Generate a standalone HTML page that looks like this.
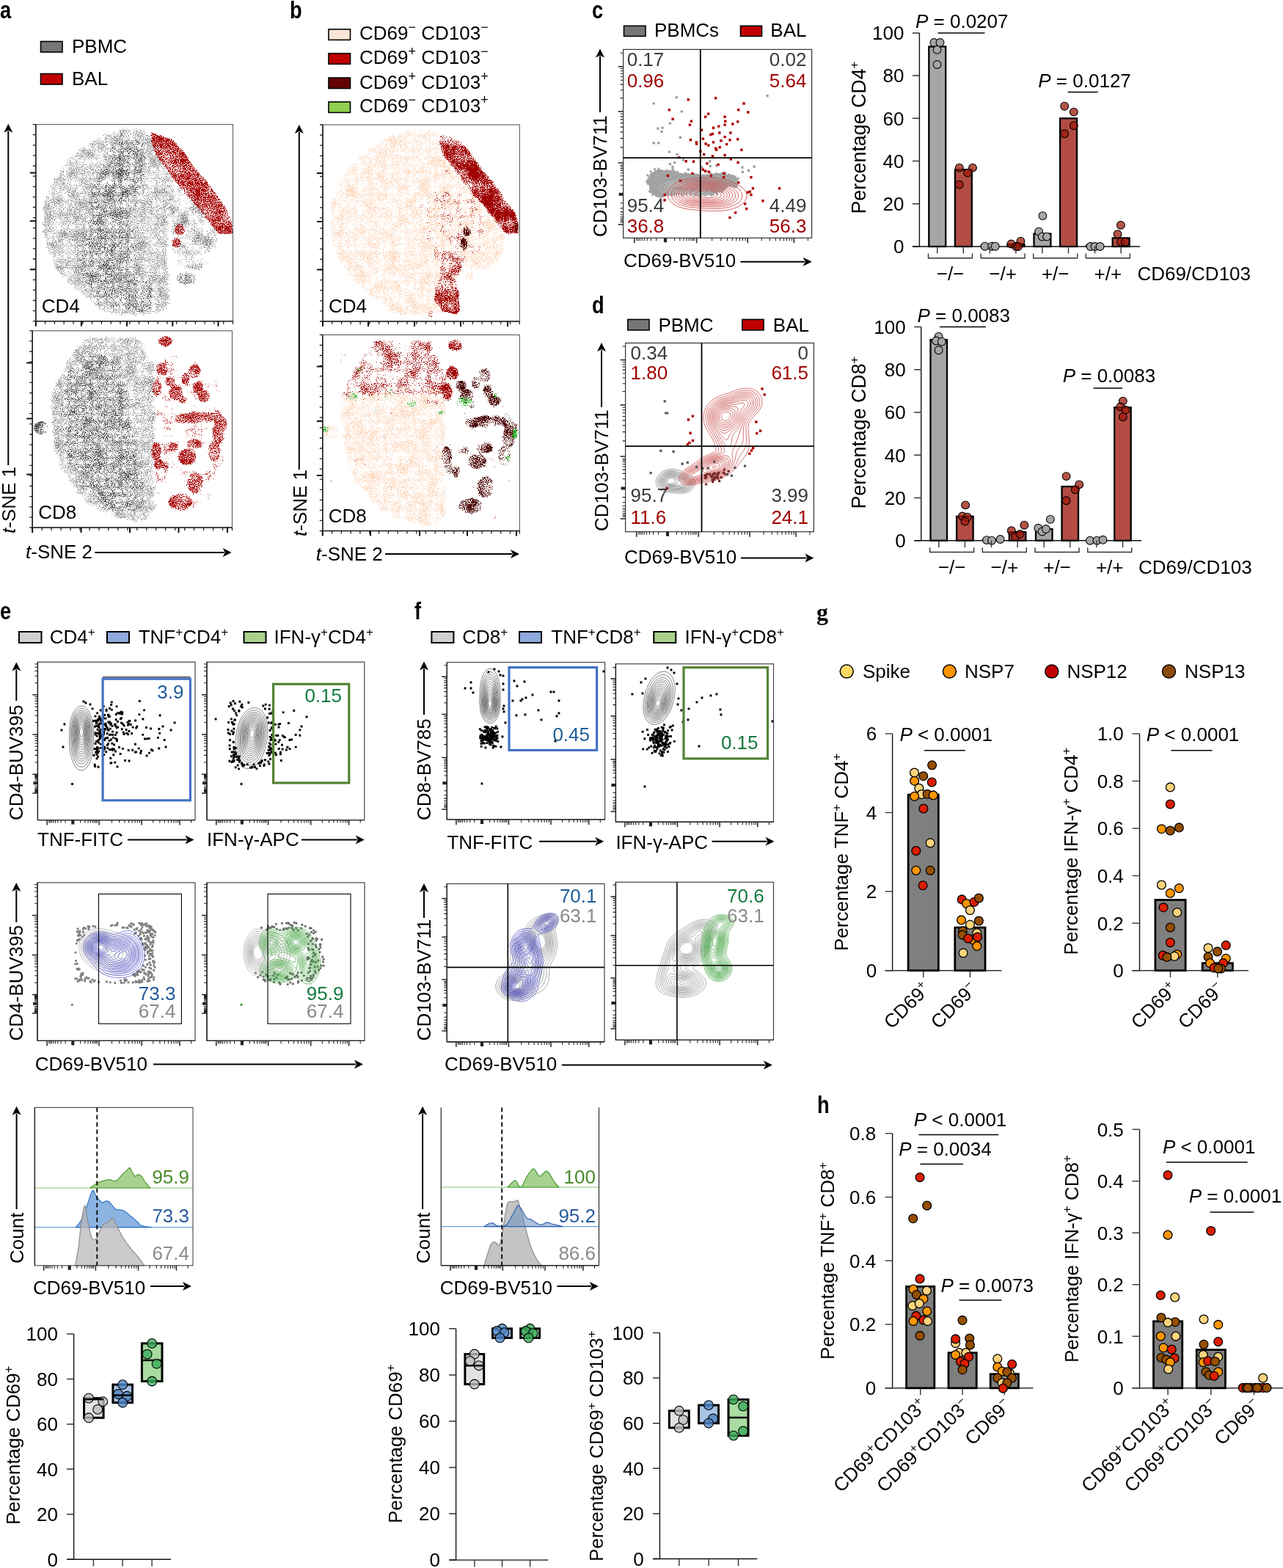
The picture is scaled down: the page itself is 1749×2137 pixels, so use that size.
<!DOCTYPE html>
<html><head><meta charset="utf-8"><title>Figure</title>
<style>html,body{margin:0;padding:0;background:#fff;overflow:hidden;}svg{display:block;}
text{font-family:"Liberation Sans",Arial,Helvetica,sans-serif;}</style></head>
<body><svg width="1749" height="2137" viewBox="0 0 1749 2137">
<defs><filter id="sf1" x="48.8" y="169.6" width="268.7" height="268.1" filterUnits="userSpaceOnUse" color-interpolation-filters="sRGB">
<feTurbulence type="fractalNoise" baseFrequency="0.9" numOctaves="1" seed="3"/>
<feColorMatrix type="matrix" values="1 0 0 0 0 1 0 0 0 0 1 0 0 0 0 0 0 0 0 1" result="hi"/>
<feTurbulence type="fractalNoise" baseFrequency="0.07" numOctaves="2" seed="53"/>
<feColorMatrix type="matrix" values="1 0 0 0 0 1 0 0 0 0 1 0 0 0 0 0 0 0 0 1" result="lo"/>
<feComposite in="hi" in2="lo" operator="arithmetic" k1="0" k2="1" k3="0.35" k4="-0.1749" result="m1"/>
<feGaussianBlur in="SourceAlpha" stdDeviation="9"/>
<feColorMatrix type="matrix" values="0 0 0 1 0 0 0 0 1 0 0 0 0 1 0 0 0 0 0 1" result="sh"/>
<feComposite in="m1" in2="sh" operator="arithmetic" k1="0" k2="1" k3="1.0" k4="-1.0000" result="m2"/>
<feColorMatrix in="m2" type="matrix" values="0 0 0 0 0.235 0 0 0 0 0.235 0 0 0 0 0.235 12 0 0 0 -6.720"/>
</filter><filter id="sf2" x="48.8" y="169.6" width="268.7" height="268.1" filterUnits="userSpaceOnUse" color-interpolation-filters="sRGB">
<feTurbulence type="fractalNoise" baseFrequency="0.9" numOctaves="1" seed="10"/>
<feColorMatrix type="matrix" values="1 0 0 0 0 1 0 0 0 0 1 0 0 0 0 0 0 0 0 1" result="hi"/>
<feTurbulence type="fractalNoise" baseFrequency="0.07" numOctaves="2" seed="60"/>
<feColorMatrix type="matrix" values="1 0 0 0 0 1 0 0 0 0 1 0 0 0 0 0 0 0 0 1" result="lo"/>
<feComposite in="hi" in2="lo" operator="arithmetic" k1="0" k2="1" k3="0.35" k4="-0.1749" result="m1"/>
<feGaussianBlur in="SourceAlpha" stdDeviation="3.0"/>
<feColorMatrix type="matrix" values="0 0 0 1 0 0 0 0 1 0 0 0 0 1 0 0 0 0 0 1" result="sh"/>
<feComposite in="m1" in2="sh" operator="arithmetic" k1="0" k2="1" k3="1.0" k4="-1.0000" result="m2"/>
<feColorMatrix in="m2" type="matrix" values="0 0 0 0 0.561 0 0 0 0 0.561 0 0 0 0 0.561 12 0 0 0 -6.120"/>
</filter><filter id="sf3" x="48.8" y="169.6" width="268.7" height="268.1" filterUnits="userSpaceOnUse" color-interpolation-filters="sRGB">
<feTurbulence type="fractalNoise" baseFrequency="0.9" numOctaves="1" seed="11"/>
<feColorMatrix type="matrix" values="1 0 0 0 0 1 0 0 0 0 1 0 0 0 0 0 0 0 0 1" result="hi"/>
<feTurbulence type="fractalNoise" baseFrequency="0.05" numOctaves="2" seed="61"/>
<feColorMatrix type="matrix" values="1 0 0 0 0 1 0 0 0 0 1 0 0 0 0 0 0 0 0 1" result="lo"/>
<feComposite in="hi" in2="lo" operator="arithmetic" k1="0" k2="1" k3="0.3" k4="-0.1499" result="m1"/>
<feGaussianBlur in="SourceAlpha" stdDeviation="2"/>
<feColorMatrix type="matrix" values="0 0 0 1 0 0 0 0 1 0 0 0 0 1 0 0 0 0 0 1" result="sh"/>
<feComposite in="m1" in2="sh" operator="arithmetic" k1="0" k2="1" k3="1.0" k4="-1.0000" result="m2"/>
<feColorMatrix in="m2" type="matrix" values="0 0 0 0 0.235 0 0 0 0 0.235 0 0 0 0 0.235 12 0 0 0 -6.600"/>
</filter><filter id="sf4" x="48.8" y="169.6" width="268.7" height="268.1" filterUnits="userSpaceOnUse" color-interpolation-filters="sRGB">
<feTurbulence type="fractalNoise" baseFrequency="0.9" numOctaves="1" seed="4"/>
<feColorMatrix type="matrix" values="1 0 0 0 0 1 0 0 0 0 1 0 0 0 0 0 0 0 0 1" result="hi"/>
<feTurbulence type="fractalNoise" baseFrequency="0.05" numOctaves="2" seed="54"/>
<feColorMatrix type="matrix" values="1 0 0 0 0 1 0 0 0 0 1 0 0 0 0 0 0 0 0 1" result="lo"/>
<feComposite in="hi" in2="lo" operator="arithmetic" k1="0" k2="1" k3="0.6" k4="-0.2999" result="m1"/>
<feGaussianBlur in="SourceAlpha" stdDeviation="3.0"/>
<feColorMatrix type="matrix" values="0 0 0 1 0 0 0 0 1 0 0 0 0 1 0 0 0 0 0 1" result="sh"/>
<feComposite in="m1" in2="sh" operator="arithmetic" k1="0" k2="1" k3="1.0" k4="-1.0000" result="m2"/>
<feColorMatrix in="m2" type="matrix" values="0 0 0 0 0.541 0 0 0 0 0.541 0 0 0 0 0.541 12 0 0 0 -6.600"/>
</filter><filter id="sf5" x="48.8" y="169.6" width="268.7" height="268.1" filterUnits="userSpaceOnUse" color-interpolation-filters="sRGB">
<feTurbulence type="fractalNoise" baseFrequency="0.9" numOctaves="1" seed="5"/>
<feColorMatrix type="matrix" values="1 0 0 0 0 1 0 0 0 0 1 0 0 0 0 0 0 0 0 1" result="hi"/>
<feTurbulence type="fractalNoise" baseFrequency="0.05" numOctaves="2" seed="55"/>
<feColorMatrix type="matrix" values="1 0 0 0 0 1 0 0 0 0 1 0 0 0 0 0 0 0 0 1" result="lo"/>
<feComposite in="hi" in2="lo" operator="arithmetic" k1="0" k2="1" k3="0.3" k4="-0.1499" result="m1"/>
<feGaussianBlur in="SourceAlpha" stdDeviation="1.2"/>
<feColorMatrix type="matrix" values="0 0 0 1 0 0 0 0 1 0 0 0 0 1 0 0 0 0 0 1" result="sh"/>
<feComposite in="m1" in2="sh" operator="arithmetic" k1="0" k2="1" k3="1.0" k4="-1.0000" result="m2"/>
<feColorMatrix in="m2" type="matrix" values="0 0 0 0 0.659 0 0 0 0 0.000 0 0 0 0 0.000 12 0 0 0 -4.920"/>
</filter><filter id="sf6" x="48.8" y="169.6" width="268.7" height="268.1" filterUnits="userSpaceOnUse" color-interpolation-filters="sRGB">
<feTurbulence type="fractalNoise" baseFrequency="0.9" numOctaves="1" seed="13"/>
<feColorMatrix type="matrix" values="1 0 0 0 0 1 0 0 0 0 1 0 0 0 0 0 0 0 0 1" result="hi"/>
<feTurbulence type="fractalNoise" baseFrequency="0.05" numOctaves="2" seed="63"/>
<feColorMatrix type="matrix" values="1 0 0 0 0 1 0 0 0 0 1 0 0 0 0 0 0 0 0 1" result="lo"/>
<feComposite in="hi" in2="lo" operator="arithmetic" k1="0" k2="1" k3="0.6" k4="-0.2999" result="m1"/>
<feGaussianBlur in="SourceAlpha" stdDeviation="4"/>
<feColorMatrix type="matrix" values="0 0 0 1 0 0 0 0 1 0 0 0 0 1 0 0 0 0 0 1" result="sh"/>
<feComposite in="m1" in2="sh" operator="arithmetic" k1="0" k2="1" k3="1.0" k4="-1.0000" result="m2"/>
<feColorMatrix in="m2" type="matrix" values="0 0 0 0 0.659 0 0 0 0 0.000 0 0 0 0 0.000 12 0 0 0 -8.160"/>
</filter><filter id="sf7" x="44.2" y="450.8" width="272.3" height="268.2" filterUnits="userSpaceOnUse" color-interpolation-filters="sRGB">
<feTurbulence type="fractalNoise" baseFrequency="0.9" numOctaves="1" seed="6"/>
<feColorMatrix type="matrix" values="1 0 0 0 0 1 0 0 0 0 1 0 0 0 0 0 0 0 0 1" result="hi"/>
<feTurbulence type="fractalNoise" baseFrequency="0.07" numOctaves="2" seed="56"/>
<feColorMatrix type="matrix" values="1 0 0 0 0 1 0 0 0 0 1 0 0 0 0 0 0 0 0 1" result="lo"/>
<feComposite in="hi" in2="lo" operator="arithmetic" k1="0" k2="1" k3="0.35" k4="-0.1749" result="m1"/>
<feGaussianBlur in="SourceAlpha" stdDeviation="9"/>
<feColorMatrix type="matrix" values="0 0 0 1 0 0 0 0 1 0 0 0 0 1 0 0 0 0 0 1" result="sh"/>
<feComposite in="m1" in2="sh" operator="arithmetic" k1="0" k2="1" k3="1.0" k4="-1.0000" result="m2"/>
<feColorMatrix in="m2" type="matrix" values="0 0 0 0 0.235 0 0 0 0 0.235 0 0 0 0 0.235 12 0 0 0 -6.720"/>
</filter><filter id="sf8" x="44.2" y="450.8" width="272.3" height="268.2" filterUnits="userSpaceOnUse" color-interpolation-filters="sRGB">
<feTurbulence type="fractalNoise" baseFrequency="0.9" numOctaves="1" seed="12"/>
<feColorMatrix type="matrix" values="1 0 0 0 0 1 0 0 0 0 1 0 0 0 0 0 0 0 0 1" result="hi"/>
<feTurbulence type="fractalNoise" baseFrequency="0.07" numOctaves="2" seed="62"/>
<feColorMatrix type="matrix" values="1 0 0 0 0 1 0 0 0 0 1 0 0 0 0 0 0 0 0 1" result="lo"/>
<feComposite in="hi" in2="lo" operator="arithmetic" k1="0" k2="1" k3="0.35" k4="-0.1749" result="m1"/>
<feGaussianBlur in="SourceAlpha" stdDeviation="3.0"/>
<feColorMatrix type="matrix" values="0 0 0 1 0 0 0 0 1 0 0 0 0 1 0 0 0 0 0 1" result="sh"/>
<feComposite in="m1" in2="sh" operator="arithmetic" k1="0" k2="1" k3="1.0" k4="-1.0000" result="m2"/>
<feColorMatrix in="m2" type="matrix" values="0 0 0 0 0.561 0 0 0 0 0.561 0 0 0 0 0.561 12 0 0 0 -6.120"/>
</filter><filter id="sf9" x="44.2" y="450.8" width="272.3" height="268.2" filterUnits="userSpaceOnUse" color-interpolation-filters="sRGB">
<feTurbulence type="fractalNoise" baseFrequency="0.9" numOctaves="1" seed="7"/>
<feColorMatrix type="matrix" values="1 0 0 0 0 1 0 0 0 0 1 0 0 0 0 0 0 0 0 1" result="hi"/>
<feTurbulence type="fractalNoise" baseFrequency="0.05" numOctaves="2" seed="57"/>
<feColorMatrix type="matrix" values="1 0 0 0 0 1 0 0 0 0 1 0 0 0 0 0 0 0 0 1" result="lo"/>
<feComposite in="hi" in2="lo" operator="arithmetic" k1="0" k2="1" k3="0.3" k4="-0.1499" result="m1"/>
<feGaussianBlur in="SourceAlpha" stdDeviation="1.0"/>
<feColorMatrix type="matrix" values="0 0 0 1 0 0 0 0 1 0 0 0 0 1 0 0 0 0 0 1" result="sh"/>
<feComposite in="m1" in2="sh" operator="arithmetic" k1="0" k2="1" k3="0.45" k4="-0.4500" result="m2"/>
<feColorMatrix in="m2" type="matrix" values="0 0 0 0 0.659 0 0 0 0 0.000 0 0 0 0 0.000 12 0 0 0 -5.160"/>
</filter><filter id="sf10" x="44.2" y="450.8" width="272.3" height="268.2" filterUnits="userSpaceOnUse" color-interpolation-filters="sRGB">
<feTurbulence type="fractalNoise" baseFrequency="0.9" numOctaves="1" seed="9"/>
<feColorMatrix type="matrix" values="1 0 0 0 0 1 0 0 0 0 1 0 0 0 0 0 0 0 0 1" result="hi"/>
<feTurbulence type="fractalNoise" baseFrequency="0.05" numOctaves="2" seed="59"/>
<feColorMatrix type="matrix" values="1 0 0 0 0 1 0 0 0 0 1 0 0 0 0 0 0 0 0 1" result="lo"/>
<feComposite in="hi" in2="lo" operator="arithmetic" k1="0" k2="1" k3="0.6" k4="-0.2999" result="m1"/>
<feGaussianBlur in="SourceAlpha" stdDeviation="1"/>
<feColorMatrix type="matrix" values="0 0 0 1 0 0 0 0 1 0 0 0 0 1 0 0 0 0 0 1" result="sh"/>
<feComposite in="m1" in2="sh" operator="arithmetic" k1="0" k2="1" k3="1.0" k4="-1.0000" result="m2"/>
<feColorMatrix in="m2" type="matrix" values="0 0 0 0 0.290 0 0 0 0 0.290 0 0 0 0 0.290 12 0 0 0 -6.000"/>
</filter><filter id="sf11" x="44.2" y="450.8" width="272.3" height="268.2" filterUnits="userSpaceOnUse" color-interpolation-filters="sRGB">
<feTurbulence type="fractalNoise" baseFrequency="0.9" numOctaves="1" seed="8"/>
<feColorMatrix type="matrix" values="1 0 0 0 0 1 0 0 0 0 1 0 0 0 0 0 0 0 0 1" result="hi"/>
<feTurbulence type="fractalNoise" baseFrequency="0.05" numOctaves="2" seed="58"/>
<feColorMatrix type="matrix" values="1 0 0 0 0 1 0 0 0 0 1 0 0 0 0 0 0 0 0 1" result="lo"/>
<feComposite in="hi" in2="lo" operator="arithmetic" k1="0" k2="1" k3="0.6" k4="-0.2999" result="m1"/>
<feGaussianBlur in="SourceAlpha" stdDeviation="2"/>
<feColorMatrix type="matrix" values="0 0 0 1 0 0 0 0 1 0 0 0 0 1 0 0 0 0 0 1" result="sh"/>
<feComposite in="m1" in2="sh" operator="arithmetic" k1="0" k2="1" k3="1.0" k4="-1.0000" result="m2"/>
<feColorMatrix in="m2" type="matrix" values="0 0 0 0 0.659 0 0 0 0 0.000 0 0 0 0 0.000 12 0 0 0 -8.640"/>
</filter><filter id="sf12" x="440" y="170" width="268.29999999999995" height="268" filterUnits="userSpaceOnUse" color-interpolation-filters="sRGB">
<feTurbulence type="fractalNoise" baseFrequency="0.9" numOctaves="1" seed="13"/>
<feColorMatrix type="matrix" values="1 0 0 0 0 1 0 0 0 0 1 0 0 0 0 0 0 0 0 1" result="hi"/>
<feTurbulence type="fractalNoise" baseFrequency="0.07" numOctaves="2" seed="63"/>
<feColorMatrix type="matrix" values="1 0 0 0 0 1 0 0 0 0 1 0 0 0 0 0 0 0 0 1" result="lo"/>
<feComposite in="hi" in2="lo" operator="arithmetic" k1="0" k2="1" k3="0.35" k4="-0.1749" result="m1"/>
<feGaussianBlur in="SourceAlpha" stdDeviation="3.0"/>
<feColorMatrix type="matrix" values="0 0 0 1 0 0 0 0 1 0 0 0 0 1 0 0 0 0 0 1" result="sh"/>
<feComposite in="m1" in2="sh" operator="arithmetic" k1="0" k2="1" k3="1.0" k4="-1.0000" result="m2"/>
<feColorMatrix in="m2" type="matrix" values="0 0 0 0 0.988 0 0 0 0 0.816 0 0 0 0 0.690 12 0 0 0 -6.360"/>
</filter><filter id="sf13" x="440" y="170" width="268.29999999999995" height="268" filterUnits="userSpaceOnUse" color-interpolation-filters="sRGB">
<feTurbulence type="fractalNoise" baseFrequency="0.9" numOctaves="1" seed="14"/>
<feColorMatrix type="matrix" values="1 0 0 0 0 1 0 0 0 0 1 0 0 0 0 0 0 0 0 1" result="hi"/>
<feTurbulence type="fractalNoise" baseFrequency="0.05" numOctaves="2" seed="64"/>
<feColorMatrix type="matrix" values="1 0 0 0 0 1 0 0 0 0 1 0 0 0 0 0 0 0 0 1" result="lo"/>
<feComposite in="hi" in2="lo" operator="arithmetic" k1="0" k2="1" k3="0.6" k4="-0.2999" result="m1"/>
<feGaussianBlur in="SourceAlpha" stdDeviation="2"/>
<feColorMatrix type="matrix" values="0 0 0 1 0 0 0 0 1 0 0 0 0 1 0 0 0 0 0 1" result="sh"/>
<feComposite in="m1" in2="sh" operator="arithmetic" k1="0" k2="1" k3="1.0" k4="-1.0000" result="m2"/>
<feColorMatrix in="m2" type="matrix" values="0 0 0 0 0.627 0 0 0 0 0.000 0 0 0 0 0.000 12 0 0 0 -4.560"/>
</filter><filter id="sf14" x="440" y="170" width="268.29999999999995" height="268" filterUnits="userSpaceOnUse" color-interpolation-filters="sRGB">
<feTurbulence type="fractalNoise" baseFrequency="0.9" numOctaves="1" seed="15"/>
<feColorMatrix type="matrix" values="1 0 0 0 0 1 0 0 0 0 1 0 0 0 0 0 0 0 0 1" result="hi"/>
<feTurbulence type="fractalNoise" baseFrequency="0.05" numOctaves="2" seed="65"/>
<feColorMatrix type="matrix" values="1 0 0 0 0 1 0 0 0 0 1 0 0 0 0 0 0 0 0 1" result="lo"/>
<feComposite in="hi" in2="lo" operator="arithmetic" k1="0" k2="1" k3="0.6" k4="-0.2999" result="m1"/>
<feGaussianBlur in="SourceAlpha" stdDeviation="3"/>
<feColorMatrix type="matrix" values="0 0 0 1 0 0 0 0 1 0 0 0 0 1 0 0 0 0 0 1" result="sh"/>
<feComposite in="m1" in2="sh" operator="arithmetic" k1="0" k2="1" k3="1.0" k4="-1.0000" result="m2"/>
<feColorMatrix in="m2" type="matrix" values="0 0 0 0 0.627 0 0 0 0 0.000 0 0 0 0 0.000 12 0 0 0 -6.720"/>
</filter><filter id="sf15" x="440" y="170" width="268.29999999999995" height="268" filterUnits="userSpaceOnUse" color-interpolation-filters="sRGB">
<feTurbulence type="fractalNoise" baseFrequency="0.9" numOctaves="1" seed="16"/>
<feColorMatrix type="matrix" values="1 0 0 0 0 1 0 0 0 0 1 0 0 0 0 0 0 0 0 1" result="hi"/>
<feTurbulence type="fractalNoise" baseFrequency="0.05" numOctaves="2" seed="66"/>
<feColorMatrix type="matrix" values="1 0 0 0 0 1 0 0 0 0 1 0 0 0 0 0 0 0 0 1" result="lo"/>
<feComposite in="hi" in2="lo" operator="arithmetic" k1="0" k2="1" k3="0.6" k4="-0.2999" result="m1"/>
<feGaussianBlur in="SourceAlpha" stdDeviation="1.2"/>
<feColorMatrix type="matrix" values="0 0 0 1 0 0 0 0 1 0 0 0 0 1 0 0 0 0 0 1" result="sh"/>
<feComposite in="m1" in2="sh" operator="arithmetic" k1="0" k2="1" k3="1.0" k4="-1.0000" result="m2"/>
<feColorMatrix in="m2" type="matrix" values="0 0 0 0 0.314 0 0 0 0 0.000 0 0 0 0 0.000 12 0 0 0 -4.800"/>
</filter><filter id="sf16" x="440" y="170" width="268.29999999999995" height="268" filterUnits="userSpaceOnUse" color-interpolation-filters="sRGB">
<feTurbulence type="fractalNoise" baseFrequency="0.9" numOctaves="1" seed="20"/>
<feColorMatrix type="matrix" values="1 0 0 0 0 1 0 0 0 0 1 0 0 0 0 0 0 0 0 1" result="hi"/>
<feTurbulence type="fractalNoise" baseFrequency="0.05" numOctaves="2" seed="70"/>
<feColorMatrix type="matrix" values="1 0 0 0 0 1 0 0 0 0 1 0 0 0 0 0 0 0 0 1" result="lo"/>
<feComposite in="hi" in2="lo" operator="arithmetic" k1="0" k2="1" k3="0.6" k4="-0.2999" result="m1"/>
<feGaussianBlur in="SourceAlpha" stdDeviation="4"/>
<feColorMatrix type="matrix" values="0 0 0 1 0 0 0 0 1 0 0 0 0 1 0 0 0 0 0 1" result="sh"/>
<feComposite in="m1" in2="sh" operator="arithmetic" k1="0" k2="1" k3="1.0" k4="-1.0000" result="m2"/>
<feColorMatrix in="m2" type="matrix" values="0 0 0 0 0.627 0 0 0 0 0.000 0 0 0 0 0.000 12 0 0 0 -8.160"/>
</filter><filter id="sf17" x="440" y="170" width="268.29999999999995" height="268" filterUnits="userSpaceOnUse" color-interpolation-filters="sRGB">
<feTurbulence type="fractalNoise" baseFrequency="0.9" numOctaves="1" seed="17"/>
<feColorMatrix type="matrix" values="1 0 0 0 0 1 0 0 0 0 1 0 0 0 0 0 0 0 0 1" result="hi"/>
<feTurbulence type="fractalNoise" baseFrequency="0.05" numOctaves="2" seed="67"/>
<feColorMatrix type="matrix" values="1 0 0 0 0 1 0 0 0 0 1 0 0 0 0 0 0 0 0 1" result="lo"/>
<feComposite in="hi" in2="lo" operator="arithmetic" k1="0" k2="1" k3="0.6" k4="-0.2999" result="m1"/>
<feGaussianBlur in="SourceAlpha" stdDeviation="1.2"/>
<feColorMatrix type="matrix" values="0 0 0 1 0 0 0 0 1 0 0 0 0 1 0 0 0 0 0 1" result="sh"/>
<feComposite in="m1" in2="sh" operator="arithmetic" k1="0" k2="1" k3="1.0" k4="-1.0000" result="m2"/>
<feColorMatrix in="m2" type="matrix" values="0 0 0 0 0.627 0 0 0 0 0.000 0 0 0 0 0.000 12 0 0 0 -5.160"/>
</filter><filter id="sf18" x="440" y="170" width="268.29999999999995" height="268" filterUnits="userSpaceOnUse" color-interpolation-filters="sRGB">
<feTurbulence type="fractalNoise" baseFrequency="0.9" numOctaves="1" seed="18"/>
<feColorMatrix type="matrix" values="1 0 0 0 0 1 0 0 0 0 1 0 0 0 0 0 0 0 0 1" result="hi"/>
<feTurbulence type="fractalNoise" baseFrequency="0.05" numOctaves="2" seed="68"/>
<feColorMatrix type="matrix" values="1 0 0 0 0 1 0 0 0 0 1 0 0 0 0 0 0 0 0 1" result="lo"/>
<feComposite in="hi" in2="lo" operator="arithmetic" k1="0" k2="1" k3="0.6" k4="-0.2999" result="m1"/>
<feGaussianBlur in="SourceAlpha" stdDeviation="7"/>
<feColorMatrix type="matrix" values="0 0 0 1 0 0 0 0 1 0 0 0 0 1 0 0 0 0 0 1" result="sh"/>
<feComposite in="m1" in2="sh" operator="arithmetic" k1="0" k2="1" k3="1.0" k4="-1.0000" result="m2"/>
<feColorMatrix in="m2" type="matrix" values="0 0 0 0 0.627 0 0 0 0 0.000 0 0 0 0 0.000 12 0 0 0 -7.920"/>
</filter><filter id="sf19" x="440" y="170" width="268.29999999999995" height="268" filterUnits="userSpaceOnUse" color-interpolation-filters="sRGB">
<feTurbulence type="fractalNoise" baseFrequency="0.9" numOctaves="1" seed="19"/>
<feColorMatrix type="matrix" values="1 0 0 0 0 1 0 0 0 0 1 0 0 0 0 0 0 0 0 1" result="hi"/>
<feTurbulence type="fractalNoise" baseFrequency="0.05" numOctaves="2" seed="69"/>
<feColorMatrix type="matrix" values="1 0 0 0 0 1 0 0 0 0 1 0 0 0 0 0 0 0 0 1" result="lo"/>
<feComposite in="hi" in2="lo" operator="arithmetic" k1="0" k2="1" k3="0.6" k4="-0.2999" result="m1"/>
<feGaussianBlur in="SourceAlpha" stdDeviation="2"/>
<feColorMatrix type="matrix" values="0 0 0 1 0 0 0 0 1 0 0 0 0 1 0 0 0 0 0 1" result="sh"/>
<feComposite in="m1" in2="sh" operator="arithmetic" k1="0" k2="1" k3="1.0" k4="-1.0000" result="m2"/>
<feColorMatrix in="m2" type="matrix" values="0 0 0 0 0.627 0 0 0 0 0.000 0 0 0 0 0.000 12 0 0 0 -6.360"/>
</filter><filter id="sf20" x="439.8" y="456.4" width="268.49999999999994" height="267.1" filterUnits="userSpaceOnUse" color-interpolation-filters="sRGB">
<feTurbulence type="fractalNoise" baseFrequency="0.9" numOctaves="1" seed="23"/>
<feColorMatrix type="matrix" values="1 0 0 0 0 1 0 0 0 0 1 0 0 0 0 0 0 0 0 1" result="hi"/>
<feTurbulence type="fractalNoise" baseFrequency="0.07" numOctaves="2" seed="73"/>
<feColorMatrix type="matrix" values="1 0 0 0 0 1 0 0 0 0 1 0 0 0 0 0 0 0 0 1" result="lo"/>
<feComposite in="hi" in2="lo" operator="arithmetic" k1="0" k2="1" k3="0.35" k4="-0.1749" result="m1"/>
<feGaussianBlur in="SourceAlpha" stdDeviation="3.0"/>
<feColorMatrix type="matrix" values="0 0 0 1 0 0 0 0 1 0 0 0 0 1 0 0 0 0 0 1" result="sh"/>
<feComposite in="m1" in2="sh" operator="arithmetic" k1="0" k2="1" k3="1.0" k4="-1.0000" result="m2"/>
<feColorMatrix in="m2" type="matrix" values="0 0 0 0 0.988 0 0 0 0 0.816 0 0 0 0 0.690 12 0 0 0 -6.360"/>
</filter><filter id="sf21" x="439.8" y="456.4" width="268.49999999999994" height="267.1" filterUnits="userSpaceOnUse" color-interpolation-filters="sRGB">
<feTurbulence type="fractalNoise" baseFrequency="0.9" numOctaves="1" seed="28"/>
<feColorMatrix type="matrix" values="1 0 0 0 0 1 0 0 0 0 1 0 0 0 0 0 0 0 0 1" result="hi"/>
<feTurbulence type="fractalNoise" baseFrequency="0.05" numOctaves="2" seed="78"/>
<feColorMatrix type="matrix" values="1 0 0 0 0 1 0 0 0 0 1 0 0 0 0 0 0 0 0 1" result="lo"/>
<feComposite in="hi" in2="lo" operator="arithmetic" k1="0" k2="1" k3="0.6" k4="-0.2999" result="m1"/>
<feGaussianBlur in="SourceAlpha" stdDeviation="1"/>
<feColorMatrix type="matrix" values="0 0 0 1 0 0 0 0 1 0 0 0 0 1 0 0 0 0 0 1" result="sh"/>
<feComposite in="m1" in2="sh" operator="arithmetic" k1="0" k2="1" k3="1.0" k4="-1.0000" result="m2"/>
<feColorMatrix in="m2" type="matrix" values="0 0 0 0 0.988 0 0 0 0 0.816 0 0 0 0 0.690 12 0 0 0 -6.000"/>
</filter><filter id="sf22" x="439.8" y="456.4" width="268.49999999999994" height="267.1" filterUnits="userSpaceOnUse" color-interpolation-filters="sRGB">
<feTurbulence type="fractalNoise" baseFrequency="0.9" numOctaves="1" seed="24"/>
<feColorMatrix type="matrix" values="1 0 0 0 0 1 0 0 0 0 1 0 0 0 0 0 0 0 0 1" result="hi"/>
<feTurbulence type="fractalNoise" baseFrequency="0.05" numOctaves="2" seed="74"/>
<feColorMatrix type="matrix" values="1 0 0 0 0 1 0 0 0 0 1 0 0 0 0 0 0 0 0 1" result="lo"/>
<feComposite in="hi" in2="lo" operator="arithmetic" k1="0" k2="1" k3="0.6" k4="-0.2999" result="m1"/>
<feGaussianBlur in="SourceAlpha" stdDeviation="3"/>
<feColorMatrix type="matrix" values="0 0 0 1 0 0 0 0 1 0 0 0 0 1 0 0 0 0 0 1" result="sh"/>
<feComposite in="m1" in2="sh" operator="arithmetic" k1="0" k2="1" k3="0.6" k4="-0.6000" result="m2"/>
<feColorMatrix in="m2" type="matrix" values="0 0 0 0 0.627 0 0 0 0 0.000 0 0 0 0 0.000 12 0 0 0 -6.720"/>
</filter><filter id="sf23" x="439.8" y="456.4" width="268.49999999999994" height="267.1" filterUnits="userSpaceOnUse" color-interpolation-filters="sRGB">
<feTurbulence type="fractalNoise" baseFrequency="0.9" numOctaves="1" seed="37"/>
<feColorMatrix type="matrix" values="1 0 0 0 0 1 0 0 0 0 1 0 0 0 0 0 0 0 0 1" result="hi"/>
<feTurbulence type="fractalNoise" baseFrequency="0.05" numOctaves="2" seed="87"/>
<feColorMatrix type="matrix" values="1 0 0 0 0 1 0 0 0 0 1 0 0 0 0 0 0 0 0 1" result="lo"/>
<feComposite in="hi" in2="lo" operator="arithmetic" k1="0" k2="1" k3="0.6" k4="-0.2999" result="m1"/>
<feGaussianBlur in="SourceAlpha" stdDeviation="1.0"/>
<feColorMatrix type="matrix" values="0 0 0 1 0 0 0 0 1 0 0 0 0 1 0 0 0 0 0 1" result="sh"/>
<feComposite in="m1" in2="sh" operator="arithmetic" k1="0" k2="1" k3="0.45" k4="-0.4500" result="m2"/>
<feColorMatrix in="m2" type="matrix" values="0 0 0 0 0.627 0 0 0 0 0.000 0 0 0 0 0.000 12 0 0 0 -4.800"/>
</filter><filter id="sf24" x="439.8" y="456.4" width="268.49999999999994" height="267.1" filterUnits="userSpaceOnUse" color-interpolation-filters="sRGB">
<feTurbulence type="fractalNoise" baseFrequency="0.9" numOctaves="1" seed="25"/>
<feColorMatrix type="matrix" values="1 0 0 0 0 1 0 0 0 0 1 0 0 0 0 0 0 0 0 1" result="hi"/>
<feTurbulence type="fractalNoise" baseFrequency="0.05" numOctaves="2" seed="75"/>
<feColorMatrix type="matrix" values="1 0 0 0 0 1 0 0 0 0 1 0 0 0 0 0 0 0 0 1" result="lo"/>
<feComposite in="hi" in2="lo" operator="arithmetic" k1="0" k2="1" k3="0.6" k4="-0.2999" result="m1"/>
<feGaussianBlur in="SourceAlpha" stdDeviation="1.0"/>
<feColorMatrix type="matrix" values="0 0 0 1 0 0 0 0 1 0 0 0 0 1 0 0 0 0 0 1" result="sh"/>
<feComposite in="m1" in2="sh" operator="arithmetic" k1="0" k2="1" k3="0.45" k4="-0.4500" result="m2"/>
<feColorMatrix in="m2" type="matrix" values="0 0 0 0 0.290 0 0 0 0 0.000 0 0 0 0 0.000 12 0 0 0 -5.640"/>
</filter><filter id="sf25" x="439.8" y="456.4" width="268.49999999999994" height="267.1" filterUnits="userSpaceOnUse" color-interpolation-filters="sRGB">
<feTurbulence type="fractalNoise" baseFrequency="0.9" numOctaves="1" seed="26"/>
<feColorMatrix type="matrix" values="1 0 0 0 0 1 0 0 0 0 1 0 0 0 0 0 0 0 0 1" result="hi"/>
<feTurbulence type="fractalNoise" baseFrequency="0.05" numOctaves="2" seed="76"/>
<feColorMatrix type="matrix" values="1 0 0 0 0 1 0 0 0 0 1 0 0 0 0 0 0 0 0 1" result="lo"/>
<feComposite in="hi" in2="lo" operator="arithmetic" k1="0" k2="1" k3="0.6" k4="-0.2999" result="m1"/>
<feGaussianBlur in="SourceAlpha" stdDeviation="2"/>
<feColorMatrix type="matrix" values="0 0 0 1 0 0 0 0 1 0 0 0 0 1 0 0 0 0 0 1" result="sh"/>
<feComposite in="m1" in2="sh" operator="arithmetic" k1="0" k2="1" k3="0.5" k4="-0.5000" result="m2"/>
<feColorMatrix in="m2" type="matrix" values="0 0 0 0 0.133 0 0 0 0 0.690 0 0 0 0 0.133 12 0 0 0 -6.000"/>
</filter><clipPath id="cpb8"><path d="M440 533L710 541V730H440Z"/></clipPath><filter id="sf26" x="439.8" y="456.4" width="268.49999999999994" height="267.1" filterUnits="userSpaceOnUse" color-interpolation-filters="sRGB">
<feTurbulence type="fractalNoise" baseFrequency="0.9" numOctaves="1" seed="29"/>
<feColorMatrix type="matrix" values="1 0 0 0 0 1 0 0 0 0 1 0 0 0 0 0 0 0 0 1" result="hi"/>
<feTurbulence type="fractalNoise" baseFrequency="0.05" numOctaves="2" seed="79"/>
<feColorMatrix type="matrix" values="1 0 0 0 0 1 0 0 0 0 1 0 0 0 0 0 0 0 0 1" result="lo"/>
<feComposite in="hi" in2="lo" operator="arithmetic" k1="0" k2="1" k3="0.6" k4="-0.2999" result="m1"/>
<feGaussianBlur in="SourceAlpha" stdDeviation="3"/>
<feColorMatrix type="matrix" values="0 0 0 1 0 0 0 0 1 0 0 0 0 1 0 0 0 0 0 1" result="sh"/>
<feComposite in="m1" in2="sh" operator="arithmetic" k1="0" k2="1" k3="1.0" k4="-1.0000" result="m2"/>
<feColorMatrix in="m2" type="matrix" values="0 0 0 0 0.478 0 0 0 0 0.039 0 0 0 0 0.039 12 0 0 0 -6.600"/>
</filter><filter id="sf27" x="439.8" y="456.4" width="268.49999999999994" height="267.1" filterUnits="userSpaceOnUse" color-interpolation-filters="sRGB">
<feTurbulence type="fractalNoise" baseFrequency="0.9" numOctaves="1" seed="31"/>
<feColorMatrix type="matrix" values="1 0 0 0 0 1 0 0 0 0 1 0 0 0 0 0 0 0 0 1" result="hi"/>
<feTurbulence type="fractalNoise" baseFrequency="0.05" numOctaves="2" seed="81"/>
<feColorMatrix type="matrix" values="1 0 0 0 0 1 0 0 0 0 1 0 0 0 0 0 0 0 0 1" result="lo"/>
<feComposite in="hi" in2="lo" operator="arithmetic" k1="0" k2="1" k3="0.6" k4="-0.2999" result="m1"/>
<feGaussianBlur in="SourceAlpha" stdDeviation="3"/>
<feColorMatrix type="matrix" values="0 0 0 1 0 0 0 0 1 0 0 0 0 1 0 0 0 0 0 1" result="sh"/>
<feComposite in="m1" in2="sh" operator="arithmetic" k1="0" k2="1" k3="1.0" k4="-1.0000" result="m2"/>
<feColorMatrix in="m2" type="matrix" values="0 0 0 0 0.627 0 0 0 0 0.000 0 0 0 0 0.000 12 0 0 0 -7.920"/>
</filter><filter id="sf28" x="439.8" y="456.4" width="268.49999999999994" height="267.1" filterUnits="userSpaceOnUse" color-interpolation-filters="sRGB">
<feTurbulence type="fractalNoise" baseFrequency="0.9" numOctaves="1" seed="32"/>
<feColorMatrix type="matrix" values="1 0 0 0 0 1 0 0 0 0 1 0 0 0 0 0 0 0 0 1" result="hi"/>
<feTurbulence type="fractalNoise" baseFrequency="0.05" numOctaves="2" seed="82"/>
<feColorMatrix type="matrix" values="1 0 0 0 0 1 0 0 0 0 1 0 0 0 0 0 0 0 0 1" result="lo"/>
<feComposite in="hi" in2="lo" operator="arithmetic" k1="0" k2="1" k3="0.6" k4="-0.2999" result="m1"/>
<feGaussianBlur in="SourceAlpha" stdDeviation="3"/>
<feColorMatrix type="matrix" values="0 0 0 1 0 0 0 0 1 0 0 0 0 1 0 0 0 0 0 1" result="sh"/>
<feComposite in="m1" in2="sh" operator="arithmetic" k1="0" k2="1" k3="1.0" k4="-1.0000" result="m2"/>
<feColorMatrix in="m2" type="matrix" values="0 0 0 0 0.988 0 0 0 0 0.816 0 0 0 0 0.690 12 0 0 0 -7.440"/>
</filter></defs>
<rect width="1749" height="2137" fill="#fff"/>
<text transform="translate(0 24.8) scale(0.84 1)" font-size="32.5" font-weight="bold">a</text><rect x="55.5" y="56.5" width="29.5" height="14.5" fill="#777" stroke="#000" stroke-width="1.6"/><text x="98" y="72.4" font-size="26">PBMC</text><rect x="55.5" y="100.5" width="29.5" height="14.5" fill="#c00000" stroke="#000" stroke-width="1.6"/><text x="98" y="116.4" font-size="26">BAL</text><g filter="url(#sf2)" fill="#000"><path d="M163.6 171.7L203 171.7L212 186L220 201L228 222L236 250L236 290L232 343.8L235.5 377.2L235.5 420.6L223.8 429L190.4 434L157 434L136.9 427.3L118.5 410.6L95.1 393.9L73.4 368.8L61.7 343.8L53.4 310.4L55 277L70 243.5L90.1 215.1L116.8 193.4L140 180Z"/></g><g filter="url(#sf1)" fill="#000"><path d="M150 178L200 178L212 200L205 250L190 300L200 360L225 400L215 434L150 434L110 405L95 360L100 300L120 240L135 200Z"/></g><g filter="url(#sf2)" fill="#000"><ellipse cx="254" cy="380" rx="18" ry="14"/></g><g filter="url(#sf3)" fill="#000"><ellipse cx="252" cy="379" rx="14" ry="11"/></g><g filter="url(#sf4)" fill="#000"><path d="M222 222L250 250L275 275L300 310L300 340L290 362L270 372L252 368L236 365L232 343Z"/></g><g filter="url(#sf5)" fill="#000"><path d="M205 178L237 190L254 209L266 228L283 246L298 267L311 286L318 305L318 320L297 320L281 300L267 282L251 265L236 245L221 225L210 210L205 193Z"/><ellipse cx="245" cy="313" rx="8.5" ry="9"/><ellipse cx="240.5" cy="331" rx="7.5" ry="8"/></g><g filter="url(#sf6)" fill="#000"><path d="M205 193L210 210L221 225L236 245L251 265L267 282L281 300L297 320L318 322L300 330L275 305L255 285L235 265L218 245L205 225L198 205Z"/></g><rect x="48.8" y="169.6" width="268.7" height="268.1" fill="none" stroke="#666" stroke-width="1.2"/><line x1="48.8" y1="169.6" x2="48.8" y2="437.7" stroke="#222" stroke-width="1.6"/><line x1="48.8" y1="437.7" x2="317.5" y2="437.7" stroke="#222" stroke-width="1.6"/><path d="M44.8 437.7H48.8M44.8 423.6H48.8M44.8 409.5H48.8M44.8 395.4H48.8M44.8 381.3H48.8M44.8 367.1H48.8M44.8 353H48.8M44.8 338.9H48.8M44.8 324.8H48.8M44.8 310.7H48.8M44.8 296.6H48.8M44.8 282.5H48.8M44.8 268.4H48.8M44.8 254.3H48.8M44.8 240.2H48.8M44.8 226H48.8M44.8 211.9H48.8M44.8 197.8H48.8M44.8 183.7H48.8M44.8 169.6H48.8M48.8 437.7V441.7M61.6 437.7V441.7M74.4 437.7V441.7M87.2 437.7V441.7M100 437.7V441.7M112.8 437.7V441.7M125.6 437.7V441.7M138.4 437.7V441.7M151.2 437.7V441.7M164 437.7V441.7M176.8 437.7V441.7M189.5 437.7V441.7M202.3 437.7V441.7M215.1 437.7V441.7M227.9 437.7V441.7M240.7 437.7V441.7M253.5 437.7V441.7M266.3 437.7V441.7M279.1 437.7V441.7M291.9 437.7V441.7M304.7 437.7V441.7M317.5 437.7V441.7" fill="none" stroke="#222" stroke-width="1.3"/><path d="M40.8 235.5H48.8M40.8 301.3H48.8M40.8 367.2H48.8M48.8 437.7V444.7M110.9 437.7V444.7M173 437.7V444.7M235.3 437.7V444.7M297.5 437.7V444.7" fill="none" stroke="#111" stroke-width="2"/><text x="56.8" y="425.7" font-size="26">CD4</text><g filter="url(#sf8)" fill="#000"><path d="M111.8 456.7L133.5 455L190.4 456.7L200.4 470L205 487L215.4 495L216 540L215.4 600L216 650L215.4 695.6L207 712.3L182 715.6L140.2 704L115.2 687.2L85 653.8L70 612L65 560L65 536.9L90.1 486.8Z"/></g><g filter="url(#sf7)" fill="#000"><path d="M80 500L110 470L160 470L180 500L190 560L200 620L208 670L200 712L140 706L100 672L76 620L70 560Z"/></g><g filter="url(#sf10)" fill="#000"><ellipse cx="56" cy="583" rx="11" ry="11"/></g><g filter="url(#sf9)" fill="#000"><ellipse cx="225" cy="465" rx="10" ry="8"/><ellipse cx="221" cy="503" rx="9" ry="10"/><ellipse cx="214" cy="528" rx="7.5" ry="13"/><ellipse cx="232" cy="520" rx="7.8" ry="7.8"/><ellipse cx="240" cy="535" rx="10.4" ry="10.4"/><ellipse cx="248" cy="545" rx="6.5" ry="6.5"/><ellipse cx="253" cy="516" rx="6.5" ry="9.1"/><ellipse cx="265" cy="506" rx="9.1" ry="10.4"/><ellipse cx="270" cy="528" rx="7.8" ry="10.4"/><ellipse cx="278" cy="540" rx="9.1" ry="9.1"/><ellipse cx="250" cy="570" rx="13.0" ry="7.8"/><ellipse cx="265" cy="569" rx="13.0" ry="9.1"/><ellipse cx="282" cy="568" rx="11.7" ry="7.8"/><ellipse cx="296" cy="568" rx="7.8" ry="10.4"/><ellipse cx="298" cy="590" rx="9.1" ry="15.6"/><ellipse cx="292" cy="615" rx="9.1" ry="15.6"/><ellipse cx="303" cy="578" rx="7.8" ry="10.4"/><ellipse cx="213" cy="615" rx="7.8" ry="13.0"/><ellipse cx="216" cy="632" rx="6.5" ry="9.1"/><ellipse cx="226" cy="637" rx="5.2" ry="9.1"/><ellipse cx="236" cy="609" rx="7.8" ry="6.5"/><ellipse cx="265" cy="605" rx="11.7" ry="7.8"/><ellipse cx="255" cy="623" rx="13.0" ry="11.7"/><ellipse cx="266" cy="658" rx="11.7" ry="15.6"/><ellipse cx="246" cy="684" rx="16.9" ry="11.7"/></g><g filter="url(#sf11)" fill="#000"><path d="M208 490L240 480L280 495L300 520L310 560L310 620L300 650L285 690L260 700L230 700L210 680L208 600Z"/></g><rect x="44.2" y="450.8" width="272.3" height="268.2" fill="none" stroke="#666" stroke-width="1.2"/><line x1="44.2" y1="450.8" x2="44.2" y2="719" stroke="#222" stroke-width="1.6"/><line x1="44.2" y1="719" x2="316.5" y2="719" stroke="#222" stroke-width="1.6"/><path d="M40.2 719H44.2M40.2 704.9H44.2M40.2 690.8H44.2M40.2 676.7H44.2M40.2 662.5H44.2M40.2 648.4H44.2M40.2 634.3H44.2M40.2 620.2H44.2M40.2 606.1H44.2M40.2 592H44.2M40.2 577.8H44.2M40.2 563.7H44.2M40.2 549.6H44.2M40.2 535.5H44.2M40.2 521.4H44.2M40.2 507.3H44.2M40.2 493.1H44.2M40.2 479H44.2M40.2 464.9H44.2M40.2 450.8H44.2M44.2 719V723M57.2 719V723M70.1 719V723M83.1 719V723M96.1 719V723M109 719V723M122 719V723M135 719V723M147.9 719V723M160.9 719V723M173.9 719V723M186.8 719V723M199.8 719V723M212.8 719V723M225.7 719V723M238.7 719V723M251.7 719V723M264.6 719V723M277.6 719V723M290.6 719V723M303.5 719V723M316.5 719V723" fill="none" stroke="#222" stroke-width="1.3"/><path d="M36.2 494.4H44.2M36.2 570.5H44.2M36.2 646.5H44.2M44.2 719V726M110.6 719V726M177 719V726M243.5 719V726M310 719V726" fill="none" stroke="#111" stroke-width="2"/><text x="52.2" y="707" font-size="26">CD8</text><line x1="11.3" y1="634" x2="11.3" y2="178.8" stroke="#000" stroke-width="2"/><path d="M11.3 168.8L5.3 180.8L11.3 177.8L17.3 180.8Z" fill="#000"/><text x="20.6" y="727" font-size="26" transform="rotate(-90 20.6 727)"><tspan font-style="italic">t</tspan>-SNE 1</text><text x="35" y="760.5" font-size="26"><tspan font-style="italic">t</tspan>-SNE 2</text><line x1="129.4" y1="753" x2="305.7" y2="753" stroke="#000" stroke-width="2"/><path d="M315.7 753L303.7 747L306.7 753L303.7 759Z" fill="#000"/><text transform="translate(395 24.8) scale(0.84 1)" font-size="32.5" font-weight="bold">b</text><rect x="448" y="39.9" width="29.5" height="14.5" fill="#fbe4d5" stroke="#000" stroke-width="1.6"/><text x="490" y="54.4" font-size="26">CD69<tspan dy="-11" font-size="18">−</tspan><tspan dy="11"> CD103</tspan><tspan dy="-11" font-size="18">−</tspan></text><rect x="448" y="72.8" width="29.5" height="14.5" fill="#c00000" stroke="#000" stroke-width="1.6"/><text x="490" y="87.3" font-size="26">CD69<tspan dy="-11" font-size="18">+</tspan><tspan dy="11"> CD103</tspan><tspan dy="-11" font-size="18">−</tspan></text><rect x="448" y="106" width="29.5" height="14.5" fill="#650000" stroke="#000" stroke-width="1.6"/><text x="490" y="120.5" font-size="26">CD69<tspan dy="-11" font-size="18">+</tspan><tspan dy="11"> CD103</tspan><tspan dy="-11" font-size="18">+</tspan></text><rect x="448" y="138.9" width="29.5" height="14.5" fill="#92d050" stroke="#000" stroke-width="1.6"/><text x="490" y="153.4" font-size="26">CD69<tspan dy="-11" font-size="18">−</tspan><tspan dy="11"> CD103</tspan><tspan dy="-11" font-size="18">+</tspan></text><g filter="url(#sf12)" fill="#000"><path d="M554.8 172.1L594.2 172.1L603.2 186.4L611.2 201.4L619.2 222.4L627.2 250.4L627.2 290.4L623.2 344.2L626.7 377.6L626.7 421L615 429.4L581.6 434.4L548.2 434.4L528.1 427.7L509.7 411L486.3 394.3L464.6 369.2L452.9 344.2L444.6 310.8L446.2 277.4L461.2 243.9L481.3 215.5L508 193.8L531.2 180.4Z"/><path d="M613.2 222.4L641.2 250.4L666.2 275.4L691.2 310.4L691.2 340.4L681.2 362.4L661.2 372.4L643.2 368.4L627.2 365.4L623.2 343.4Z"/><ellipse cx="640" cy="378.4" rx="11" ry="10"/></g><g filter="url(#sf13)" fill="#000"><path d="M596.2 178.4L628.2 190.4L645.2 209.4L657.2 228.4L674.2 246.4L689.2 267.4L702.2 286.4L709.2 305.4L709.2 320.4L688.2 320.4L672.2 300.4L658.2 282.4L642.2 265.4L627.2 245.4L612.2 225.4L601.2 210.4L596.2 193.4Z"/></g><g filter="url(#sf16)" fill="#000"><path d="M596.2 193.4L601.2 210.4L612.2 225.4L627.2 245.4L642.2 265.4L658.2 282.4L672.2 300.4L688.2 320.4L709.2 322.4L691.2 330.4L666.2 305.4L646.2 285.4L626.2 265.4L609.2 245.4L596.2 225.4L589.2 205.4Z"/></g><g filter="url(#sf18)" fill="#000"><path d="M566 250L640 252L678 300L668 340L640 362L620 372L585 362L566 300Z"/></g><g filter="url(#sf17)" fill="#000"><path d="M598 378L612 372L622 380L627 400L628 424L622 430L602 425L590 410L592 392Z"/><ellipse cx="587" cy="428" rx="5" ry="6"/></g><g filter="url(#sf19)" fill="#000"><path d="M600 345L612 338L632 356L630 372L620 382L598 382L596 362Z"/></g><g filter="url(#sf15)" fill="#000"><ellipse cx="627.8" cy="305" rx="3.5" ry="4.5"/><ellipse cx="637" cy="315" rx="7" ry="8.5"/><ellipse cx="632" cy="333" rx="6" ry="10"/><ellipse cx="704" cy="310" rx="4" ry="8"/></g><rect x="440" y="170" width="268.3" height="268" fill="none" stroke="#666" stroke-width="1.2"/><line x1="440" y1="170" x2="440" y2="438" stroke="#222" stroke-width="1.6"/><line x1="440" y1="438" x2="708.3" y2="438" stroke="#222" stroke-width="1.6"/><path d="M436 438H440M436 423.9H440M436 409.8H440M436 395.7H440M436 381.6H440M436 367.5H440M436 353.4H440M436 339.3H440M436 325.2H440M436 311.1H440M436 296.9H440M436 282.8H440M436 268.7H440M436 254.6H440M436 240.5H440M436 226.4H440M436 212.3H440M436 198.2H440M436 184.1H440M436 170H440M440 438V442M452.8 438V442M465.6 438V442M478.3 438V442M491.1 438V442M503.9 438V442M516.7 438V442M529.4 438V442M542.2 438V442M555 438V442M567.8 438V442M580.5 438V442M593.3 438V442M606.1 438V442M618.9 438V442M631.6 438V442M644.4 438V442M657.2 438V442M670 438V442M682.7 438V442M695.5 438V442M708.3 438V442" fill="none" stroke="#222" stroke-width="1.3"/><path d="M432 236H440M432 302H440M432 367.5H440M440 438V445M502 438V445M565 438V445M628 438V445M692 438V445" fill="none" stroke="#111" stroke-width="2"/><text x="448" y="426" font-size="26">CD4</text><g clip-path="url(#cpb8)"><g filter="url(#sf20)" fill="#000"><path d="M507.4 462.3L529.1 460.6L586 462.3L596 475.6L600.6 492.6L611 500.6L611.6 545.6L611 605.6L611.6 655.6L611 701.2L602.6 717.9L577.6 721.2L535.8 709.6L510.8 692.8L480.6 659.4L465.6 617.6L460.6 565.6L460.6 542.5L485.7 492.4Z"/></g></g><g filter="url(#sf21)" fill="#000"><ellipse cx="451.6" cy="588.6" rx="11" ry="11"/></g><g filter="url(#sf22)" fill="#000"><path d="M460.6 542L485.7 492.4L507.4 462.3L529.1 460.6L586 462.3L596 475.6L600.6 492.6L611 500.6L611.6 542Z"/></g><g filter="url(#sf26)" fill="#000"><ellipse cx="515" cy="476" rx="14" ry="11"/><ellipse cx="542" cy="484" rx="10" ry="10"/></g><g filter="url(#sf27)" fill="#000"><path d="M462 534L611 542L611 556L462 548Z"/></g><g filter="url(#sf28)" fill="#000"><path d="M470 520L611 526L611 541L462 534Z"/></g><g filter="url(#sf23)" fill="#000"><ellipse cx="620.6" cy="470.6" rx="10" ry="8"/><ellipse cx="616.6" cy="508.6" rx="9" ry="10"/><ellipse cx="609.6" cy="533.6" rx="7.5" ry="13"/></g><g filter="url(#sf24)" fill="#000"><ellipse cx="627.6" cy="525.6" rx="7.8" ry="7.8"/><ellipse cx="635.6" cy="540.6" rx="10.4" ry="10.4"/><ellipse cx="643.6" cy="550.6" rx="6.5" ry="6.5"/><ellipse cx="648.6" cy="521.6" rx="6.5" ry="9.1"/><ellipse cx="660.6" cy="511.6" rx="9.1" ry="10.4"/><ellipse cx="665.6" cy="533.6" rx="7.8" ry="10.4"/><ellipse cx="673.6" cy="545.6" rx="9.1" ry="9.1"/><ellipse cx="645.6" cy="575.6" rx="13.0" ry="7.8"/><ellipse cx="660.6" cy="574.6" rx="13.0" ry="9.1"/><ellipse cx="677.6" cy="573.6" rx="11.7" ry="7.8"/><ellipse cx="691.6" cy="573.6" rx="7.8" ry="10.4"/><ellipse cx="693.6" cy="595.6" rx="9.1" ry="15.6"/><ellipse cx="687.6" cy="620.6" rx="9.1" ry="15.6"/><ellipse cx="698.6" cy="583.6" rx="7.8" ry="10.4"/><ellipse cx="608.6" cy="620.6" rx="7.8" ry="13.0"/><ellipse cx="611.6" cy="637.6" rx="6.5" ry="9.1"/><ellipse cx="621.6" cy="642.6" rx="5.2" ry="9.1"/><ellipse cx="631.6" cy="614.6" rx="7.8" ry="6.5"/><ellipse cx="660.6" cy="610.6" rx="11.7" ry="7.8"/><ellipse cx="650.6" cy="628.6" rx="13.0" ry="11.7"/><ellipse cx="661.6" cy="663.6" rx="11.7" ry="15.6"/><ellipse cx="641.6" cy="689.6" rx="16.9" ry="11.7"/></g><g filter="url(#sf25)" fill="#000"><ellipse cx="480" cy="540" rx="10" ry="6"/><ellipse cx="530" cy="537" rx="9" ry="9"/><ellipse cx="561" cy="550" rx="9" ry="6"/><ellipse cx="633" cy="548" rx="14" ry="9"/><ellipse cx="690" cy="568" rx="8" ry="10"/><ellipse cx="702" cy="592" rx="6" ry="10"/><ellipse cx="444" cy="584" rx="6" ry="6"/><ellipse cx="490" cy="503" rx="5" ry="8"/><ellipse cx="676" cy="540" rx="6" ry="5"/><ellipse cx="692" cy="624" rx="5" ry="7"/><ellipse cx="600" cy="562" rx="6" ry="5"/><ellipse cx="512" cy="560" rx="6" ry="5"/></g><rect x="439.8" y="456.4" width="268.5" height="267.1" fill="none" stroke="#666" stroke-width="1.2"/><line x1="439.8" y1="456.4" x2="439.8" y2="723.5" stroke="#222" stroke-width="1.6"/><line x1="439.8" y1="723.5" x2="708.3" y2="723.5" stroke="#222" stroke-width="1.6"/><path d="M435.8 723.5H439.8M435.8 709.4H439.8M435.8 695.4H439.8M435.8 681.3H439.8M435.8 667.3H439.8M435.8 653.2H439.8M435.8 639.2H439.8M435.8 625.1H439.8M435.8 611H439.8M435.8 597H439.8M435.8 582.9H439.8M435.8 568.9H439.8M435.8 554.8H439.8M435.8 540.7H439.8M435.8 526.7H439.8M435.8 512.6H439.8M435.8 498.6H439.8M435.8 484.5H439.8M435.8 470.5H439.8M435.8 456.4H439.8M439.8 723.5V727.5M452.6 723.5V727.5M465.4 723.5V727.5M478.2 723.5V727.5M490.9 723.5V727.5M503.7 723.5V727.5M516.5 723.5V727.5M529.3 723.5V727.5M542.1 723.5V727.5M554.9 723.5V727.5M567.7 723.5V727.5M580.4 723.5V727.5M593.2 723.5V727.5M606 723.5V727.5M618.8 723.5V727.5M631.6 723.5V727.5M644.4 723.5V727.5M657.2 723.5V727.5M669.9 723.5V727.5M682.7 723.5V727.5M695.5 723.5V727.5M708.3 723.5V727.5" fill="none" stroke="#222" stroke-width="1.3"/><path d="M431.8 499.5H439.8M431.8 574H439.8M431.8 648H439.8M439.8 723.5V730.5M505 723.5V730.5M572 723.5V730.5M637 723.5V730.5M704 723.5V730.5" fill="none" stroke="#111" stroke-width="2"/><text x="447.8" y="711.5" font-size="26">CD8</text><line x1="407.8" y1="640" x2="407.8" y2="180" stroke="#000" stroke-width="2"/><path d="M407.8 170L401.8 182L407.8 179L413.8 182Z" fill="#000"/><text x="417.5" y="731" font-size="26" transform="rotate(-90 417.5 731)"><tspan font-style="italic">t</tspan>-SNE 1</text><text x="430.8" y="764" font-size="26"><tspan font-style="italic">t</tspan>-SNE 2</text><line x1="525" y1="755" x2="698" y2="755" stroke="#000" stroke-width="2"/><path d="M708 755L696 749L699 755L696 761Z" fill="#000"/><text transform="translate(807 24.6) scale(0.84 1)" font-size="32.5" font-weight="bold">c</text><rect x="850.5" y="35.3" width="29.5" height="14.1" fill="#777" stroke="#000" stroke-width="1.6"/><text x="892" y="50.2" font-size="26">PBMCs</text><rect x="1009.5" y="35.3" width="29" height="14.1" fill="#c00000" stroke="#000" stroke-width="1.6"/><text x="1050.3" y="50.2" font-size="26">BAL</text><path d="M881.5 248.1L887.4 237.7L896.4 232.4L903.9 233.2L914.4 233.2L921.9 236.2L933.9 237.7L945.9 237.7L954.8 239.9L963.8 239.2L977.3 236.9L989.3 238.4L999.8 239.9L1004.3 244.4L1004.3 254.9L993.8 251.9L984.8 259.4L969.8 263.9L954.8 266.1L939.9 263.9L924.9 263.9L909.9 265.4L900.9 268.4L894.9 266.9L887.4 260.9L885.9 251.9Z" fill="#a3a3a3" stroke="#a3a3a3" stroke-width="2.5" stroke-linejoin="round"/><path d="M880.6 245.7h3.0v3.0h-3.0zM885.3 242.2h3.0v3.0h-3.0zM883.2 242.6h3.0v3.0h-3.0zM882.7 242.6h3.0v3.0h-3.0zM881.4 237.4h3.0v3.0h-3.0zM885.2 239.9h3.0v3.0h-3.0zM887.1 237.0h3.0v3.0h-3.0zM885.8 232.5h3.0v3.0h-3.0zM892.3 232.4h3.0v3.0h-3.0zM892.5 233.4h3.0v3.0h-3.0zM891.0 229.2h3.0v3.0h-3.0zM896.5 228.6h3.0v3.0h-3.0zM897.7 231.2h3.0v3.0h-3.0zM900.0 231.1h3.0v3.0h-3.0zM903.3 233.8h3.0v3.0h-3.0zM907.9 231.0h3.0v3.0h-3.0zM906.3 233.1h3.0v3.0h-3.0zM910.6 232.1h3.0v3.0h-3.0zM910.6 232.7h3.0v3.0h-3.0zM915.5 229.3h3.0v3.0h-3.0zM917.8 232.9h3.0v3.0h-3.0zM917.0 231.3h3.0v3.0h-3.0zM919.7 234.5h3.0v3.0h-3.0zM921.8 233.0h3.0v3.0h-3.0zM922.7 236.3h3.0v3.0h-3.0zM926.9 235.9h3.0v3.0h-3.0zM930.0 236.9h3.0v3.0h-3.0zM933.9 235.9h3.0v3.0h-3.0zM932.9 234.6h3.0v3.0h-3.0zM935.9 236.6h3.0v3.0h-3.0zM936.5 236.1h3.0v3.0h-3.0zM939.9 242.0h3.0v3.0h-3.0zM941.3 238.2h3.0v3.0h-3.0zM945.0 236.0h3.0v3.0h-3.0zM947.1 237.3h3.0v3.0h-3.0zM948.6 236.8h3.0v3.0h-3.0zM950.1 237.1h3.0v3.0h-3.0zM953.3 238.1h3.0v3.0h-3.0zM956.6 240.5h3.0v3.0h-3.0zM957.2 237.6h3.0v3.0h-3.0zM961.6 237.8h3.0v3.0h-3.0zM962.0 237.1h3.0v3.0h-3.0zM964.0 239.5h3.0v3.0h-3.0zM967.4 235.3h3.0v3.0h-3.0zM966.8 236.0h3.0v3.0h-3.0zM969.8 237.4h3.0v3.0h-3.0zM969.1 238.0h3.0v3.0h-3.0zM972.8 237.3h3.0v3.0h-3.0zM974.8 235.2h3.0v3.0h-3.0zM980.4 235.9h3.0v3.0h-3.0zM983.1 240.1h3.0v3.0h-3.0zM982.6 234.8h3.0v3.0h-3.0zM983.7 234.2h3.0v3.0h-3.0zM987.3 234.3h3.0v3.0h-3.0zM985.7 236.2h3.0v3.0h-3.0zM994.7 237.9h3.0v3.0h-3.0zM992.2 236.4h3.0v3.0h-3.0zM997.8 238.5h3.0v3.0h-3.0zM997.9 240.5h3.0v3.0h-3.0zM1000.6 239.6h3.0v3.0h-3.0zM1001.6 242.3h3.0v3.0h-3.0zM1004.8 241.8h3.0v3.0h-3.0zM1002.5 245.3h3.0v3.0h-3.0zM999.5 246.8h3.0v3.0h-3.0zM1000.2 250.3h3.0v3.0h-3.0zM1002.4 252.8h3.0v3.0h-3.0zM1002.1 250.5h3.0v3.0h-3.0zM999.5 253.2h3.0v3.0h-3.0zM998.9 251.9h3.0v3.0h-3.0zM994.3 251.6h3.0v3.0h-3.0zM995.3 251.0h3.0v3.0h-3.0zM988.6 252.0h3.0v3.0h-3.0zM989.7 252.6h3.0v3.0h-3.0zM987.3 254.0h3.0v3.0h-3.0zM986.4 253.1h3.0v3.0h-3.0zM985.8 256.3h3.0v3.0h-3.0zM982.5 257.4h3.0v3.0h-3.0zM982.9 260.3h3.0v3.0h-3.0zM980.9 258.8h3.0v3.0h-3.0zM974.2 259.4h3.0v3.0h-3.0zM976.1 262.5h3.0v3.0h-3.0zM970.8 263.2h3.0v3.0h-3.0zM967.8 261.6h3.0v3.0h-3.0zM968.2 264.8h3.0v3.0h-3.0zM962.8 260.3h3.0v3.0h-3.0zM959.9 261.4h3.0v3.0h-3.0zM958.2 263.9h3.0v3.0h-3.0zM957.4 262.5h3.0v3.0h-3.0zM960.4 264.7h3.0v3.0h-3.0zM954.0 265.2h3.0v3.0h-3.0zM953.7 266.4h3.0v3.0h-3.0zM949.3 264.6h3.0v3.0h-3.0zM948.3 263.7h3.0v3.0h-3.0zM945.5 264.8h3.0v3.0h-3.0zM945.2 260.6h3.0v3.0h-3.0zM940.7 262.7h3.0v3.0h-3.0zM940.9 262.9h3.0v3.0h-3.0zM938.9 262.0h3.0v3.0h-3.0zM934.4 262.6h3.0v3.0h-3.0zM935.2 261.3h3.0v3.0h-3.0zM930.3 261.2h3.0v3.0h-3.0zM928.5 263.9h3.0v3.0h-3.0zM926.5 262.0h3.0v3.0h-3.0zM923.7 260.4h3.0v3.0h-3.0zM921.7 257.9h3.0v3.0h-3.0zM920.3 261.7h3.0v3.0h-3.0zM918.6 262.9h3.0v3.0h-3.0zM915.5 261.8h3.0v3.0h-3.0zM914.8 264.7h3.0v3.0h-3.0zM909.1 263.7h3.0v3.0h-3.0zM911.4 264.1h3.0v3.0h-3.0zM905.3 261.3h3.0v3.0h-3.0zM907.0 262.9h3.0v3.0h-3.0zM899.5 267.4h3.0v3.0h-3.0zM901.5 266.5h3.0v3.0h-3.0zM899.1 266.4h3.0v3.0h-3.0zM897.1 266.2h3.0v3.0h-3.0zM894.5 265.6h3.0v3.0h-3.0zM893.2 263.4h3.0v3.0h-3.0zM890.9 260.3h3.0v3.0h-3.0zM888.2 263.7h3.0v3.0h-3.0zM887.0 259.5h3.0v3.0h-3.0zM885.2 259.9h3.0v3.0h-3.0zM884.2 259.3h3.0v3.0h-3.0zM885.2 255.1h3.0v3.0h-3.0zM888.2 255.5h3.0v3.0h-3.0zM883.4 249.1h3.0v3.0h-3.0zM882.0 249.1h3.0v3.0h-3.0zM882.7 246.1h3.0v3.0h-3.0z" fill="#a3a3a3"/><path d="M919.1 246.6 926.6 246.3 934.6 247.0 957.6 252.1 962.6 253.7 965.9 255.6 967.6 257.6 967.9 259.6 966.7 261.6 963.6 263.7 959.6 265.2 953.6 266.3 925.6 267.8 917.6 267.3 911.6 266.2 905.6 264.0 901.8 261.6 899.6 258.6 899.6 255.6 901.6 252.6 905.6 250.0 911.6 247.9 919.1 246.6M916.1 249.6 920.6 248.9 926.6 248.7 936.6 250.0 957.6 255.1 961.4 257.6 961.8 259.6 960.0 261.6 958.0 262.6 950.6 264.2 926.6 265.4 920.6 265.1 915.6 264.3 910.6 262.7 907.6 261.0 905.5 258.6 905.2 256.6 906.0 254.6 908.2 252.6 911.6 250.9 916.1 249.6M920.2 250.6 925.6 250.3 931.6 250.8 951.6 255.4 955.2 256.6 956.7 257.6 957.3 258.6 957.2 259.6 956.2 260.6 954.1 261.6 947.6 262.7 926.6 263.8 920.6 263.5 916.6 262.7 913.3 261.6 910.6 260.0 909.4 258.6 908.9 256.6 910.0 254.6 912.6 252.7 916.6 251.3 920.2 250.6M924.1 251.6 928.6 251.7 933.7 252.6 948.5 256.6 951.2 257.6 952.2 258.6 951.8 259.6 950.6 260.2 946.6 261.0 927.6 262.5 918.6 261.7 915.3 260.6 912.6 258.6 912.1 257.6 912.5 255.6 913.6 254.5 916.6 252.9 924.1 251.6M919.3 253.6 925.6 252.8 931.6 253.5 939.9 256.6 941.6 257.6 941.8 258.6 939.1 259.6 930.6 261.0 925.6 261.3 920.6 260.7 917.3 259.6 915.2 257.6 915.7 255.6 919.3 253.6M921.8 254.6 925.6 254.2 929.5 254.6 932.6 255.6 934.1 256.6 934.6 257.6 933.6 258.6 930.2 259.6 926.6 259.9 922.4 259.6 919.6 258.6 918.6 257.6 918.5 256.6 919.4 255.6 921.8 254.6" fill="none" stroke="#d0d0d0" stroke-width="0.7"/><path d="M920.5 131.1h3.2v3.2h-3.2zM889.4 139.4h3.2v3.2h-3.2zM927.8 150.4h3.2v3.2h-3.2zM911.8 166.4h3.2v3.2h-3.2zM895.2 173.6h3.2v3.2h-3.2zM901.4 172.6h3.2v3.2h-3.2zM900.4 177.8h3.2v3.2h-3.2zM925.7 185.7h3.2v3.2h-3.2zM889.6 193.3h3.2v3.2h-3.2zM896.2 193.3h3.2v3.2h-3.2zM910.8 205.4h3.2v3.2h-3.2zM921.5 208.9h3.2v3.2h-3.2zM929.8 216.2h3.2v3.2h-3.2zM918.0 219.9h3.2v3.2h-3.2zM911.8 222.0h3.2v3.2h-3.2zM915.3 226.1h3.2v3.2h-3.2zM936.7 229.6h3.2v3.2h-3.2zM895.8 231.7h3.2v3.2h-3.2zM966.1 218.2h3.2v3.2h-3.2zM1010.3 226.5h3.2v3.2h-3.2zM1026.5 225.5h3.2v3.2h-3.2zM1019.0 230.7h3.2v3.2h-3.2zM1010.7 232.7h3.2v3.2h-3.2zM1044.5 129.1h3.2v3.2h-3.2zM966.7 224.9h3.2v3.2h-3.2zM975.0 224.4h3.2v3.2h-3.2zM955.3 226.5h3.2v3.2h-3.2z" fill="#9a9a9a"/><path d="M946.7 242.8 960.8 242.0 974.8 242.7 988.8 245.1 1000.8 249.1 1009.8 254.0 1013.1 256.8 1015.6 259.8 1017.2 262.8 1018.0 265.8 1017.9 268.8 1017.0 271.8 1015.2 274.8 1012.8 277.4 1005.8 282.0 996.8 285.3 985.8 287.2 969.8 287.7 947.8 286.2 933.8 284.5 924.8 281.8 920.8 279.9 916.8 277.2 913.5 273.8 911.6 270.8 910.5 267.8 910.2 263.8 910.8 260.8 912.2 257.8 916.8 252.6 920.8 249.9 924.8 247.9 933.8 245.0 946.7 242.8M947.6 245.8 959.8 245.0 971.8 245.5 983.8 247.3 994.8 250.6 1003.3 254.8 1009.0 259.8 1010.3 261.8 1011.5 264.8 1011.7 267.8 1010.9 270.8 1009.1 273.8 1007.2 275.8 1001.8 279.4 993.8 282.3 983.8 284.1 969.8 284.6 949.8 283.3 935.8 281.7 927.8 279.4 923.8 277.5 920.8 275.4 918.2 272.8 916.3 269.8 915.3 266.8 915.2 263.8 917.0 258.8 919.4 255.8 921.7 253.8 927.8 250.4 936.8 247.5 947.6 245.8M951.7 247.8 962.8 247.4 972.8 248.0 982.8 249.7 991.8 252.4 999.8 256.5 1004.5 260.8 1006.5 264.8 1006.6 267.8 1006.1 269.8 1003.4 273.8 997.5 277.8 989.8 280.4 980.8 281.9 968.8 282.2 950.8 281.0 937.8 279.5 929.8 277.3 923.7 273.8 921.7 271.8 919.9 268.8 919.2 266.8 919.1 263.8 920.1 260.8 921.3 258.8 925.8 254.6 932.8 251.3 940.8 249.3 951.7 247.8M950.6 249.8 960.8 249.2 969.8 249.5 979.8 251.0 987.8 253.3 994.8 256.5 999.8 260.4 1001.6 262.8 1002.4 264.8 1002.3 268.8 999.7 272.8 994.8 276.2 987.8 278.6 979.8 279.9 968.8 280.3 955.8 279.6 940.8 278.0 932.8 276.1 926.8 273.0 924.5 270.8 923.2 268.8 922.4 266.8 922.3 263.8 924.0 259.8 927.8 256.2 933.8 253.2 940.8 251.3 950.6 249.8M949.3 251.8 958.8 251.0 967.8 251.2 976.8 252.3 984.8 254.4 991.8 257.6 996.0 260.8 998.4 264.8 998.6 266.8 998.2 268.8 996.1 271.8 991.7 274.8 985.8 276.9 977.8 278.2 968.8 278.5 957.8 277.9 942.8 276.4 934.8 274.6 929.8 272.1 926.5 268.8 925.7 266.8 925.4 264.8 926.8 260.8 929.8 257.8 934.8 255.1 940.8 253.3 949.3 251.8M956.2 252.8 963.8 252.6 971.8 253.2 978.8 254.6 985.5 256.8 990.9 259.8 993.8 262.8 994.9 265.8 994.4 268.8 991.8 271.8 987.8 274.0 981.8 275.8 974.8 276.7 965.8 276.8 953.8 275.9 942.8 274.6 935.7 272.8 930.8 269.9 928.8 266.8 928.5 264.8 928.9 262.8 931.1 259.8 934.8 257.3 939.8 255.4 947.8 253.7 956.2 252.8M951.7 254.8 959.8 254.2 966.8 254.3 973.8 255.1 980.4 256.8 985.1 258.8 989.3 261.8 991.2 264.8 991.1 267.8 988.7 270.8 985.1 272.8 979.8 274.4 973.8 275.2 965.8 275.3 956.8 274.7 945.8 273.4 938.8 271.8 934.8 269.9 932.5 267.8 931.6 264.8 932.7 261.8 934.8 259.8 938.8 257.7 944.8 256.0 951.7 254.8M961.5 255.8 971.8 256.6 980.8 259.2 983.8 260.8 986.1 262.8 987.4 265.8 986.9 267.8 985.1 269.8 981.2 271.8 976.8 272.9 970.8 273.6 962.8 273.5 953.8 272.6 944.8 271.2 939.8 269.7 936.8 267.8 935.5 265.8 935.6 263.8 936.1 262.8 938.1 260.8 942.2 258.8 946.8 257.5 953.8 256.3 961.5 255.8M957.3 257.8 967.8 257.8 976.6 259.8 981.7 262.8 983.0 264.8 982.9 266.8 981.2 268.8 978.8 270.1 974.8 271.2 969.8 271.8 957.8 271.3 945.0 268.8 942.6 267.8 940.4 265.8 940.2 264.8 941.0 262.8 943.8 260.9 946.7 259.8 957.3 257.8M958.5 259.8 965.8 259.7 972.2 260.8 976.4 262.8 977.8 264.6 978.0 265.8 976.8 267.4 974.8 268.5 968.8 269.7 960.8 269.5 951.7 267.8 947.6 265.8 947.0 264.8 947.2 263.8 948.2 262.8 950.8 261.5 958.5 259.8" fill="none" stroke="#d05050" stroke-width="0.9"/><path d="M936.6 134.1h3.4v3.4h-3.4zM973.9 132.1h3.4v3.4h-3.4zM1012.3 139.3h3.4v3.4h-3.4zM910.7 148.0h3.4v3.4h-3.4zM1005.0 148.0h3.4v3.4h-3.4zM1018.1 151.3h3.4v3.4h-3.4zM964.0 153.4h3.4v3.4h-3.4zM960.0 157.6h3.4v3.4h-3.4zM940.7 163.6h3.4v3.4h-3.4zM915.4 160.5h3.4v3.4h-3.4zM986.4 157.6h3.4v3.4h-3.4zM987.0 163.6h3.4v3.4h-3.4zM938.7 168.4h3.4v3.4h-3.4zM997.1 167.3h3.4v3.4h-3.4zM1004.0 164.2h3.4v3.4h-3.4zM978.1 170.4h3.4v3.4h-3.4zM970.8 172.5h3.4v3.4h-3.4zM986.4 168.4h3.4v3.4h-3.4zM954.8 175.6h3.4v3.4h-3.4zM994.2 179.3h3.4v3.4h-3.4zM979.1 179.3h3.4v3.4h-3.4zM967.1 181.8h3.4v3.4h-3.4zM969.8 180.8h3.4v3.4h-3.4zM939.7 189.1h3.4v3.4h-3.4zM947.6 192.2h3.4v3.4h-3.4zM948.0 194.3h3.4v3.4h-3.4zM956.7 187.4h3.4v3.4h-3.4zM970.8 192.2h3.4v3.4h-3.4zM960.4 194.3h3.4v3.4h-3.4zM964.2 196.4h3.4v3.4h-3.4zM986.4 184.9h3.4v3.4h-3.4zM981.2 190.1h3.4v3.4h-3.4zM993.2 189.1h3.4v3.4h-3.4zM1004.0 188.1h3.4v3.4h-3.4zM989.0 194.9h3.4v3.4h-3.4zM973.9 200.5h3.4v3.4h-3.4zM974.9 202.6h3.4v3.4h-3.4zM979.5 199.0h3.4v3.4h-3.4zM1009.2 202.6h3.4v3.4h-3.4zM953.2 204.6h3.4v3.4h-3.4zM957.9 208.8h3.4v3.4h-3.4zM969.8 210.9h3.4v3.4h-3.4zM986.4 209.8h3.4v3.4h-3.4zM924.1 212.9h3.4v3.4h-3.4zM933.5 218.1h3.4v3.4h-3.4zM943.8 218.5h3.4v3.4h-3.4zM962.1 221.2h3.4v3.4h-3.4zM977.4 222.7h3.4v3.4h-3.4zM994.6 215.0h3.4v3.4h-3.4zM1004.4 219.8h3.4v3.4h-3.4zM942.2 234.7h3.4v3.4h-3.4zM956.7 229.5h3.4v3.4h-3.4zM964.6 232.6h3.4v3.4h-3.4zM960.0 231.6h3.4v3.4h-3.4zM967.7 237.8h3.4v3.4h-3.4zM985.3 234.7h3.4v3.4h-3.4zM984.9 239.9h3.4v3.4h-3.4zM1022.2 239.9h3.4v3.4h-3.4zM925.8 244.7h3.4v3.4h-3.4zM908.6 237.8h3.4v3.4h-3.4zM1005.0 247.2h3.4v3.4h-3.4zM1024.7 255.0h3.4v3.4h-3.4zM1020.6 259.6h3.4v3.4h-3.4zM1022.2 263.8h3.4v3.4h-3.4zM1017.5 260.6h3.4v3.4h-3.4zM904.4 263.8h3.4v3.4h-3.4zM904.4 271.0h3.4v3.4h-3.4zM1061.0 255.0h3.4v3.4h-3.4zM1038.2 272.0h3.4v3.4h-3.4zM1013.9 276.2h3.4v3.4h-3.4zM1016.0 282.8h3.4v3.4h-3.4zM1000.9 288.2h3.4v3.4h-3.4zM993.2 294.9h3.4v3.4h-3.4z" fill="#b00000"/><rect x="849.6" y="67.4" width="257" height="256.9" fill="none" stroke="#333" stroke-width="1.2"/><line x1="954.8" y1="67.4" x2="954.8" y2="324.3" stroke="#000" stroke-width="1.8"/><line x1="849.6" y1="215.2" x2="1106.6" y2="215.2" stroke="#000" stroke-width="1.8"/><path d="M849.6 200.9h-4M849.6 188.6h-4M849.6 179.9h-4M849.6 173.1h-4M849.6 167.6h-4M849.6 162.9h-4M849.6 158.9h-4M849.6 155.3h-4M849.6 133.6h-4M849.6 122.8h-4M849.6 115.1h-4M849.6 109.2h-4M849.6 104.3h-4M849.6 100.2h-4M849.6 96.7h-4M849.6 93.5h-4M849.6 72.2h-4M849.6 252.3h-4M849.6 244.9h-4M849.6 239.7h-4M849.6 235.7h-4M849.6 232.4h-4M849.6 229.6h-4M849.6 227.2h-4M849.6 225.1h-4M849.6 276.8h-4M849.6 283.9h-4M849.6 288.9h-4M849.6 292.7h-4M849.6 295.9h-4M849.6 298.6h-4M849.6 300.9h-4M849.6 302.9h-4" fill="none" stroke="#222" stroke-width="1.1"/><path d="M849.6 306.0h-7M849.6 221.9h-7M849.6 152.1h-7M849.6 90.7h-7M849.6 263.5h-6M849.6 264.8h-6M849.6 266.1h-6" fill="none" stroke="#222" stroke-width="1.5"/><path d="M970.6 324.3v4M982.9 324.3v4M991.5 324.3v4M998.3 324.3v4M1003.8 324.3v4M1008.4 324.3v4M1012.5 324.3v4M1016.0 324.3v4M1038.2 324.3v4M1049.4 324.3v4M1057.3 324.3v4M1063.4 324.3v4M1068.4 324.3v4M1072.6 324.3v4M1076.3 324.3v4M1079.5 324.3v4M1101.4 324.3v4M919.5 324.3v4M926.8 324.3v4M931.9 324.3v4M936.0 324.3v4M939.2 324.3v4M942.0 324.3v4M944.4 324.3v4M946.5 324.3v4M894.6 324.3v4M887.4 324.3v4M882.3 324.3v4M878.3 324.3v4M875.1 324.3v4M872.3 324.3v4M869.9 324.3v4M867.8 324.3v4" fill="none" stroke="#222" stroke-width="1.1"/><path d="M864.7 324.3v7M949.7 324.3v7M1019.2 324.3v7M1082.4 324.3v7M905.7 324.3v6M907.0 324.3v6M908.3 324.3v6" fill="none" stroke="#222" stroke-width="1.5"/><text x="854.7" y="89.6" font-size="26" fill="#3a3a3a">0.17</text><text x="854.7" y="118.6" font-size="26" fill="#a00000">0.96</text><text x="1099.4" y="89.6" font-size="26" text-anchor="end" fill="#3a3a3a">0.02</text><text x="1099.4" y="118.6" font-size="26" text-anchor="end" fill="#a00000">5.64</text><text x="854.7" y="288.6" font-size="26" fill="#3a3a3a">95.4</text><text x="854.7" y="317.2" font-size="26" fill="#a00000">36.8</text><text x="1099.4" y="288.6" font-size="26" text-anchor="end" fill="#3a3a3a">4.49</text><text x="1099.4" y="317.2" font-size="26" text-anchor="end" fill="#a00000">56.3</text><line x1="818" y1="153" x2="818" y2="76.4" stroke="#000" stroke-width="2"/><path d="M818 66.4L812 78.4L818 75.4L824 78.4Z" fill="#000"/><text x="827" y="323" font-size="26" transform="rotate(-90 827 323)">CD103-BV711</text><text x="850" y="364" font-size="26">CD69-BV510</text><line x1="1009.4" y1="356.7" x2="1096.7" y2="356.7" stroke="#000" stroke-width="2"/><path d="M1106.7 356.7L1094.7 350.7L1097.7 356.7L1094.7 362.7Z" fill="#000"/><line x1="1253.4" y1="44.9" x2="1253.4" y2="336" stroke="#111" stroke-width="1.4"/><path d="M1243.9 336.0H1253.4M1243.9 277.8H1253.4M1243.9 219.6H1253.4M1243.9 161.3H1253.4M1243.9 103.1H1253.4M1243.9 44.9H1253.4" fill="none" stroke="#333" stroke-width="1.5"/><text x="1232.4" y="345.3" font-size="26" text-anchor="end">0</text><text x="1232.4" y="287.1" font-size="26" text-anchor="end">20</text><text x="1232.4" y="228.9" font-size="26" text-anchor="end">40</text><text x="1232.4" y="170.6" font-size="26" text-anchor="end">60</text><text x="1232.4" y="112.4" font-size="26" text-anchor="end">80</text><text x="1232.4" y="54.2" font-size="26" text-anchor="end">100</text><line x1="1243.9" y1="336" x2="1554" y2="336" stroke="#111" stroke-width="1.4"/><rect x="1266.3" y="63.5" width="22.9" height="272.5" fill="#a6a6a6" stroke="#000" stroke-width="2.3"/><rect x="1301.9" y="231.2" width="22.9" height="104.8" fill="#b34d43" stroke="#000" stroke-width="2.3"/><circle cx="1273.4" cy="58" r="5.4" fill="#a6a6a6" stroke="#000" stroke-width="1.1"/><circle cx="1281.5" cy="58" r="5.4" fill="#a6a6a6" stroke="#000" stroke-width="1.1"/><circle cx="1277.5" cy="67.9" r="5.4" fill="#a6a6a6" stroke="#000" stroke-width="1.1"/><circle cx="1277.5" cy="88" r="5.4" fill="#a6a6a6" stroke="#000" stroke-width="1.1"/><circle cx="1307.8" cy="228.6" r="5.4" fill="#9e1a0a" stroke="#000" stroke-width="1.1" fill-opacity="0.75"/><circle cx="1326" cy="228.6" r="5.4" fill="#9e1a0a" stroke="#000" stroke-width="1.1" fill-opacity="0.75"/><circle cx="1319" cy="235.6" r="5.4" fill="#9e1a0a" stroke="#000" stroke-width="1.1" fill-opacity="0.75"/><circle cx="1307.8" cy="251.6" r="5.4" fill="#9e1a0a" stroke="#000" stroke-width="1.1" fill-opacity="0.75"/><line x1="1277.7" y1="336" x2="1277.7" y2="345.5" stroke="#333" stroke-width="1.4"/><line x1="1313.3" y1="336" x2="1313.3" y2="345.5" stroke="#333" stroke-width="1.4"/><path d="M1265.5 345.5V351.8H1325.5V345.5" fill="none" stroke="#333" stroke-width="1.4"/><text x="1295.5" y="382.3" font-size="26" text-anchor="middle">−/−</text><rect x="1337.9" y="334.5" width="22.9" height="1.5" fill="#a6a6a6" stroke="#000" stroke-width="2.3"/><rect x="1373.5" y="333.1" width="22.9" height="2.9" fill="#b34d43" stroke="#000" stroke-width="2.3"/><circle cx="1342.6" cy="335.7" r="5.4" fill="#a6a6a6" stroke="#000" stroke-width="1.1"/><circle cx="1352.1" cy="335.7" r="5.4" fill="#a6a6a6" stroke="#000" stroke-width="1.1"/><circle cx="1356.7" cy="335.7" r="5.4" fill="#a6a6a6" stroke="#000" stroke-width="1.1"/><circle cx="1378.5" cy="332.5" r="5.4" fill="#9e1a0a" stroke="#000" stroke-width="1.1" fill-opacity="0.75"/><circle cx="1385.1" cy="336" r="5.4" fill="#9e1a0a" stroke="#000" stroke-width="1.1" fill-opacity="0.75"/><circle cx="1391.4" cy="328.7" r="5.4" fill="#9e1a0a" stroke="#000" stroke-width="1.1" fill-opacity="0.75"/><circle cx="1387.9" cy="336" r="5.4" fill="#9e1a0a" stroke="#000" stroke-width="1.1" fill-opacity="0.75"/><line x1="1349.3" y1="336" x2="1349.3" y2="345.5" stroke="#333" stroke-width="1.4"/><line x1="1384.9" y1="336" x2="1384.9" y2="345.5" stroke="#333" stroke-width="1.4"/><path d="M1337.1 345.5V351.8H1397.1V345.5" fill="none" stroke="#333" stroke-width="1.4"/><text x="1367.1" y="382.3" font-size="26" text-anchor="middle">−/+</text><rect x="1409.5" y="318.5" width="22.9" height="17.5" fill="#a6a6a6" stroke="#000" stroke-width="2.3"/><rect x="1445.1" y="161.3" width="22.9" height="174.7" fill="#b34d43" stroke="#000" stroke-width="2.3"/><circle cx="1421.4" cy="294.1" r="5.4" fill="#a6a6a6" stroke="#000" stroke-width="1.1"/><circle cx="1416.1" cy="315.6" r="5.4" fill="#a6a6a6" stroke="#000" stroke-width="1.1"/><circle cx="1420.7" cy="322.6" r="5.4" fill="#a6a6a6" stroke="#000" stroke-width="1.1"/><circle cx="1427" cy="322.6" r="5.4" fill="#a6a6a6" stroke="#000" stroke-width="1.1"/><circle cx="1451.2" cy="144.7" r="5.4" fill="#9e1a0a" stroke="#000" stroke-width="1.1" fill-opacity="0.75"/><circle cx="1463.8" cy="152.6" r="5.4" fill="#9e1a0a" stroke="#000" stroke-width="1.1" fill-opacity="0.75"/><circle cx="1463.8" cy="171.2" r="5.4" fill="#9e1a0a" stroke="#000" stroke-width="1.1" fill-opacity="0.75"/><circle cx="1451.2" cy="182.3" r="5.4" fill="#9e1a0a" stroke="#000" stroke-width="1.1" fill-opacity="0.75"/><line x1="1420.9" y1="336" x2="1420.9" y2="345.5" stroke="#333" stroke-width="1.4"/><line x1="1456.5" y1="336" x2="1456.5" y2="345.5" stroke="#333" stroke-width="1.4"/><path d="M1408.7 345.5V351.8H1468.7V345.5" fill="none" stroke="#333" stroke-width="1.4"/><text x="1438.7" y="382.3" font-size="26" text-anchor="middle">+/−</text><rect x="1481.1" y="334.5" width="22.9" height="1.5" fill="#a6a6a6" stroke="#000" stroke-width="2.3"/><rect x="1516.7" y="324.4" width="22.9" height="11.6" fill="#b34d43" stroke="#000" stroke-width="2.3"/><circle cx="1486.6" cy="336" r="5.4" fill="#a6a6a6" stroke="#000" stroke-width="1.1"/><circle cx="1492.6" cy="336" r="5.4" fill="#a6a6a6" stroke="#000" stroke-width="1.1"/><circle cx="1499.6" cy="336" r="5.4" fill="#a6a6a6" stroke="#000" stroke-width="1.1"/><circle cx="1527.9" cy="306.9" r="5.4" fill="#9e1a0a" stroke="#000" stroke-width="1.1" fill-opacity="0.75"/><circle cx="1523.5" cy="319.1" r="5.4" fill="#9e1a0a" stroke="#000" stroke-width="1.1" fill-opacity="0.75"/><circle cx="1527.9" cy="329.6" r="5.4" fill="#9e1a0a" stroke="#000" stroke-width="1.1" fill-opacity="0.75"/><circle cx="1533.9" cy="329.6" r="5.4" fill="#9e1a0a" stroke="#000" stroke-width="1.1" fill-opacity="0.75"/><line x1="1492.5" y1="336" x2="1492.5" y2="345.5" stroke="#333" stroke-width="1.4"/><line x1="1528.1" y1="336" x2="1528.1" y2="345.5" stroke="#333" stroke-width="1.4"/><path d="M1480.3 345.5V351.8H1540.3V345.5" fill="none" stroke="#333" stroke-width="1.4"/><text x="1510.3" y="382.3" font-size="26" text-anchor="middle">+/+</text><text x="1550.4" y="382.3" font-size="26">CD69/CD103</text><text x="1180" y="291.5" font-size="26.8" transform="rotate(-90 1180 291.5)">Percentage CD4<tspan dy="-10" font-size="17">+</tspan></text><line x1="1278.5" y1="44.9" x2="1342.4" y2="44.9" stroke="#000" stroke-width="1.5"/><text x="1248" y="37.9" font-size="26"><tspan font-style="italic">P</tspan> = 0.0207</text><line x1="1455.7" y1="125.6" x2="1496.7" y2="125.6" stroke="#000" stroke-width="1.5"/><text x="1415.3" y="118.6" font-size="26"><tspan font-style="italic">P</tspan> = 0.0127</text><text transform="translate(807 426.7) scale(0.84 1)" font-size="32.5" font-weight="bold">d</text><rect x="855.8" y="435.4" width="29.2" height="14.5" fill="#777" stroke="#000" stroke-width="1.6"/><text x="897.4" y="451.5" font-size="26">PBMC</text><rect x="1011.8" y="435.4" width="29.2" height="14.5" fill="#c00000" stroke="#000" stroke-width="1.6"/><text x="1053.8" y="451.5" font-size="26">BAL</text><path d="M913.4 639.2 919.2 639.1 925.2 640.6 933.5 645.2 941.2 648.7 944.2 650.8 946.9 654.2 947.8 658.2 946.9 662.2 944.3 666.2 941.2 668.9 937.2 671.0 933.2 672.1 928.2 672.6 907.2 670.7 902.2 669.0 898.2 666.2 895.8 663.2 894.3 659.2 894.4 654.2 895.9 650.2 898.9 646.2 903.2 642.8 908.2 640.4 913.4 639.2M912.6 641.2 918.2 641.0 923.2 642.1 941.2 651.2 944.1 654.2 945.3 657.2 944.9 661.2 943.3 664.2 940.3 667.2 937.2 669.0 933.2 670.3 929.2 670.7 909.2 669.1 905.2 668.0 901.2 665.9 898.6 663.2 896.8 659.2 896.6 655.2 897.9 651.2 900.7 647.2 904.2 644.4 908.2 642.4 912.6 641.2M910.0 643.2 915.2 642.3 921.2 643.0 939.2 651.7 942.1 654.2 943.5 657.2 943.5 660.2 942.2 663.2 940.2 665.4 937.2 667.5 934.2 668.7 930.2 669.3 910.2 667.8 906.2 666.8 903.2 665.3 900.7 663.2 898.9 660.2 898.2 657.2 898.7 653.2 900.2 650.2 902.8 647.2 906.2 644.8 910.0 643.2M910.9 644.2 916.2 643.5 921.2 644.4 924.2 645.6 930.2 649.3 938.2 652.9 940.7 655.2 941.7 657.2 941.8 660.2 941.0 662.2 939.2 664.4 936.8 666.2 933.2 667.6 930.2 668.1 911.2 666.7 905.2 664.9 902.2 662.6 900.6 660.2 899.8 657.2 900.0 654.2 901.3 651.2 903.7 648.2 907.2 645.7 910.9 644.2M911.3 645.2 916.2 644.6 921.2 645.6 929.3 650.2 937.2 653.8 938.9 655.2 940.1 657.2 940.4 659.2 939.4 662.2 937.6 664.2 935.2 665.7 930.2 666.9 911.2 665.6 908.2 664.9 905.2 663.5 902.7 661.2 901.6 659.2 901.1 656.2 901.7 653.2 903.4 650.2 905.4 648.2 908.2 646.4 911.3 645.2M911.7 646.2 916.2 645.7 920.2 646.4 929.2 651.7 935.2 654.3 937.2 655.7 938.3 657.2 938.7 659.2 938.2 661.2 935.2 664.3 930.2 665.7 912.2 664.6 907.2 663.2 904.5 661.2 903.1 659.2 902.5 657.2 902.7 654.2 904.2 651.2 906.0 649.2 908.2 647.6 911.7 646.2M911.8 647.2 916.2 646.7 920.2 647.6 928.2 652.6 934.0 655.2 935.5 656.2 936.9 658.2 936.4 661.2 935.2 662.6 933.2 663.8 929.2 664.5 921.2 663.7 912.2 663.6 907.7 662.2 906.2 661.2 904.5 659.2 903.8 657.2 904.0 654.2 904.8 652.2 906.4 650.2 909.2 648.2 911.8 647.2M911.8 648.2 916.2 647.7 921.1 649.2 927.2 653.7 934.1 657.2 934.8 658.2 934.9 660.2 933.2 662.2 929.2 663.2 922.2 662.5 913.2 662.7 908.2 661.2 906.8 660.2 905.4 658.2 904.9 656.2 905.2 654.2 906.1 652.2 908.0 650.2 911.8 648.2M912.1 649.2 916.2 648.8 920.2 650.1 926.2 655.2 931.3 658.2 931.9 659.2 931.5 660.2 929.2 661.1 923.2 660.9 915.2 661.7 912.2 661.5 909.2 660.4 906.9 658.2 906.3 656.2 906.5 654.2 908.5 651.2 912.1 649.2M912.6 650.2 916.2 649.9 920.2 651.6 923.3 655.2 923.9 657.2 923.5 658.2 921.2 659.4 916.2 660.5 912.2 660.3 909.6 659.2 908.0 657.2 907.9 654.2 909.2 652.2 912.6 650.2M911.5 652.2 915.2 651.2 918.2 652.1 920.2 654.2 920.6 656.2 920.1 657.2 918.9 658.2 916.2 659.0 913.2 659.1 911.2 658.3 910.0 657.2 909.5 655.2 910.2 653.4 911.5 652.2" fill="none" stroke="#8a8a8a" stroke-width="0.8"/><path d="M1011.4 529.6 1016.0 529.0 1021.0 529.2 1026.0 530.4 1030.0 532.2 1034.0 535.3 1036.6 538.6 1038.3 542.6 1039.0 546.6 1038.4 552.6 1035.7 558.6 1032.0 563.3 1023.6 571.6 1020.9 576.6 1019.9 583.6 1021.3 598.6 1021.2 606.6 1019.9 613.6 1017.0 620.0 1005.8 634.6 1000.5 640.6 994.0 646.0 985.0 651.2 974.0 655.1 959.1 657.6 944.0 661.0 936.0 661.1 933.0 660.4 930.0 659.1 928.1 657.6 926.6 655.6 925.8 651.6 927.5 646.6 930.7 642.6 935.0 639.0 945.2 632.6 957.0 624.1 962.0 621.3 972.4 616.6 975.1 614.6 976.0 613.0 976.0 609.6 973.0 602.0 970.0 595.9 962.5 583.6 959.5 575.6 958.8 569.6 959.2 564.6 960.5 559.6 963.3 553.6 966.3 549.6 969.2 546.6 973.0 543.6 977.0 541.3 983.0 538.8 993.5 535.6 1006.0 531.0 1011.4 529.6M1010.0 532.6 1015.0 531.8 1020.0 531.9 1025.0 533.1 1029.0 535.2 1032.0 537.8 1034.5 541.6 1035.7 545.6 1035.8 549.6 1034.5 554.6 1032.3 558.6 1029.0 562.5 1021.6 569.6 1018.5 574.6 1017.3 578.6 1016.8 582.6 1017.7 599.6 1016.8 607.6 1015.0 612.4 1009.0 620.6 1002.7 633.6 998.0 639.6 992.3 644.6 985.0 649.1 978.0 652.0 971.0 653.8 959.4 655.6 944.0 659.3 937.0 659.3 932.0 657.6 929.1 654.6 928.5 652.6 928.5 650.6 930.0 646.6 933.4 642.6 937.0 639.8 947.2 633.6 961.0 624.0 977.5 616.6 978.6 615.6 979.7 613.6 979.3 609.6 975.0 599.6 972.0 593.8 965.2 582.6 962.5 575.6 961.7 569.6 962.1 564.6 963.5 559.6 966.0 554.6 969.0 550.7 972.0 547.8 979.0 543.3 1010.0 532.6M1012.2 534.6 1017.0 534.2 1021.0 534.7 1025.0 536.0 1028.0 537.9 1030.6 540.6 1032.2 543.6 1032.9 546.6 1032.8 550.6 1031.6 554.6 1029.9 557.6 1027.0 561.0 1019.1 568.6 1016.0 573.6 1014.4 578.6 1013.5 583.6 1013.2 597.6 1012.5 602.6 1011.0 606.1 1006.0 612.8 1004.0 616.5 1001.6 628.6 1000.5 631.6 998.3 635.6 995.1 639.6 990.0 644.0 985.0 647.2 978.0 650.2 971.0 652.0 959.0 654.0 944.0 657.7 938.0 657.6 934.0 656.2 931.4 653.6 930.9 650.6 932.3 646.6 935.9 642.6 940.0 639.7 949.0 634.5 961.0 625.9 967.0 622.9 980.0 618.1 982.3 616.6 983.5 614.6 983.0 610.6 977.0 597.6 967.4 581.6 965.1 575.6 964.2 570.6 964.4 565.6 965.7 560.6 968.2 555.6 973.0 550.1 980.0 545.5 985.0 543.5 997.0 539.9 1007.0 536.0 1012.2 534.6M1012.1 536.6 1016.0 536.2 1020.0 536.6 1023.0 537.5 1026.0 539.3 1028.4 541.6 1030.0 544.6 1030.6 547.6 1030.5 550.6 1029.2 554.6 1027.3 557.6 1017.2 567.6 1013.7 573.6 1002.4 606.6 998.4 615.6 997.9 618.6 998.8 624.6 998.7 628.6 997.6 632.6 996.0 635.6 992.8 639.6 988.2 643.6 983.0 646.7 977.0 649.2 971.0 650.7 959.0 652.5 945.0 656.3 939.0 656.3 935.0 654.7 933.2 652.6 932.9 649.6 934.9 645.6 938.0 642.6 950.0 635.6 959.0 628.9 964.0 625.8 970.0 623.1 984.6 618.6 986.3 617.6 987.9 615.6 987.8 613.6 987.0 611.6 977.4 593.6 969.6 581.6 967.4 576.6 966.3 571.6 966.3 566.6 967.4 561.6 969.8 556.6 975.0 550.8 981.0 547.0 986.0 545.1 998.0 541.6 1008.0 537.7 1012.1 536.6M1012.6 538.6 1016.0 538.3 1020.0 538.9 1023.0 540.1 1025.0 541.6 1026.7 543.6 1027.9 546.6 1027.8 551.6 1026.6 554.6 1024.5 557.6 1017.0 564.7 1013.9 568.6 1007.0 583.0 1001.0 589.9 999.2 592.6 998.3 595.6 997.2 603.6 996.0 606.5 994.0 608.4 992.0 608.7 990.0 607.8 987.0 604.8 980.3 593.6 970.7 579.6 969.1 575.6 968.2 571.6 968.1 567.6 968.8 563.6 970.3 559.6 972.9 555.6 976.0 552.4 980.0 549.6 986.0 547.0 997.0 544.0 1008.0 539.8 1012.6 538.6M981.9 621.6 988.0 620.9 991.0 621.2 994.0 623.2 995.7 626.6 995.7 630.6 993.8 635.6 990.6 639.6 986.0 643.4 981.0 646.2 975.0 648.4 959.0 651.0 946.0 654.8 940.0 654.9 938.0 654.3 935.8 652.6 935.0 650.6 935.6 647.6 937.9 644.6 941.0 642.2 951.2 636.6 961.0 629.2 966.0 626.3 974.0 623.3 981.9 621.6M1012.2 540.6 1018.0 540.6 1021.0 541.6 1023.0 542.9 1024.5 544.6 1025.7 547.6 1025.8 549.6 1025.2 552.6 1022.8 556.6 1015.5 563.6 1013.0 566.6 1006.1 579.6 1003.7 582.6 996.5 589.6 994.6 592.6 992.0 598.5 991.0 599.4 989.0 599.2 986.0 596.4 976.0 584.5 971.6 577.6 970.3 573.6 969.7 569.6 970.0 565.6 971.2 561.6 972.7 558.6 975.0 555.6 978.0 552.8 982.0 550.3 987.0 548.4 998.0 545.6 1008.0 541.7 1012.2 540.6M978.3 623.6 984.0 623.1 988.0 623.4 991.0 624.8 993.1 627.6 993.4 631.6 991.8 635.6 988.7 639.6 985.0 642.6 980.0 645.4 975.0 647.2 959.0 649.7 947.0 653.3 944.0 653.7 941.0 653.5 939.0 652.8 937.6 651.6 937.0 649.6 937.5 647.6 938.9 645.6 941.1 643.6 953.0 637.1 961.2 630.6 966.0 627.6 972.0 625.1 978.3 623.6M1014.8 542.6 1019.3 543.6 1021.0 544.7 1022.4 546.6 1023.1 548.6 1023.1 550.6 1021.4 554.6 1012.0 564.4 1005.4 576.6 1001.1 581.6 990.0 590.3 987.0 590.7 984.0 589.2 980.0 585.9 976.9 582.6 974.1 578.6 972.4 574.6 971.5 570.6 971.6 566.6 972.6 562.6 974.7 558.6 979.0 554.1 985.0 550.8 1000.0 547.1 1010.0 543.3 1014.8 542.6M974.9 625.6 980.0 624.8 985.0 625.0 988.9 626.6 990.5 628.6 991.1 631.6 990.3 634.6 987.6 638.6 984.1 641.6 980.0 644.0 975.0 645.9 970.0 647.0 959.0 648.1 947.0 651.8 943.0 652.0 941.4 651.6 940.0 650.6 939.5 649.6 939.8 647.6 942.4 644.6 954.0 638.4 962.1 631.6 966.0 629.0 970.0 627.1 974.9 625.6M1010.5 545.6 1015.0 545.2 1018.0 546.2 1019.9 548.6 1019.9 551.6 1018.3 554.6 1012.4 560.6 1010.1 563.6 1003.7 575.6 999.0 580.6 991.0 586.0 987.0 586.9 985.0 586.4 982.0 584.8 976.8 579.6 974.9 576.6 973.5 572.6 973.1 568.6 973.4 565.6 974.3 562.6 976.0 559.5 980.0 555.3 985.0 552.5 990.0 551.0 1001.0 548.9 1010.5 545.6M976.0 626.6 980.0 626.2 984.0 626.6 986.4 627.6 988.4 629.6 988.9 632.6 987.9 635.6 985.7 638.6 983.0 640.9 978.0 643.6 973.0 645.2 958.0 646.4 947.0 650.0 945.0 650.1 943.0 649.4 942.6 647.6 944.2 645.6 955.0 639.9 965.0 631.0 970.0 628.3 976.0 626.6M1008.7 549.6 1012.0 549.1 1014.0 549.5 1014.9 550.6 1014.8 552.6 1009.0 560.4 1003.9 571.6 1000.4 576.6 995.0 581.0 989.0 583.7 987.0 583.9 984.0 583.1 980.0 580.4 976.4 575.6 975.3 572.6 974.8 569.6 974.9 566.6 975.7 563.6 978.8 558.6 983.0 555.3 988.0 553.2 1002.0 551.3 1008.7 549.6M973.2 628.6 980.0 627.8 983.0 628.4 985.2 629.6 986.4 631.6 986.5 633.6 985.2 636.6 983.5 638.6 978.0 642.2 972.0 644.1 964.0 644.3 960.0 643.6 958.2 642.6 958.1 641.6 958.9 639.6 962.9 634.6 968.0 630.8 973.2 628.6M989.2 554.6 996.0 554.0 1002.8 554.6 1005.0 555.6 1005.7 556.6 1005.9 558.6 1003.6 567.6 1001.7 571.6 999.6 574.6 996.5 577.6 993.0 579.8 990.0 581.1 987.0 581.4 983.0 580.2 979.1 576.6 977.1 572.6 976.5 567.6 977.5 563.6 980.1 559.6 984.0 556.5 989.2 554.6M974.9 629.6 980.5 629.6 982.7 630.6 983.7 631.6 984.1 632.6 984.0 634.6 982.0 637.8 978.0 640.7 972.3 642.6 967.0 642.8 965.0 642.4 963.0 641.3 962.5 640.6 962.5 638.6 965.2 634.6 969.3 631.6 974.9 629.6M988.8 556.6 995.0 556.2 999.7 557.6 1001.6 559.6 1002.1 563.6 1000.4 569.6 997.0 574.4 992.0 577.9 989.0 578.8 987.0 578.9 984.0 578.0 981.0 575.6 978.8 571.6 978.4 567.6 979.6 563.6 981.6 560.6 985.0 558.1 988.8 556.6M973.9 631.6 978.0 631.4 980.6 632.6 981.2 634.6 979.4 637.6 976.4 639.6 973.0 640.7 969.0 640.8 966.5 639.6 966.1 637.6 967.2 635.6 970.0 633.2 973.9 631.6M989.0 558.6 993.0 558.4 997.0 559.7 999.0 562.4 999.2 565.6 998.0 569.6 995.0 573.4 991.0 575.9 987.0 576.4 984.0 575.3 982.0 573.3 980.7 570.6 980.5 567.6 981.3 564.6 983.0 562.0 986.0 559.7 989.0 558.6M972.9 634.6 976.0 634.4 976.7 635.6 976.1 636.6 974.5 637.6 972.0 637.9 971.2 637.6 970.9 636.6 972.9 634.6M988.0 561.6 991.0 561.1 993.3 561.6 995.0 562.9 996.0 565.6 995.3 568.6 994.0 570.7 991.6 572.6 989.0 573.4 987.0 573.3 985.0 572.2 983.8 570.6 983.2 568.6 983.4 566.6 984.2 564.6 986.0 562.7 988.0 561.6" fill="none" stroke="#cc5050" stroke-width="0.8"/><path d="M972.5 649.9h3.2v3.2h-3.2zM973.3 643.9h3.2v3.2h-3.2zM971.8 643.4h3.2v3.2h-3.2zM970.0 655.1h3.2v3.2h-3.2zM970.3 645.3h3.2v3.2h-3.2zM977.2 650.2h3.2v3.2h-3.2zM977.2 643.7h3.2v3.2h-3.2zM971.0 651.9h3.2v3.2h-3.2zM961.3 646.1h3.2v3.2h-3.2zM959.9 649.8h3.2v3.2h-3.2zM975.5 647.5h3.2v3.2h-3.2zM972.6 649.0h3.2v3.2h-3.2zM959.5 646.0h3.2v3.2h-3.2zM966.0 644.4h3.2v3.2h-3.2zM986.4 644.4h3.2v3.2h-3.2zM970.4 652.8h3.2v3.2h-3.2zM967.9 647.8h3.2v3.2h-3.2zM974.3 648.7h3.2v3.2h-3.2zM960.9 648.8h3.2v3.2h-3.2zM991.6 640.7h3.2v3.2h-3.2zM981.6 649.0h3.2v3.2h-3.2zM961.0 658.4h3.2v3.2h-3.2zM984.6 642.4h3.2v3.2h-3.2zM972.4 651.3h3.2v3.2h-3.2zM969.5 651.8h3.2v3.2h-3.2zM970.7 651.7h3.2v3.2h-3.2zM989.8 645.0h3.2v3.2h-3.2zM976.8 646.1h3.2v3.2h-3.2zM978.2 642.5h3.2v3.2h-3.2zM968.2 647.4h3.2v3.2h-3.2zM979.0 654.1h3.2v3.2h-3.2zM962.5 644.4h3.2v3.2h-3.2zM985.8 638.4h3.2v3.2h-3.2zM969.1 647.9h3.2v3.2h-3.2z" fill="#7a2a2a"/><path d="M904.6 545.3h3.2v3.2h-3.2zM906.1 561.4h3.2v3.2h-3.2zM907.9 561.4h3.2v3.2h-3.2zM899.3 612.7h3.2v3.2h-3.2zM916.5 613.7h3.2v3.2h-3.2zM885.5 643.1h3.2v3.2h-3.2zM928.5 630.6h3.2v3.2h-3.2zM935.7 628.7h3.2v3.2h-3.2zM948.0 634.7h3.2v3.2h-3.2zM972.0 627.6h3.2v3.2h-3.2zM1000.4 635.9h3.2v3.2h-3.2zM1013.9 633.6h3.2v3.2h-3.2zM963.7 636.6h3.2v3.2h-3.2zM956.2 636.6h3.2v3.2h-3.2zM989.9 644.9h3.2v3.2h-3.2zM995.9 646.8h3.2v3.2h-3.2z" fill="#555"/><path d="M1037.3 528.2h3.4v3.4h-3.4zM1040.5 536.2h3.4v3.4h-3.4zM942.7 565.4h3.4v3.4h-3.4zM936.7 570.3h3.4v3.4h-3.4zM1029.2 573.3h3.4v3.4h-3.4zM939.4 588.6h3.4v3.4h-3.4zM1034.8 585.6h3.4v3.4h-3.4zM1030.0 588.9h3.4v3.4h-3.4zM942.7 598.8h3.4v3.4h-3.4zM938.2 601.8h3.4v3.4h-3.4zM935.6 603.9h3.4v3.4h-3.4zM1025.0 608.8h3.4v3.4h-3.4zM1022.8 612.3h3.4v3.4h-3.4zM1020.1 616.6h3.4v3.4h-3.4zM907.5 663.9h3.4v3.4h-3.4z" fill="#b00000"/><rect x="852.6" y="467.5" width="256.8" height="257.2" fill="none" stroke="#333" stroke-width="1.2"/><line x1="956.5" y1="467.5" x2="956.5" y2="724.7" stroke="#000" stroke-width="1.8"/><line x1="852.6" y1="608.1" x2="1109.4" y2="608.1" stroke="#000" stroke-width="1.8"/><path d="M852.6 600.9h-4M852.6 588.6h-4M852.6 579.9h-4M852.6 573.1h-4M852.6 567.5h-4M852.6 562.8h-4M852.6 558.8h-4M852.6 555.2h-4M852.6 533.5h-4M852.6 522.7h-4M852.6 515.0h-4M852.6 509.0h-4M852.6 504.1h-4M852.6 500.0h-4M852.6 496.5h-4M852.6 493.3h-4M852.6 472.0h-4M852.6 652.8h-4M852.6 645.4h-4M852.6 640.1h-4M852.6 636.0h-4M852.6 632.7h-4M852.6 629.8h-4M852.6 627.4h-4M852.6 625.2h-4M852.6 677.6h-4M852.6 684.7h-4M852.6 689.7h-4M852.6 693.6h-4M852.6 696.8h-4M852.6 699.5h-4M852.6 701.9h-4M852.6 703.9h-4" fill="none" stroke="#222" stroke-width="1.1"/><path d="M852.6 707.0h-7M852.6 622.0h-7M852.6 552.0h-7M852.6 490.5h-7M852.6 664.2h-6M852.6 665.5h-6M852.6 666.8h-6" fill="none" stroke="#222" stroke-width="1.5"/><path d="M973.3 724.7v4M985.6 724.7v4M994.3 724.7v4M1001.0 724.7v4M1006.5 724.7v4M1011.2 724.7v4M1015.2 724.7v4M1018.8 724.7v4M1041.0 724.7v4M1052.1 724.7v4M1059.9 724.7v4M1066.0 724.7v4M1071.0 724.7v4M1075.2 724.7v4M1078.9 724.7v4M1082.1 724.7v4M1104.0 724.7v4M922.4 724.7v4M929.6 724.7v4M934.7 724.7v4M938.7 724.7v4M941.9 724.7v4M944.7 724.7v4M947.1 724.7v4M949.2 724.7v4M897.7 724.7v4M890.5 724.7v4M885.4 724.7v4M881.4 724.7v4M878.1 724.7v4M875.4 724.7v4M873.0 724.7v4M870.9 724.7v4" fill="none" stroke="#222" stroke-width="1.1"/><path d="M867.8 724.7v7M952.3 724.7v7M1022.0 724.7v7M1085.0 724.7v7M908.7 724.7v6M910.0 724.7v6M911.3 724.7v6" fill="none" stroke="#222" stroke-width="1.5"/><text x="859.5" y="489.5" font-size="26" fill="#3a3a3a">0.34</text><text x="859.5" y="516.9" font-size="26" fill="#a00000">1.80</text><text x="1102" y="489.5" font-size="26" text-anchor="end" fill="#3a3a3a">0</text><text x="1102" y="516.9" font-size="26" text-anchor="end" fill="#a00000">61.5</text><text x="859.5" y="683.8" font-size="26" fill="#3a3a3a">95.7</text><text x="859.5" y="713.9" font-size="26" fill="#a00000">11.6</text><text x="1102" y="683.8" font-size="26" text-anchor="end" fill="#3a3a3a">3.99</text><text x="1102" y="713.9" font-size="26" text-anchor="end" fill="#a00000">24.1</text><line x1="820" y1="555" x2="820" y2="477" stroke="#000" stroke-width="2"/><path d="M820 467L814 479L820 476L826 479Z" fill="#000"/><text x="829" y="724" font-size="26" transform="rotate(-90 829 724)">CD103-BV711</text><text x="851" y="767.8" font-size="26">CD69-BV510</text><line x1="1010" y1="760.5" x2="1099.4" y2="760.5" stroke="#000" stroke-width="2"/><path d="M1109.4 760.5L1097.4 754.5L1100.4 760.5L1097.4 766.5Z" fill="#000"/><line x1="1255.7" y1="445.6" x2="1255.7" y2="736.7" stroke="#111" stroke-width="1.4"/><path d="M1246.2 736.7H1255.7M1246.2 678.5H1255.7M1246.2 620.3H1255.7M1246.2 562.0H1255.7M1246.2 503.8H1255.7M1246.2 445.6H1255.7" fill="none" stroke="#333" stroke-width="1.5"/><text x="1234.7" y="746" font-size="26" text-anchor="end">0</text><text x="1234.7" y="687.8" font-size="26" text-anchor="end">20</text><text x="1234.7" y="629.6" font-size="26" text-anchor="end">40</text><text x="1234.7" y="571.3" font-size="26" text-anchor="end">60</text><text x="1234.7" y="513.1" font-size="26" text-anchor="end">80</text><text x="1234.7" y="454.9" font-size="26" text-anchor="end">100</text><line x1="1246.2" y1="736.7" x2="1556" y2="736.7" stroke="#111" stroke-width="1.4"/><rect x="1268.5" y="463.1" width="22.5" height="273.6" fill="#a6a6a6" stroke="#000" stroke-width="2.3"/><rect x="1304.1" y="703.8" width="22.5" height="32.9" fill="#b34d43" stroke="#000" stroke-width="2.3"/><circle cx="1279.6" cy="458.7" r="5.4" fill="#a6a6a6" stroke="#000" stroke-width="1.1"/><circle cx="1276.1" cy="464.5" r="5.4" fill="#a6a6a6" stroke="#000" stroke-width="1.1"/><circle cx="1283.8" cy="465.7" r="5.4" fill="#a6a6a6" stroke="#000" stroke-width="1.1"/><circle cx="1279.6" cy="477.3" r="5.4" fill="#a6a6a6" stroke="#000" stroke-width="1.1"/><circle cx="1316.1" cy="688.4" r="5.4" fill="#9e1a0a" stroke="#000" stroke-width="1.1" fill-opacity="0.75"/><circle cx="1311.9" cy="703.5" r="5.4" fill="#9e1a0a" stroke="#000" stroke-width="1.1" fill-opacity="0.75"/><circle cx="1318.9" cy="704.7" r="5.4" fill="#9e1a0a" stroke="#000" stroke-width="1.1" fill-opacity="0.75"/><circle cx="1315.4" cy="710.5" r="5.4" fill="#9e1a0a" stroke="#000" stroke-width="1.1" fill-opacity="0.75"/><line x1="1279.8" y1="736.7" x2="1279.8" y2="746.2" stroke="#333" stroke-width="1.4"/><line x1="1315.4" y1="736.7" x2="1315.4" y2="746.2" stroke="#333" stroke-width="1.4"/><path d="M1267.6 746.2V752.5H1327.6V746.2" fill="none" stroke="#333" stroke-width="1.4"/><text x="1297.6" y="782.3" font-size="26" text-anchor="middle">−/−</text><rect x="1340.2" y="735.2" width="22.5" height="1.5" fill="#a6a6a6" stroke="#000" stroke-width="2.3"/><rect x="1375.8" y="725.1" width="22.5" height="11.6" fill="#b34d43" stroke="#000" stroke-width="2.3"/><circle cx="1345" cy="736.1" r="5.4" fill="#a6a6a6" stroke="#000" stroke-width="1.1"/><circle cx="1352" cy="736.7" r="5.4" fill="#a6a6a6" stroke="#000" stroke-width="1.1"/><circle cx="1363.6" cy="735" r="5.4" fill="#a6a6a6" stroke="#000" stroke-width="1.1"/><circle cx="1378.8" cy="723.3" r="5.4" fill="#9e1a0a" stroke="#000" stroke-width="1.1" fill-opacity="0.75"/><circle cx="1384.1" cy="731.5" r="5.4" fill="#9e1a0a" stroke="#000" stroke-width="1.1" fill-opacity="0.75"/><circle cx="1390.4" cy="728" r="5.4" fill="#9e1a0a" stroke="#000" stroke-width="1.1" fill-opacity="0.75"/><circle cx="1396.3" cy="715.7" r="5.4" fill="#9e1a0a" stroke="#000" stroke-width="1.1" fill-opacity="0.75"/><line x1="1351.5" y1="736.7" x2="1351.5" y2="746.2" stroke="#333" stroke-width="1.4"/><line x1="1387.1" y1="736.7" x2="1387.1" y2="746.2" stroke="#333" stroke-width="1.4"/><path d="M1339.3 746.2V752.5H1399.3V746.2" fill="none" stroke="#333" stroke-width="1.4"/><text x="1369.3" y="782.3" font-size="26" text-anchor="middle">−/+</text><rect x="1412" y="721" width="22.5" height="15.7" fill="#a6a6a6" stroke="#000" stroke-width="2.3"/><rect x="1447.5" y="663.1" width="22.5" height="73.6" fill="#b34d43" stroke="#000" stroke-width="2.3"/><circle cx="1415.3" cy="719.8" r="5.4" fill="#a6a6a6" stroke="#000" stroke-width="1.1"/><circle cx="1420.6" cy="724.5" r="5.4" fill="#a6a6a6" stroke="#000" stroke-width="1.1"/><circle cx="1425.9" cy="721" r="5.4" fill="#a6a6a6" stroke="#000" stroke-width="1.1"/><circle cx="1431.8" cy="707.9" r="5.4" fill="#a6a6a6" stroke="#000" stroke-width="1.1"/><circle cx="1453.6" cy="649.1" r="5.4" fill="#9e1a0a" stroke="#000" stroke-width="1.1" fill-opacity="0.75"/><circle cx="1465.9" cy="667.4" r="5.4" fill="#9e1a0a" stroke="#000" stroke-width="1.1" fill-opacity="0.75"/><circle cx="1471.2" cy="660.4" r="5.4" fill="#9e1a0a" stroke="#000" stroke-width="1.1" fill-opacity="0.75"/><circle cx="1453.6" cy="682.3" r="5.4" fill="#9e1a0a" stroke="#000" stroke-width="1.1" fill-opacity="0.75"/><line x1="1423.2" y1="736.7" x2="1423.2" y2="746.2" stroke="#333" stroke-width="1.4"/><line x1="1458.8" y1="736.7" x2="1458.8" y2="746.2" stroke="#333" stroke-width="1.4"/><path d="M1411.0 746.2V752.5H1471.0V746.2" fill="none" stroke="#333" stroke-width="1.4"/><text x="1441" y="782.3" font-size="26" text-anchor="middle">+/−</text><rect x="1483.7" y="735.2" width="22.5" height="1.5" fill="#a6a6a6" stroke="#000" stroke-width="2.3"/><rect x="1519.2" y="555.3" width="22.5" height="181.4" fill="#b34d43" stroke="#000" stroke-width="2.3"/><circle cx="1485.9" cy="736.7" r="5.4" fill="#a6a6a6" stroke="#000" stroke-width="1.1"/><circle cx="1495.4" cy="736.7" r="5.4" fill="#a6a6a6" stroke="#000" stroke-width="1.1"/><circle cx="1503.5" cy="735.8" r="5.4" fill="#a6a6a6" stroke="#000" stroke-width="1.1"/><circle cx="1530.8" cy="546.6" r="5.4" fill="#9e1a0a" stroke="#000" stroke-width="1.1" fill-opacity="0.75"/><circle cx="1527.3" cy="554.5" r="5.4" fill="#9e1a0a" stroke="#000" stroke-width="1.1" fill-opacity="0.75"/><circle cx="1534.3" cy="558.8" r="5.4" fill="#9e1a0a" stroke="#000" stroke-width="1.1" fill-opacity="0.75"/><circle cx="1530.8" cy="568.2" r="5.4" fill="#9e1a0a" stroke="#000" stroke-width="1.1" fill-opacity="0.75"/><line x1="1494.9" y1="736.7" x2="1494.9" y2="746.2" stroke="#333" stroke-width="1.4"/><line x1="1530.5" y1="736.7" x2="1530.5" y2="746.2" stroke="#333" stroke-width="1.4"/><path d="M1482.7 746.2V752.5H1542.7V746.2" fill="none" stroke="#333" stroke-width="1.4"/><text x="1512.7" y="782.3" font-size="26" text-anchor="middle">+/+</text><text x="1552" y="782.3" font-size="26">CD69/CD103</text><text x="1180" y="693.5" font-size="26.8" transform="rotate(-90 1180 693.5)">Percentage CD8<tspan dy="-10" font-size="17">+</tspan></text><line x1="1281" y1="445.6" x2="1344" y2="445.6" stroke="#000" stroke-width="1.5"/><text x="1250.5" y="438.6" font-size="26"><tspan font-style="italic">P</tspan> = 0.0083</text><line x1="1490.7" y1="529" x2="1530" y2="529" stroke="#000" stroke-width="1.5"/><text x="1448.7" y="521" font-size="26"><tspan font-style="italic">P</tspan> = 0.0083</text><text transform="translate(0 843.5) scale(0.84 1)" font-size="32.5" font-weight="bold">e</text><rect x="26" y="861" width="30.5" height="15" fill="#d0d0d0" stroke="#000" stroke-width="2"/><text x="67.7" y="876.8" font-size="26">CD4<tspan dy="-10" font-size="17">+</tspan></text><rect x="146" y="861" width="30" height="15" fill="#8faadc" stroke="#000" stroke-width="2"/><text x="188.7" y="876.8" font-size="26">TNF<tspan dy="-10" font-size="17">+</tspan><tspan dy="10">CD4</tspan><tspan dy="-10" font-size="17">+</tspan></text><rect x="332.5" y="861" width="30" height="15" fill="#a9d18e" stroke="#000" stroke-width="2"/><text x="373.5" y="876.8" font-size="26">IFN-γ<tspan dy="-10" font-size="17">+</tspan><tspan dy="10">CD4</tspan><tspan dy="-10" font-size="17">+</tspan></text><rect x="51.4" y="902.3" width="214.6" height="215.3" fill="none" stroke="#444" stroke-width="1.2"/><line x1="51.4" y1="902.3" x2="51.4" y2="1117.6" stroke="#222" stroke-width="1.4"/><line x1="51.4" y1="1117.6" x2="266" y2="1117.6" stroke="#222" stroke-width="1.4"/><path d="M51.4 1039.0h-4M51.4 1029.4h-4M51.4 1022.6h-4M51.4 1017.3h-4M51.4 1013.0h-4M51.4 1009.4h-4M51.4 1006.3h-4M51.4 1003.5h-4M51.4 984.7h-4M51.4 975.2h-4M51.4 968.5h-4M51.4 963.3h-4M51.4 959.0h-4M51.4 955.4h-4M51.4 952.2h-4M51.4 949.5h-4M51.4 930.7h-4M51.4 921.2h-4M51.4 914.5h-4M51.4 909.3h-4M51.4 905.0h-4M51.4 1063.7h-4M51.4 1061.7h-4M51.4 1060.3h-4M51.4 1059.1h-4M51.4 1058.2h-4M51.4 1057.4h-4M51.4 1056.8h-4M51.4 1056.2h-4M51.4 1071.2h-4M51.4 1073.6h-4M51.4 1075.3h-4M51.4 1076.6h-4M51.4 1077.6h-4M51.4 1078.5h-4M51.4 1079.3h-4M51.4 1080.0h-4" fill="none" stroke="#222" stroke-width="1.1"/><path d="M51.4 1081.0h-7M51.4 1055.3h-7M51.4 1001.0h-7M51.4 947.0h-7M51.4 1065.9h-6M51.4 1067.2h-6M51.4 1068.5h-6" fill="none" stroke="#222" stroke-width="1.5"/><path d="M152.5 1117.6v4M162.7 1117.6v4M170.0 1117.6v4M175.6 1117.6v4M180.2 1117.6v4M184.1 1117.6v4M187.5 1117.6v4M190.4 1117.6v4M208.7 1117.6v4M217.9 1117.6v4M224.3 1117.6v4M229.4 1117.6v4M233.5 1117.6v4M237.0 1117.6v4M240.0 1117.6v4M242.6 1117.6v4M260.6 1117.6v4M109.7 1117.6v4M115.8 1117.6v4M120.1 1117.6v4M123.5 1117.6v4M126.2 1117.6v4M128.6 1117.6v4M130.6 1117.6v4M132.3 1117.6v4M89.1 1117.6v4M83.1 1117.6v4M78.8 1117.6v4M75.5 1117.6v4M72.8 1117.6v4M70.5 1117.6v4M68.6 1117.6v4M66.8 1117.6v4" fill="none" stroke="#222" stroke-width="1.1"/><path d="M64.2 1117.6v7M135.0 1117.6v7M193.1 1117.6v7M245.0 1117.6v7M98.0 1117.6v6M99.3 1117.6v6M100.6 1117.6v6" fill="none" stroke="#222" stroke-width="1.5"/><path d="M109.5 962.2 113.4 962.4 116.4 964.0 119.4 967.0 122.0 971.2 124.1 976.2 126.0 983.2 127.1 991.2 127.7 1000.2 127.6 1010.2 126.9 1020.2 125.7 1028.2 123.9 1035.2 121.5 1041.2 118.4 1046.0 115.4 1048.8 111.4 1050.2 107.4 1049.2 104.4 1046.9 101.6 1043.2 99.2 1038.2 97.0 1031.2 95.8 1025.2 94.8 1017.2 94.4 1007.2 94.9 990.2 96.0 983.2 97.9 976.2 100.0 971.2 103.3 966.2 106.4 963.4 109.5 962.2M107.7 966.2 111.4 965.4 114.4 966.2 117.4 968.5 120.1 972.2 122.1 976.2 123.9 982.2 125.1 988.2 125.8 996.2 125.9 1006.2 125.3 1016.2 124.2 1024.2 122.6 1031.2 120.3 1037.2 117.4 1041.8 114.4 1044.4 111.4 1045.4 108.4 1044.8 105.4 1042.7 102.8 1039.2 100.8 1035.2 97.8 1024.2 96.2 1008.2 96.5 992.2 98.6 980.2 100.4 975.2 102.5 971.2 105.4 967.7 107.7 966.2M107.7 969.2 110.4 968.3 113.4 968.8 116.4 970.8 119.1 974.2 121.0 978.2 122.6 983.2 124.3 995.2 124.4 1004.2 123.9 1013.2 122.8 1021.2 121.3 1028.2 119.4 1033.3 117.2 1037.2 114.4 1040.0 111.4 1041.1 108.4 1040.4 106.4 1039.0 104.2 1036.2 102.1 1032.2 100.5 1027.2 99.2 1021.2 97.7 1007.2 97.8 993.2 99.7 982.2 102.9 974.2 105.4 971.0 107.7 969.2M108.5 971.2 111.4 970.6 113.4 971.1 116.2 973.2 118.4 976.1 120.3 980.2 121.8 985.2 123.2 996.2 122.7 1011.2 121.7 1019.2 120.3 1025.2 118.6 1030.2 116.4 1034.1 114.4 1036.2 111.4 1037.5 108.4 1036.8 106.5 1035.2 104.4 1032.2 103.0 1029.2 100.2 1018.2 98.9 1005.2 99.0 993.2 100.7 983.2 102.1 979.2 104.2 975.2 106.4 972.6 108.5 971.2M108.6 973.2 111.4 972.6 113.4 973.2 116.0 975.2 118.1 978.2 121.0 986.2 122.2 996.2 121.7 1010.2 119.4 1023.2 117.6 1028.2 115.9 1031.2 113.4 1033.6 111.4 1034.3 109.4 1034.0 107.4 1032.7 105.4 1030.1 103.6 1026.2 101.1 1016.2 99.9 1004.2 100.0 993.2 101.6 984.2 104.5 977.2 106.4 974.8 108.6 973.2M109.0 975.2 111.4 974.7 113.4 975.4 115.4 976.9 117.4 979.7 120.1 987.2 121.2 996.2 120.6 1009.2 118.4 1021.0 115.4 1027.9 113.4 1030.1 111.4 1030.9 109.4 1030.5 107.4 1029.0 104.4 1023.5 102.1 1014.2 100.8 1002.2 101.1 992.2 102.7 984.2 105.4 978.4 107.4 976.2 109.0 975.2M108.9 977.2 110.4 976.7 112.4 976.9 114.4 978.1 116.4 980.5 119.0 987.2 120.2 995.2 119.9 1006.2 118.0 1017.2 115.4 1024.2 113.4 1026.6 111.4 1027.6 109.4 1027.2 108.4 1026.5 106.4 1023.8 105.2 1021.2 103.1 1013.2 101.8 1002.2 102.0 993.2 103.2 986.2 105.4 980.9 107.4 978.3 108.9 977.2M108.7 979.2 110.4 978.5 112.4 978.7 115.4 981.3 118.0 987.2 119.3 995.2 119.0 1005.2 117.2 1015.2 114.4 1022.0 113.4 1023.3 111.4 1024.4 109.4 1023.9 108.4 1023.1 105.7 1018.2 103.8 1011.2 102.7 1002.2 102.8 994.2 104.0 987.2 106.0 982.2 108.7 979.2M108.6 981.2 110.4 980.3 112.4 980.6 115.2 983.2 117.3 988.2 118.4 995.2 118.2 1004.2 116.5 1013.2 114.4 1018.5 113.0 1020.2 111.4 1021.2 109.4 1020.6 108.4 1019.7 106.4 1016.0 104.5 1009.2 103.6 1002.2 103.6 995.2 104.4 989.2 106.2 984.2 108.6 981.2M110.2 982.2 111.4 982.1 113.4 983.1 115.4 985.8 116.9 990.2 117.6 996.2 117.3 1004.2 115.8 1011.2 113.6 1016.2 111.4 1018.0 109.4 1017.3 108.4 1016.2 106.5 1012.2 105.0 1006.2 104.3 999.2 104.6 993.2 105.7 988.2 107.4 984.5 108.4 983.3 110.2 982.2M109.9 984.2 111.4 984.0 112.4 984.3 114.4 986.4 116.1 991.2 116.8 996.2 116.6 1002.2 115.4 1008.4 113.4 1013.1 111.4 1014.8 109.4 1014.1 107.4 1010.8 106.1 1006.2 105.3 1000.2 105.4 994.2 106.4 989.2 107.8 986.2 109.9 984.2M110.0 986.2 111.4 986.0 112.4 986.4 113.9 988.2 115.4 992.2 115.8 996.2 115.7 1001.2 114.7 1006.2 113.4 1009.6 111.4 1011.5 110.4 1011.5 109.4 1010.7 107.9 1008.2 106.8 1004.2 106.2 999.2 106.3 994.2 107.2 990.2 108.4 987.6 110.0 986.2M109.2 989.2 110.4 988.3 111.4 988.2 112.4 988.8 113.8 991.2 114.7 995.2 114.8 999.2 114.2 1003.2 113.1 1006.2 111.4 1008.1 110.4 1008.1 108.9 1006.2 107.3 1000.2 107.4 994.0 108.1 991.2 109.2 989.2M110.8 991.2 111.4 991.1 112.4 992.1 113.5 996.2 113.1 1001.2 112.4 1003.2 111.4 1004.2 110.4 1004.1 109.4 1002.8 108.4 998.2 109.1 993.2 109.5 992.2 110.8 991.2" fill="none" stroke="#505050" stroke-width="0.7"/><path d="M132.3 988.0h2.9v2.9h-2.9zM138.7 1028.0h2.9v2.9h-2.9zM130.2 1019.1h2.9v2.9h-2.9zM132.7 987.3h2.9v2.9h-2.9zM135.5 993.1h2.9v2.9h-2.9zM130.2 981.5h2.9v2.9h-2.9zM133.4 998.2h2.9v2.9h-2.9zM133.7 986.0h2.9v2.9h-2.9zM132.1 979.1h2.9v2.9h-2.9zM134.9 1005.1h2.9v2.9h-2.9zM132.9 1010.4h2.9v2.9h-2.9zM127.5 1019.3h2.9v2.9h-2.9zM139.8 961.2h2.9v2.9h-2.9zM124.6 964.4h2.9v2.9h-2.9zM134.9 1003.6h2.9v2.9h-2.9zM135.9 1017.9h2.9v2.9h-2.9zM132.4 1007.4h2.9v2.9h-2.9zM130.9 1021.4h2.9v2.9h-2.9zM132.5 1043.8h2.9v2.9h-2.9zM128.5 974.7h2.9v2.9h-2.9zM129.3 1023.8h2.9v2.9h-2.9zM130.6 1032.3h2.9v2.9h-2.9zM135.7 966.5h2.9v2.9h-2.9zM132.2 1029.7h2.9v2.9h-2.9zM131.9 1024.5h2.9v2.9h-2.9zM141.0 1007.1h2.9v2.9h-2.9zM130.4 982.0h2.9v2.9h-2.9zM134.1 995.8h2.9v2.9h-2.9zM130.8 998.0h2.9v2.9h-2.9zM134.1 975.0h2.9v2.9h-2.9zM136.3 1002.3h2.9v2.9h-2.9zM137.6 1000.3h2.9v2.9h-2.9zM128.6 1012.0h2.9v2.9h-2.9zM131.2 970.4h2.9v2.9h-2.9zM128.0 1043.0h2.9v2.9h-2.9zM133.0 1010.5h2.9v2.9h-2.9zM130.4 984.0h2.9v2.9h-2.9zM135.1 998.0h2.9v2.9h-2.9zM128.5 997.3h2.9v2.9h-2.9zM136.1 980.5h2.9v2.9h-2.9zM137.3 984.5h2.9v2.9h-2.9zM132.2 980.5h2.9v2.9h-2.9zM130.7 1001.7h2.9v2.9h-2.9zM129.8 983.7h2.9v2.9h-2.9zM128.8 980.8h2.9v2.9h-2.9zM133.2 1022.4h2.9v2.9h-2.9zM132.8 989.6h2.9v2.9h-2.9zM139.0 975.4h2.9v2.9h-2.9zM135.4 977.6h2.9v2.9h-2.9zM135.1 996.8h2.9v2.9h-2.9zM127.7 1040.8h2.9v2.9h-2.9zM134.6 1001.6h2.9v2.9h-2.9zM128.6 999.5h2.9v2.9h-2.9zM130.9 1017.9h2.9v2.9h-2.9zM134.7 984.5h2.9v2.9h-2.9zM129.4 987.8h2.9v2.9h-2.9zM131.2 1017.1h2.9v2.9h-2.9zM136.8 981.1h2.9v2.9h-2.9zM133.8 989.9h2.9v2.9h-2.9zM139.9 999.4h2.9v2.9h-2.9zM133.6 978.1h2.9v2.9h-2.9zM130.0 1009.0h2.9v2.9h-2.9zM128.0 1041.9h2.9v2.9h-2.9zM130.4 1026.9h2.9v2.9h-2.9zM128.0 988.9h2.9v2.9h-2.9zM131.6 992.9h2.9v2.9h-2.9zM132.6 1018.5h2.9v2.9h-2.9zM134.2 998.5h2.9v2.9h-2.9zM126.1 981.2h2.9v2.9h-2.9zM134.6 994.8h2.9v2.9h-2.9zM130.5 1023.3h2.9v2.9h-2.9zM134.2 1005.9h2.9v2.9h-2.9zM132.9 979.3h2.9v2.9h-2.9zM135.7 1012.7h2.9v2.9h-2.9zM126.5 1027.8h2.9v2.9h-2.9zM150.0 1006.6h2.9v2.9h-2.9zM187.7 1018.7h2.9v2.9h-2.9zM141.2 973.1h2.9v2.9h-2.9zM158.8 970.4h2.9v2.9h-2.9zM205.0 1020.3h2.9v2.9h-2.9zM141.0 985.7h2.9v2.9h-2.9zM169.1 1035.1h2.9v2.9h-2.9zM183.2 980.5h2.9v2.9h-2.9zM151.6 987.9h2.9v2.9h-2.9zM145.0 1014.1h2.9v2.9h-2.9zM213.9 1003.9h2.9v2.9h-2.9zM146.1 1012.2h2.9v2.9h-2.9zM215.4 992.1h2.9v2.9h-2.9zM145.4 992.8h2.9v2.9h-2.9zM199.1 1005.4h2.9v2.9h-2.9zM185.3 988.8h2.9v2.9h-2.9zM156.0 1022.5h2.9v2.9h-2.9zM216.2 997.9h2.9v2.9h-2.9zM150.9 965.9h2.9v2.9h-2.9zM140.2 1027.0h2.9v2.9h-2.9zM162.7 1026.0h2.9v2.9h-2.9zM173.1 999.3h2.9v2.9h-2.9zM144.8 998.3h2.9v2.9h-2.9zM147.6 1008.0h2.9v2.9h-2.9zM165.3 969.5h2.9v2.9h-2.9zM140.3 996.1h2.9v2.9h-2.9zM183.0 1012.8h2.9v2.9h-2.9zM142.6 984.8h2.9v2.9h-2.9zM158.0 1006.4h2.9v2.9h-2.9zM156.1 988.0h2.9v2.9h-2.9zM154.2 1013.6h2.9v2.9h-2.9zM141.3 1016.8h2.9v2.9h-2.9zM167.7 987.6h2.9v2.9h-2.9zM174.1 984.7h2.9v2.9h-2.9zM139.2 1000.7h2.9v2.9h-2.9zM183.0 1023.5h2.9v2.9h-2.9zM145.2 1004.3h2.9v2.9h-2.9zM172.5 983.0h2.9v2.9h-2.9zM167.6 999.1h2.9v2.9h-2.9zM175.4 981.1h2.9v2.9h-2.9zM150.2 959.1h2.9v2.9h-2.9zM196.0 1005.6h2.9v2.9h-2.9zM145.9 973.0h2.9v2.9h-2.9zM150.8 955.4h2.9v2.9h-2.9zM164.8 992.3h2.9v2.9h-2.9zM143.5 965.8h2.9v2.9h-2.9zM164.1 983.8h2.9v2.9h-2.9zM188.5 972.4h2.9v2.9h-2.9zM162.9 978.4h2.9v2.9h-2.9zM190.9 1022.0h2.9v2.9h-2.9zM144.6 990.0h2.9v2.9h-2.9zM201.6 1005.1h2.9v2.9h-2.9zM152.0 1019.3h2.9v2.9h-2.9zM160.9 1017.0h2.9v2.9h-2.9zM149.4 999.7h2.9v2.9h-2.9zM150.1 1020.2h2.9v2.9h-2.9zM147.9 974.8h2.9v2.9h-2.9zM190.3 1025.0h2.9v2.9h-2.9zM148.0 964.1h2.9v2.9h-2.9zM141.3 1006.0h2.9v2.9h-2.9zM146.5 982.5h2.9v2.9h-2.9zM165.9 985.3h2.9v2.9h-2.9zM176.7 986.0h2.9v2.9h-2.9zM157.6 961.4h2.9v2.9h-2.9zM174.5 995.0h2.9v2.9h-2.9zM157.8 1006.8h2.9v2.9h-2.9zM153.1 1003.9h2.9v2.9h-2.9zM148.3 1020.3h2.9v2.9h-2.9zM157.7 990.3h2.9v2.9h-2.9zM143.7 967.4h2.9v2.9h-2.9zM142.7 1004.4h2.9v2.9h-2.9zM157.7 997.1h2.9v2.9h-2.9zM222.7 1007.1h2.9v2.9h-2.9zM142.5 977.7h2.9v2.9h-2.9zM139.7 1021.1h2.9v2.9h-2.9zM164.0 977.3h2.9v2.9h-2.9zM184.0 1023.4h2.9v2.9h-2.9zM193.3 999.9h2.9v2.9h-2.9zM140.1 997.1h2.9v2.9h-2.9zM152.2 1000.1h2.9v2.9h-2.9zM193.4 978.6h2.9v2.9h-2.9zM147.3 983.5h2.9v2.9h-2.9zM143.1 988.1h2.9v2.9h-2.9zM195.1 966.4h2.9v2.9h-2.9zM140.7 973.0h2.9v2.9h-2.9zM198.0 990.1h2.9v2.9h-2.9zM165.0 971.9h2.9v2.9h-2.9zM153.3 1027.3h2.9v2.9h-2.9zM148.9 991.7h2.9v2.9h-2.9zM145.2 1018.3h2.9v2.9h-2.9zM152.2 1020.8h2.9v2.9h-2.9zM139.2 991.7h2.9v2.9h-2.9zM159.0 982.0h2.9v2.9h-2.9zM152.0 995.7h2.9v2.9h-2.9zM141.5 992.9h2.9v2.9h-2.9zM146.5 993.8h2.9v2.9h-2.9zM150.1 984.5h2.9v2.9h-2.9zM202.0 1024.7h2.9v2.9h-2.9zM163.6 968.8h2.9v2.9h-2.9zM150.3 1038.2h2.9v2.9h-2.9zM166.8 996.7h2.9v2.9h-2.9zM179.6 989.7h2.9v2.9h-2.9zM143.2 1023.3h2.9v2.9h-2.9zM173.1 986.8h2.9v2.9h-2.9zM170.6 993.0h2.9v2.9h-2.9zM154.0 1019.7h2.9v2.9h-2.9zM148.1 1000.2h2.9v2.9h-2.9zM148.0 982.5h2.9v2.9h-2.9zM156.7 979.3h2.9v2.9h-2.9zM149.3 1031.8h2.9v2.9h-2.9zM140.0 977.7h2.9v2.9h-2.9zM178.2 998.3h2.9v2.9h-2.9zM157.9 1008.4h2.9v2.9h-2.9zM171.3 997.8h2.9v2.9h-2.9zM184.3 990.7h2.9v2.9h-2.9zM159.1 989.6h2.9v2.9h-2.9zM155.6 985.8h2.9v2.9h-2.9zM179.3 1020.8h2.9v2.9h-2.9zM161.3 970.3h2.9v2.9h-2.9zM149.2 985.6h2.9v2.9h-2.9zM215.3 1018.5h2.9v2.9h-2.9zM155.0 985.7h2.9v2.9h-2.9zM155.3 1037.7h2.9v2.9h-2.9zM173.8 1021.1h2.9v2.9h-2.9zM156.8 972.3h2.9v2.9h-2.9zM174.5 981.2h2.9v2.9h-2.9zM206.5 1021.6h2.9v2.9h-2.9zM162.0 971.1h2.9v2.9h-2.9zM156.4 1005.2h2.9v2.9h-2.9zM146.8 975.3h2.9v2.9h-2.9zM188.9 954.0h2.9v2.9h-2.9zM142.7 987.2h2.9v2.9h-2.9zM141.8 992.0h2.9v2.9h-2.9zM149.5 986.2h2.9v2.9h-2.9zM204.1 991.6h2.9v2.9h-2.9zM165.9 1018.9h2.9v2.9h-2.9zM151.4 1011.8h2.9v2.9h-2.9zM155.9 1000.2h2.9v2.9h-2.9zM141.1 1019.1h2.9v2.9h-2.9zM146.3 972.8h2.9v2.9h-2.9zM216.6 973.5h2.9v2.9h-2.9zM220.6 988.5h2.9v2.9h-2.9zM231.6 993.5h2.9v2.9h-2.9zM224.6 1016.5h2.9v2.9h-2.9zM198.6 1028.5h2.9v2.9h-2.9zM174.6 1035.5h2.9v2.9h-2.9zM158.6 1043.5h2.9v2.9h-2.9zM149.6 1038.5h2.9v2.9h-2.9zM236.6 983.5h2.9v2.9h-2.9zM86.5 985.5h2.9v2.9h-2.9zM82.5 993.5h2.9v2.9h-2.9zM84.5 1016.5h2.9v2.9h-2.9zM97.1 1067.1h2.9v2.9h-2.9zM112.5 954.5h2.9v2.9h-2.9zM115.5 956.5h2.9v2.9h-2.9zM121.5 958.5h2.9v2.9h-2.9z" fill="#000"/><rect x="140.1" y="925.2" width="119.3" height="165.6" fill="none" stroke="#4472c4" stroke-width="3.2"/><line x1="140.1" y1="922.8" x2="259.4" y2="922.8" stroke="#000" stroke-width="1.1"/><text x="250.4" y="952" font-size="26" text-anchor="end" fill="#1f5c99">3.9</text><rect x="282" y="902.3" width="214.8" height="215.3" fill="none" stroke="#444" stroke-width="1.2"/><line x1="282" y1="902.3" x2="282" y2="1117.6" stroke="#222" stroke-width="1.4"/><line x1="282" y1="1117.6" x2="496.8" y2="1117.6" stroke="#222" stroke-width="1.4"/><path d="M282.0 1039.0h-4M282.0 1029.4h-4M282.0 1022.6h-4M282.0 1017.3h-4M282.0 1013.0h-4M282.0 1009.4h-4M282.0 1006.3h-4M282.0 1003.5h-4M282.0 984.7h-4M282.0 975.2h-4M282.0 968.5h-4M282.0 963.3h-4M282.0 959.0h-4M282.0 955.4h-4M282.0 952.2h-4M282.0 949.5h-4M282.0 930.7h-4M282.0 921.2h-4M282.0 914.5h-4M282.0 909.3h-4M282.0 905.0h-4M282.0 1063.7h-4M282.0 1061.7h-4M282.0 1060.3h-4M282.0 1059.1h-4M282.0 1058.2h-4M282.0 1057.4h-4M282.0 1056.8h-4M282.0 1056.2h-4M282.0 1071.2h-4M282.0 1073.6h-4M282.0 1075.3h-4M282.0 1076.6h-4M282.0 1077.6h-4M282.0 1078.5h-4M282.0 1079.3h-4M282.0 1080.0h-4" fill="none" stroke="#222" stroke-width="1.1"/><path d="M282.0 1081.0h-7M282.0 1055.3h-7M282.0 1001.0h-7M282.0 947.0h-7M282.0 1065.9h-6M282.0 1067.2h-6M282.0 1068.5h-6" fill="none" stroke="#222" stroke-width="1.5"/><path d="M383.1 1117.6v4M393.3 1117.6v4M400.6 1117.6v4M406.2 1117.6v4M410.8 1117.6v4M414.7 1117.6v4M418.1 1117.6v4M421.0 1117.6v4M439.3 1117.6v4M448.5 1117.6v4M454.9 1117.6v4M460.0 1117.6v4M464.1 1117.6v4M467.6 1117.6v4M470.6 1117.6v4M473.2 1117.6v4M491.2 1117.6v4M340.3 1117.6v4M346.4 1117.6v4M350.7 1117.6v4M354.1 1117.6v4M356.8 1117.6v4M359.2 1117.6v4M361.2 1117.6v4M362.9 1117.6v4M319.7 1117.6v4M313.7 1117.6v4M309.4 1117.6v4M306.1 1117.6v4M303.4 1117.6v4M301.1 1117.6v4M299.2 1117.6v4M297.4 1117.6v4" fill="none" stroke="#222" stroke-width="1.1"/><path d="M294.8 1117.6v7M365.6 1117.6v7M423.7 1117.6v7M475.6 1117.6v7M328.6 1117.6v6M329.9 1117.6v6M331.2 1117.6v6" fill="none" stroke="#222" stroke-width="1.5"/><path d="M342.9 965.2 347.6 964.5 352.6 965.8 356.6 968.6 359.6 972.3 362.1 977.2 364.0 984.2 364.9 992.2 364.8 1000.2 364.0 1008.2 362.0 1018.2 359.2 1027.2 355.9 1034.2 351.8 1040.2 347.6 1044.2 342.6 1047.0 337.6 1047.8 333.6 1046.8 329.7 1044.2 326.6 1040.4 324.5 1036.2 322.8 1031.2 321.6 1024.2 321.2 1017.2 321.4 1008.2 322.2 1000.2 323.5 993.2 325.1 987.2 327.9 980.2 330.8 975.2 334.6 970.5 338.6 967.2 342.9 965.2M343.8 968.2 348.6 968.0 352.6 969.5 355.9 972.2 358.8 976.2 360.9 981.2 362.2 987.2 362.8 994.2 362.5 1002.2 361.2 1011.2 359.3 1019.2 356.8 1026.2 353.8 1032.2 350.6 1036.7 346.6 1040.5 342.6 1042.6 337.6 1043.3 333.6 1041.9 330.6 1039.5 328.2 1036.2 326.0 1031.2 324.5 1025.2 323.8 1019.2 323.9 1004.2 326.1 991.2 328.1 985.2 330.4 980.2 333.0 976.2 336.6 972.2 340.6 969.4 343.8 968.2M343.3 971.2 346.6 970.7 350.6 971.6 353.6 973.6 356.6 977.2 359.0 982.2 360.2 987.2 360.9 993.2 360.7 1000.2 359.9 1007.2 358.2 1015.2 355.9 1022.2 353.2 1028.2 349.8 1033.2 346.6 1036.4 342.6 1038.7 338.6 1039.3 335.6 1038.5 332.6 1036.5 330.0 1033.2 328.2 1029.2 326.8 1024.2 325.9 1018.2 325.8 1004.2 327.8 992.2 331.1 983.2 333.6 978.9 336.6 975.4 339.6 972.9 343.3 971.2M344.5 973.2 348.6 973.4 351.6 974.8 354.2 977.2 356.2 980.2 357.8 984.2 359.0 989.2 359.4 995.2 359.1 1001.2 358.1 1008.2 356.5 1015.2 354.4 1021.2 351.6 1026.9 348.6 1031.1 345.6 1033.9 341.6 1035.8 338.6 1036.0 335.6 1034.9 333.4 1033.2 331.2 1030.2 329.4 1026.2 328.2 1021.2 327.4 1015.2 327.5 1002.2 329.6 991.2 331.4 986.2 333.4 982.2 335.6 979.1 338.6 976.1 341.6 974.1 344.5 973.2M344.4 975.2 347.6 975.2 350.6 976.4 352.8 978.2 354.9 981.2 356.6 985.2 357.6 989.2 358.1 994.2 357.9 1000.2 357.2 1006.2 355.5 1013.2 353.5 1019.2 351.1 1024.2 348.6 1028.0 345.6 1031.0 342.6 1032.6 339.6 1033.1 336.6 1032.3 334.6 1030.8 332.6 1028.2 330.8 1024.2 329.5 1019.2 328.8 1014.2 328.8 1002.2 330.3 993.2 331.9 988.2 333.8 984.2 335.8 981.2 338.6 978.2 341.6 976.1 344.4 975.2M344.9 977.2 347.6 977.4 349.7 978.2 352.1 980.2 354.2 983.2 355.7 987.2 356.5 991.2 356.5 1001.2 354.3 1012.2 352.6 1017.2 350.2 1022.2 347.6 1025.9 344.6 1028.6 341.6 1029.9 339.6 1030.0 337.2 1029.2 334.9 1027.2 333.0 1024.2 331.8 1021.2 330.2 1012.2 330.2 1001.2 332.0 992.2 333.4 988.2 335.5 984.2 339.6 979.5 342.6 977.8 344.9 977.2M344.2 979.2 346.6 979.1 349.4 980.2 351.6 982.2 353.0 984.2 354.3 987.2 355.2 991.2 355.5 999.2 353.8 1009.2 352.2 1014.2 350.0 1019.2 347.6 1022.8 345.6 1025.0 342.6 1026.8 340.6 1027.1 338.6 1026.7 336.6 1025.4 334.8 1023.2 333.4 1020.2 331.6 1012.2 331.4 1002.2 332.9 993.2 335.6 986.6 339.6 981.6 341.6 980.2 344.2 979.2M343.4 981.2 345.6 980.9 347.6 981.3 349.6 982.5 351.9 985.2 354.0 991.2 354.3 999.2 352.6 1008.9 349.3 1017.2 346.6 1021.1 344.6 1023.0 342.6 1024.0 340.6 1024.3 337.6 1023.0 335.6 1020.5 334.5 1018.2 332.8 1011.2 332.5 1002.2 333.8 994.2 336.1 988.2 339.6 983.5 343.4 981.2M342.8 983.2 344.6 982.7 346.6 982.8 348.6 983.8 350.6 985.9 352.8 991.2 353.2 999.2 351.6 1008.1 348.6 1015.4 346.6 1018.3 344.6 1020.3 342.6 1021.3 340.6 1021.5 337.6 1019.7 335.2 1015.2 333.9 1009.2 333.6 1002.2 334.4 996.2 336.4 990.2 339.6 985.4 342.8 983.2M342.3 985.2 344.6 984.5 346.6 984.7 349.6 987.0 351.5 991.2 352.2 997.2 351.2 1005.2 348.6 1012.3 345.6 1016.7 343.6 1018.3 341.6 1018.8 339.6 1018.3 338.6 1017.5 336.6 1014.4 335.2 1009.2 334.7 1003.2 335.3 997.2 336.8 992.2 339.6 987.4 342.3 985.2M342.1 987.2 343.6 986.5 345.6 986.4 347.5 987.2 348.6 988.3 350.5 992.2 351.1 998.2 350.0 1005.2 347.6 1011.2 344.6 1014.9 341.6 1016.0 339.6 1015.2 337.5 1012.2 336.2 1007.2 335.9 1002.2 336.4 997.2 337.6 993.2 339.6 989.6 342.1 987.2M342.1 989.2 344.6 988.3 346.6 988.9 347.6 989.7 349.3 993.2 349.9 997.2 349.4 1002.2 347.6 1007.9 345.6 1011.1 342.6 1013.1 340.6 1012.7 338.6 1010.2 337.6 1007.2 337.1 1003.2 337.4 998.2 338.5 994.2 340.2 991.2 342.1 989.2M342.5 991.2 344.6 990.6 346.6 991.6 348.0 994.2 348.6 998.2 348.1 1002.2 346.6 1006.4 344.6 1009.1 342.6 1010.0 340.7 1009.2 339.6 1007.7 338.5 1002.2 338.6 999.2 339.6 995.3 340.6 993.2 342.5 991.2M342.5 994.2 344.6 993.5 345.6 994.2 346.6 996.1 346.9 998.2 346.6 1001.2 345.6 1004.0 344.6 1005.4 342.6 1006.3 341.6 1005.8 340.7 1004.2 340.2 1001.2 340.7 997.2 342.5 994.2" fill="none" stroke="#505050" stroke-width="0.7"/><path d="M317.4 991.8h2.9v2.9h-2.9zM366.7 1026.0h2.9v2.9h-2.9zM319.3 1026.3h2.9v2.9h-2.9zM352.7 1038.2h2.9v2.9h-2.9zM370.4 967.8h2.9v2.9h-2.9zM366.7 1002.9h2.9v2.9h-2.9zM353.6 1037.7h2.9v2.9h-2.9zM366.0 959.7h2.9v2.9h-2.9zM359.9 964.5h2.9v2.9h-2.9zM319.0 979.5h2.9v2.9h-2.9zM365.9 971.2h2.9v2.9h-2.9zM368.6 1023.3h2.9v2.9h-2.9zM319.9 1018.0h2.9v2.9h-2.9zM311.8 1019.3h2.9v2.9h-2.9zM355.3 1036.0h2.9v2.9h-2.9zM325.3 1034.9h2.9v2.9h-2.9zM324.3 967.8h2.9v2.9h-2.9zM314.6 1037.2h2.9v2.9h-2.9zM317.6 1019.5h2.9v2.9h-2.9zM315.6 983.8h2.9v2.9h-2.9zM318.3 979.9h2.9v2.9h-2.9zM362.7 1025.0h2.9v2.9h-2.9zM353.1 1042.1h2.9v2.9h-2.9zM335.8 1040.2h2.9v2.9h-2.9zM368.3 1019.6h2.9v2.9h-2.9zM311.6 1014.5h2.9v2.9h-2.9zM324.9 1029.4h2.9v2.9h-2.9zM369.1 1004.5h2.9v2.9h-2.9zM316.0 964.5h2.9v2.9h-2.9zM312.7 956.4h2.9v2.9h-2.9zM319.4 1023.7h2.9v2.9h-2.9zM324.8 1036.6h2.9v2.9h-2.9zM368.3 984.1h2.9v2.9h-2.9zM317.0 1009.7h2.9v2.9h-2.9zM367.5 1007.0h2.9v2.9h-2.9zM320.3 1025.6h2.9v2.9h-2.9zM369.3 983.1h2.9v2.9h-2.9zM324.5 967.0h2.9v2.9h-2.9zM314.8 1023.6h2.9v2.9h-2.9zM365.5 1028.0h2.9v2.9h-2.9zM319.7 1044.4h2.9v2.9h-2.9zM311.9 999.0h2.9v2.9h-2.9zM367.4 1017.4h2.9v2.9h-2.9zM324.1 1046.4h2.9v2.9h-2.9zM367.1 1033.0h2.9v2.9h-2.9zM354.3 1038.2h2.9v2.9h-2.9zM312.0 1007.3h2.9v2.9h-2.9zM316.4 985.9h2.9v2.9h-2.9zM317.1 1027.6h2.9v2.9h-2.9zM328.1 1038.6h2.9v2.9h-2.9zM358.4 1042.2h2.9v2.9h-2.9zM317.1 1027.1h2.9v2.9h-2.9zM355.7 1035.2h2.9v2.9h-2.9zM310.8 961.3h2.9v2.9h-2.9zM314.3 994.7h2.9v2.9h-2.9zM365.0 1024.7h2.9v2.9h-2.9zM314.0 1029.3h2.9v2.9h-2.9zM314.9 982.8h2.9v2.9h-2.9zM367.4 1013.2h2.9v2.9h-2.9zM329.2 1041.5h2.9v2.9h-2.9zM364.6 1020.9h2.9v2.9h-2.9zM317.8 1035.4h2.9v2.9h-2.9zM330.0 1042.7h2.9v2.9h-2.9zM322.7 1041.6h2.9v2.9h-2.9zM316.7 1036.3h2.9v2.9h-2.9zM344.7 1040.5h2.9v2.9h-2.9zM363.2 976.6h2.9v2.9h-2.9zM366.6 994.0h2.9v2.9h-2.9zM365.9 1011.4h2.9v2.9h-2.9zM322.2 1034.0h2.9v2.9h-2.9zM313.9 978.4h2.9v2.9h-2.9zM316.2 998.8h2.9v2.9h-2.9zM358.8 1040.4h2.9v2.9h-2.9zM309.5 993.1h2.9v2.9h-2.9zM309.9 997.5h2.9v2.9h-2.9zM327.2 961.3h2.9v2.9h-2.9zM346.0 1044.0h2.9v2.9h-2.9zM365.7 964.8h2.9v2.9h-2.9zM317.5 1030.2h2.9v2.9h-2.9zM310.2 983.0h2.9v2.9h-2.9zM321.7 1029.5h2.9v2.9h-2.9zM368.3 970.8h2.9v2.9h-2.9zM337.4 956.0h2.9v2.9h-2.9zM328.4 958.7h2.9v2.9h-2.9zM317.9 985.4h2.9v2.9h-2.9zM364.3 1036.4h2.9v2.9h-2.9zM324.2 1031.8h2.9v2.9h-2.9zM317.4 1016.9h2.9v2.9h-2.9zM315.8 1035.5h2.9v2.9h-2.9zM325.4 954.8h2.9v2.9h-2.9zM368.2 1023.5h2.9v2.9h-2.9zM348.5 1046.2h2.9v2.9h-2.9zM368.5 1004.6h2.9v2.9h-2.9zM366.6 1020.3h2.9v2.9h-2.9zM328.9 962.6h2.9v2.9h-2.9zM351.3 1038.9h2.9v2.9h-2.9zM316.9 1032.4h2.9v2.9h-2.9zM313.8 959.3h2.9v2.9h-2.9zM316.7 1010.0h2.9v2.9h-2.9zM320.0 970.4h2.9v2.9h-2.9zM342.1 1044.6h2.9v2.9h-2.9zM364.8 983.5h2.9v2.9h-2.9zM318.0 967.2h2.9v2.9h-2.9zM365.0 1016.6h2.9v2.9h-2.9zM357.3 960.6h2.9v2.9h-2.9zM318.0 1028.0h2.9v2.9h-2.9zM321.2 973.4h2.9v2.9h-2.9zM317.0 996.4h2.9v2.9h-2.9zM316.8 1023.4h2.9v2.9h-2.9zM320.7 1030.2h2.9v2.9h-2.9zM339.9 1044.7h2.9v2.9h-2.9zM316.6 954.0h2.9v2.9h-2.9zM365.4 1039.5h2.9v2.9h-2.9zM318.9 957.3h2.9v2.9h-2.9zM311.5 1035.8h2.9v2.9h-2.9zM342.4 1043.7h2.9v2.9h-2.9zM360.7 958.7h2.9v2.9h-2.9zM359.9 1034.3h2.9v2.9h-2.9zM331.3 1041.1h2.9v2.9h-2.9zM365.4 1015.7h2.9v2.9h-2.9zM369.4 1000.1h2.9v2.9h-2.9zM401.8 1016.7h2.9v2.9h-2.9zM369.8 1006.5h2.9v2.9h-2.9zM381.8 1035.1h2.9v2.9h-2.9zM383.0 1013.8h2.9v2.9h-2.9zM373.9 985.9h2.9v2.9h-2.9zM369.4 990.1h2.9v2.9h-2.9zM383.9 1001.3h2.9v2.9h-2.9zM399.3 967.0h2.9v2.9h-2.9zM378.5 985.7h2.9v2.9h-2.9zM373.7 1007.8h2.9v2.9h-2.9zM381.1 1023.7h2.9v2.9h-2.9zM392.0 984.0h2.9v2.9h-2.9zM389.0 1020.6h2.9v2.9h-2.9zM368.6 991.4h2.9v2.9h-2.9zM375.2 1000.9h2.9v2.9h-2.9zM407.4 993.4h2.9v2.9h-2.9zM374.5 1012.7h2.9v2.9h-2.9zM378.7 1019.0h2.9v2.9h-2.9zM373.6 1006.9h2.9v2.9h-2.9zM390.4 1016.8h2.9v2.9h-2.9zM393.4 1007.0h2.9v2.9h-2.9zM378.3 1009.9h2.9v2.9h-2.9zM407.3 1000.8h2.9v2.9h-2.9zM373.9 1024.8h2.9v2.9h-2.9zM370.1 1000.5h2.9v2.9h-2.9zM378.5 989.5h2.9v2.9h-2.9zM396.1 1006.6h2.9v2.9h-2.9zM380.9 1026.3h2.9v2.9h-2.9zM385.8 1002.8h2.9v2.9h-2.9zM377.3 1001.1h2.9v2.9h-2.9zM393.6 1019.2h2.9v2.9h-2.9zM383.7 1019.5h2.9v2.9h-2.9zM370.9 1013.8h2.9v2.9h-2.9zM379.8 1007.2h2.9v2.9h-2.9zM386.9 1003.4h2.9v2.9h-2.9zM375.0 1027.3h2.9v2.9h-2.9zM380.2 985.2h2.9v2.9h-2.9zM384.7 969.4h2.9v2.9h-2.9zM401.7 1000.1h2.9v2.9h-2.9zM292.6 978.5h2.9v2.9h-2.9zM327.6 1067.1h2.9v2.9h-2.9zM416.6 975.5h2.9v2.9h-2.9zM409.6 988.5h2.9v2.9h-2.9z" fill="#000"/><rect x="372.6" y="932.3" width="103.2" height="134.7" fill="none" stroke="#548235" stroke-width="3.2"/><text x="466" y="957.4" font-size="26" text-anchor="end" fill="#107a3c">0.15</text><line x1="22.3" y1="955" x2="22.3" y2="912.6" stroke="#000" stroke-width="2"/><path d="M22.3 902.6L16.3 914.6L22.3 911.6L28.3 914.6Z" fill="#000"/><text x="30.6" y="1118" font-size="26" transform="rotate(-90 30.6 1118)">CD4-BUV395</text><text x="51" y="1153" font-size="26">TNF-FITC</text><line x1="174" y1="1144.5" x2="254.5" y2="1144.5" stroke="#000" stroke-width="2"/><path d="M264.5 1144.5L252.5 1138.5L255.5 1144.5L252.5 1150.5Z" fill="#000"/><text x="282" y="1153" font-size="26">IFN-γ-APC</text><line x1="411" y1="1144.5" x2="486.8" y2="1144.5" stroke="#000" stroke-width="2"/><path d="M496.8 1144.5L484.8 1138.5L487.8 1144.5L484.8 1150.5Z" fill="#000"/><rect x="51" y="1202.9" width="215" height="215.5" fill="none" stroke="#444" stroke-width="1.2"/><line x1="51" y1="1202.9" x2="51" y2="1418.4" stroke="#222" stroke-width="1.4"/><line x1="51" y1="1418.4" x2="266" y2="1418.4" stroke="#222" stroke-width="1.4"/><path d="M51.0 1339.2h-4M51.0 1329.7h-4M51.0 1323.0h-4M51.0 1317.8h-4M51.0 1313.5h-4M51.0 1309.9h-4M51.0 1306.7h-4M51.0 1304.0h-4M51.0 1285.2h-4M51.0 1275.7h-4M51.0 1269.0h-4M51.0 1263.8h-4M51.0 1259.5h-4M51.0 1255.9h-4M51.0 1252.7h-4M51.0 1250.0h-4M51.0 1231.2h-4M51.0 1221.7h-4M51.0 1215.0h-4M51.0 1209.8h-4M51.0 1205.5h-4M51.0 1364.1h-4M51.0 1362.1h-4M51.0 1360.6h-4M51.0 1359.4h-4M51.0 1358.5h-4M51.0 1357.7h-4M51.0 1357.0h-4M51.0 1356.4h-4M51.0 1371.6h-4M51.0 1373.9h-4M51.0 1375.5h-4M51.0 1376.7h-4M51.0 1377.7h-4M51.0 1378.6h-4M51.0 1379.4h-4M51.0 1380.0h-4" fill="none" stroke="#222" stroke-width="1.1"/><path d="M51.0 1381.0h-7M51.0 1355.5h-7M51.0 1301.5h-7M51.0 1247.5h-7M51.0 1366.4h-6M51.0 1367.7h-6M51.0 1369.0h-6" fill="none" stroke="#222" stroke-width="1.5"/><path d="M152.5 1418.4v4M162.7 1418.4v4M170.0 1418.4v4M175.6 1418.4v4M180.2 1418.4v4M184.1 1418.4v4M187.5 1418.4v4M190.4 1418.4v4M208.7 1418.4v4M217.9 1418.4v4M224.3 1418.4v4M229.4 1418.4v4M233.5 1418.4v4M237.0 1418.4v4M240.0 1418.4v4M242.6 1418.4v4M260.6 1418.4v4M109.7 1418.4v4M115.8 1418.4v4M120.1 1418.4v4M123.5 1418.4v4M126.2 1418.4v4M128.6 1418.4v4M130.6 1418.4v4M132.3 1418.4v4M89.1 1418.4v4M83.1 1418.4v4M78.8 1418.4v4M75.5 1418.4v4M72.8 1418.4v4M70.5 1418.4v4M68.6 1418.4v4M66.8 1418.4v4" fill="none" stroke="#222" stroke-width="1.1"/><path d="M64.2 1418.4v7M135.0 1418.4v7M193.1 1418.4v7M245.0 1418.4v7M98.0 1418.4v6M99.3 1418.4v6M100.6 1418.4v6" fill="none" stroke="#222" stroke-width="1.5"/><path d="M190.6 1323.5h2.8v2.8h-2.8zM148.7 1337.4h2.8v2.8h-2.8zM201.0 1326.5h2.8v2.8h-2.8zM176.1 1260.7h2.8v2.8h-2.8zM199.0 1261.0h2.8v2.8h-2.8zM198.2 1257.2h2.8v2.8h-2.8zM109.3 1326.6h2.8v2.8h-2.8zM189.8 1271.9h2.8v2.8h-2.8zM168.8 1334.6h2.8v2.8h-2.8zM191.0 1268.4h2.8v2.8h-2.8zM180.2 1326.8h2.8v2.8h-2.8zM171.0 1334.1h2.8v2.8h-2.8zM204.0 1283.1h2.8v2.8h-2.8zM192.6 1268.8h2.8v2.8h-2.8zM196.6 1325.2h2.8v2.8h-2.8zM197.3 1279.0h2.8v2.8h-2.8zM150.1 1260.4h2.8v2.8h-2.8zM200.1 1296.0h2.8v2.8h-2.8zM196.6 1283.9h2.8v2.8h-2.8zM104.0 1268.1h2.8v2.8h-2.8zM105.1 1273.8h2.8v2.8h-2.8zM188.3 1334.6h2.8v2.8h-2.8zM155.5 1259.8h2.8v2.8h-2.8zM183.9 1335.8h2.8v2.8h-2.8zM196.9 1269.4h2.8v2.8h-2.8zM107.0 1271.8h2.8v2.8h-2.8zM203.8 1272.5h2.8v2.8h-2.8zM110.1 1334.2h2.8v2.8h-2.8zM167.6 1338.0h2.8v2.8h-2.8zM200.2 1275.9h2.8v2.8h-2.8zM168.7 1333.0h2.8v2.8h-2.8zM111.1 1327.3h2.8v2.8h-2.8zM185.5 1324.7h2.8v2.8h-2.8zM206.7 1287.0h2.8v2.8h-2.8zM199.0 1290.8h2.8v2.8h-2.8zM106.4 1278.9h2.8v2.8h-2.8zM125.5 1260.8h2.8v2.8h-2.8zM203.4 1266.8h2.8v2.8h-2.8zM190.1 1257.2h2.8v2.8h-2.8zM107.3 1333.7h2.8v2.8h-2.8zM200.4 1335.4h2.8v2.8h-2.8zM206.6 1297.8h2.8v2.8h-2.8zM199.8 1297.6h2.8v2.8h-2.8zM208.1 1267.3h2.8v2.8h-2.8zM188.2 1256.7h2.8v2.8h-2.8zM107.5 1268.8h2.8v2.8h-2.8zM106.5 1333.9h2.8v2.8h-2.8zM192.0 1256.9h2.8v2.8h-2.8zM204.9 1274.6h2.8v2.8h-2.8zM122.7 1337.5h2.8v2.8h-2.8zM166.9 1262.6h2.8v2.8h-2.8zM201.0 1322.7h2.8v2.8h-2.8zM165.7 1263.0h2.8v2.8h-2.8zM108.3 1273.5h2.8v2.8h-2.8zM128.4 1261.6h2.8v2.8h-2.8zM104.0 1279.9h2.8v2.8h-2.8zM189.1 1336.4h2.8v2.8h-2.8zM203.1 1292.6h2.8v2.8h-2.8zM200.9 1295.0h2.8v2.8h-2.8zM199.5 1266.3h2.8v2.8h-2.8zM192.3 1336.3h2.8v2.8h-2.8zM206.5 1271.5h2.8v2.8h-2.8zM202.5 1263.2h2.8v2.8h-2.8zM182.0 1326.1h2.8v2.8h-2.8zM205.8 1327.1h2.8v2.8h-2.8zM103.8 1311.9h2.8v2.8h-2.8zM121.4 1335.9h2.8v2.8h-2.8zM200.7 1280.6h2.8v2.8h-2.8zM194.9 1320.7h2.8v2.8h-2.8zM207.8 1310.5h2.8v2.8h-2.8zM170.8 1263.0h2.8v2.8h-2.8zM200.5 1268.7h2.8v2.8h-2.8zM195.1 1274.2h2.8v2.8h-2.8zM197.5 1285.4h2.8v2.8h-2.8zM206.2 1289.2h2.8v2.8h-2.8zM192.6 1262.0h2.8v2.8h-2.8zM193.9 1285.6h2.8v2.8h-2.8zM176.9 1257.5h2.8v2.8h-2.8zM204.3 1294.3h2.8v2.8h-2.8zM200.0 1268.3h2.8v2.8h-2.8zM101.5 1296.7h2.8v2.8h-2.8zM192.2 1319.8h2.8v2.8h-2.8zM177.5 1261.7h2.8v2.8h-2.8zM106.8 1319.7h2.8v2.8h-2.8zM204.6 1324.5h2.8v2.8h-2.8zM111.0 1275.5h2.8v2.8h-2.8zM195.5 1258.3h2.8v2.8h-2.8zM114.3 1332.8h2.8v2.8h-2.8zM191.2 1277.0h2.8v2.8h-2.8zM163.1 1334.9h2.8v2.8h-2.8zM197.4 1326.3h2.8v2.8h-2.8zM116.3 1330.5h2.8v2.8h-2.8zM104.8 1280.8h2.8v2.8h-2.8zM201.5 1305.8h2.8v2.8h-2.8zM111.8 1269.2h2.8v2.8h-2.8zM109.1 1331.0h2.8v2.8h-2.8zM189.8 1270.4h2.8v2.8h-2.8zM196.2 1301.0h2.8v2.8h-2.8zM103.6 1319.1h2.8v2.8h-2.8zM200.7 1267.8h2.8v2.8h-2.8zM191.1 1259.1h2.8v2.8h-2.8zM194.0 1314.6h2.8v2.8h-2.8zM124.4 1333.8h2.8v2.8h-2.8zM112.1 1264.8h2.8v2.8h-2.8zM102.7 1284.4h2.8v2.8h-2.8zM207.5 1280.6h2.8v2.8h-2.8zM104.6 1264.5h2.8v2.8h-2.8zM197.2 1288.7h2.8v2.8h-2.8zM181.9 1326.1h2.8v2.8h-2.8zM208.4 1321.1h2.8v2.8h-2.8zM192.2 1334.3h2.8v2.8h-2.8zM106.0 1273.6h2.8v2.8h-2.8zM179.4 1257.5h2.8v2.8h-2.8zM190.7 1337.3h2.8v2.8h-2.8zM188.2 1334.4h2.8v2.8h-2.8zM207.6 1283.5h2.8v2.8h-2.8zM172.7 1263.5h2.8v2.8h-2.8zM203.0 1260.5h2.8v2.8h-2.8zM101.4 1312.4h2.8v2.8h-2.8zM202.5 1267.0h2.8v2.8h-2.8zM188.1 1321.5h2.8v2.8h-2.8zM210.4 1269.2h2.8v2.8h-2.8zM208.4 1330.6h2.8v2.8h-2.8zM201.3 1289.4h2.8v2.8h-2.8zM202.8 1305.1h2.8v2.8h-2.8zM204.5 1318.6h2.8v2.8h-2.8zM120.5 1261.6h2.8v2.8h-2.8zM195.2 1324.5h2.8v2.8h-2.8zM205.1 1264.9h2.8v2.8h-2.8zM106.0 1318.7h2.8v2.8h-2.8zM199.7 1289.1h2.8v2.8h-2.8zM188.2 1267.0h2.8v2.8h-2.8zM202.7 1310.6h2.8v2.8h-2.8zM203.6 1262.5h2.8v2.8h-2.8zM102.1 1308.0h2.8v2.8h-2.8zM126.7 1336.3h2.8v2.8h-2.8zM204.0 1313.8h2.8v2.8h-2.8zM182.2 1271.3h2.8v2.8h-2.8zM201.1 1326.1h2.8v2.8h-2.8zM202.7 1335.5h2.8v2.8h-2.8zM202.9 1323.7h2.8v2.8h-2.8zM209.7 1273.5h2.8v2.8h-2.8zM196.7 1278.3h2.8v2.8h-2.8zM202.7 1261.5h2.8v2.8h-2.8zM188.5 1337.8h2.8v2.8h-2.8zM195.3 1291.8h2.8v2.8h-2.8zM189.8 1278.1h2.8v2.8h-2.8zM181.0 1327.6h2.8v2.8h-2.8zM105.9 1269.4h2.8v2.8h-2.8zM199.4 1313.2h2.8v2.8h-2.8zM197.6 1260.3h2.8v2.8h-2.8zM158.5 1256.6h2.8v2.8h-2.8zM201.7 1277.4h2.8v2.8h-2.8zM203.6 1273.3h2.8v2.8h-2.8zM182.3 1327.5h2.8v2.8h-2.8zM203.7 1271.3h2.8v2.8h-2.8zM205.4 1272.0h2.8v2.8h-2.8zM190.1 1278.4h2.8v2.8h-2.8zM113.2 1273.0h2.8v2.8h-2.8zM185.5 1263.4h2.8v2.8h-2.8zM195.4 1292.3h2.8v2.8h-2.8zM118.6 1260.9h2.8v2.8h-2.8zM115.5 1263.9h2.8v2.8h-2.8zM106.6 1335.2h2.8v2.8h-2.8zM200.5 1328.8h2.8v2.8h-2.8zM104.6 1336.0h2.8v2.8h-2.8zM186.5 1327.3h2.8v2.8h-2.8zM202.6 1331.0h2.8v2.8h-2.8zM196.7 1293.5h2.8v2.8h-2.8zM208.4 1314.3h2.8v2.8h-2.8zM111.6 1324.7h2.8v2.8h-2.8zM199.0 1277.6h2.8v2.8h-2.8zM207.2 1265.8h2.8v2.8h-2.8zM191.2 1264.9h2.8v2.8h-2.8zM188.8 1323.1h2.8v2.8h-2.8zM202.1 1269.0h2.8v2.8h-2.8zM207.0 1301.7h2.8v2.8h-2.8zM151.7 1259.5h2.8v2.8h-2.8zM207.3 1308.2h2.8v2.8h-2.8zM180.8 1259.1h2.8v2.8h-2.8zM203.6 1285.5h2.8v2.8h-2.8zM187.7 1273.9h2.8v2.8h-2.8zM202.3 1317.5h2.8v2.8h-2.8zM197.0 1316.8h2.8v2.8h-2.8zM199.6 1336.0h2.8v2.8h-2.8zM201.9 1301.4h2.8v2.8h-2.8zM203.7 1294.4h2.8v2.8h-2.8zM196.2 1290.3h2.8v2.8h-2.8zM183.6 1327.5h2.8v2.8h-2.8zM206.0 1282.9h2.8v2.8h-2.8zM184.7 1265.0h2.8v2.8h-2.8zM204.8 1261.9h2.8v2.8h-2.8zM158.3 1259.5h2.8v2.8h-2.8zM191.5 1278.9h2.8v2.8h-2.8zM200.9 1333.0h2.8v2.8h-2.8zM203.7 1292.4h2.8v2.8h-2.8zM107.3 1278.6h2.8v2.8h-2.8zM194.2 1270.8h2.8v2.8h-2.8zM209.8 1268.4h2.8v2.8h-2.8zM109.4 1325.7h2.8v2.8h-2.8zM200.5 1289.0h2.8v2.8h-2.8zM193.1 1320.4h2.8v2.8h-2.8zM103.2 1332.4h2.8v2.8h-2.8zM209.2 1310.3h2.8v2.8h-2.8zM196.9 1306.8h2.8v2.8h-2.8zM112.0 1268.4h2.8v2.8h-2.8zM157.0 1259.4h2.8v2.8h-2.8zM183.6 1337.1h2.8v2.8h-2.8zM208.0 1308.5h2.8v2.8h-2.8zM204.9 1299.0h2.8v2.8h-2.8zM119.6 1332.0h2.8v2.8h-2.8zM207.4 1276.1h2.8v2.8h-2.8zM186.1 1337.0h2.8v2.8h-2.8zM114.2 1335.6h2.8v2.8h-2.8zM208.1 1333.7h2.8v2.8h-2.8zM133.3 1337.3h2.8v2.8h-2.8zM144.1 1336.6h2.8v2.8h-2.8zM202.9 1298.4h2.8v2.8h-2.8zM203.1 1323.2h2.8v2.8h-2.8zM184.0 1269.5h2.8v2.8h-2.8zM207.2 1266.5h2.8v2.8h-2.8zM106.3 1272.4h2.8v2.8h-2.8zM192.8 1284.1h2.8v2.8h-2.8zM206.7 1294.3h2.8v2.8h-2.8zM164.0 1338.1h2.8v2.8h-2.8zM209.7 1316.9h2.8v2.8h-2.8zM155.4 1338.3h2.8v2.8h-2.8zM127.7 1334.7h2.8v2.8h-2.8zM181.8 1265.6h2.8v2.8h-2.8zM205.2 1330.1h2.8v2.8h-2.8zM182.8 1329.0h2.8v2.8h-2.8zM197.6 1326.5h2.8v2.8h-2.8zM198.4 1269.8h2.8v2.8h-2.8zM200.6 1260.3h2.8v2.8h-2.8zM194.6 1330.8h2.8v2.8h-2.8zM112.8 1263.0h2.8v2.8h-2.8zM201.7 1325.6h2.8v2.8h-2.8zM169.6 1335.5h2.8v2.8h-2.8zM173.5 1337.5h2.8v2.8h-2.8zM185.8 1322.6h2.8v2.8h-2.8zM199.8 1312.8h2.8v2.8h-2.8zM199.3 1274.3h2.8v2.8h-2.8zM207.2 1302.8h2.8v2.8h-2.8zM108.5 1329.2h2.8v2.8h-2.8zM194.2 1259.0h2.8v2.8h-2.8zM199.2 1287.1h2.8v2.8h-2.8zM179.9 1337.6h2.8v2.8h-2.8zM193.0 1285.9h2.8v2.8h-2.8zM119.5 1265.0h2.8v2.8h-2.8zM174.4 1260.0h2.8v2.8h-2.8zM104.7 1319.9h2.8v2.8h-2.8zM117.6 1331.8h2.8v2.8h-2.8zM107.4 1267.5h2.8v2.8h-2.8zM205.5 1300.9h2.8v2.8h-2.8zM190.9 1268.5h2.8v2.8h-2.8zM203.5 1305.4h2.8v2.8h-2.8zM101.3 1332.5h2.8v2.8h-2.8zM195.3 1333.1h2.8v2.8h-2.8zM201.8 1281.4h2.8v2.8h-2.8zM119.7 1263.4h2.8v2.8h-2.8z" fill="#7f7f7f"/><path d="M130.9 1265.4 135.8 1265.3 141.8 1266.1 165.8 1272.7 174.8 1276.7 178.7 1279.4 181.9 1282.4 185.1 1286.4 187.6 1291.4 188.9 1296.4 189.2 1301.4 188.3 1306.4 186.4 1311.4 183.8 1315.4 180.1 1319.4 173.8 1323.8 165.8 1327.1 157.8 1328.4 148.8 1328.1 139.8 1325.9 130.8 1321.9 122.8 1317.0 115.8 1310.9 111.1 1304.4 108.3 1297.4 107.5 1289.4 108.9 1282.4 112.0 1276.4 116.8 1271.1 119.8 1269.0 123.8 1267.1 130.9 1265.4M128.5 1268.4 135.8 1267.9 144.8 1269.7 167.8 1277.9 172.8 1280.6 176.8 1283.7 180.0 1287.4 182.4 1291.4 183.7 1295.4 184.2 1299.4 184.0 1303.4 182.9 1307.4 180.8 1311.4 177.8 1315.3 172.7 1319.4 165.8 1322.7 158.8 1324.2 150.8 1324.2 142.8 1322.6 133.8 1319.3 125.8 1315.1 118.8 1309.8 114.3 1304.4 111.4 1298.4 110.1 1291.4 110.8 1285.4 113.1 1279.4 117.0 1274.4 121.8 1270.9 128.5 1268.4M130.1 1270.4 136.8 1270.3 143.8 1272.0 165.8 1281.2 169.8 1283.4 173.6 1286.4 176.2 1289.4 177.9 1292.4 179.1 1295.4 179.7 1299.4 179.4 1303.4 178.5 1306.4 177.0 1309.4 174.7 1312.4 169.8 1316.5 163.8 1319.2 157.8 1320.5 150.8 1320.5 142.8 1318.9 131.8 1315.0 124.8 1311.3 119.8 1307.4 115.8 1302.4 113.5 1297.4 112.4 1291.4 113.1 1285.4 115.2 1280.4 119.3 1275.4 124.8 1271.9 130.1 1270.4M129.2 1272.4 135.8 1272.0 142.8 1273.7 163.8 1283.7 169.8 1287.7 173.7 1292.4 175.0 1295.4 175.7 1298.4 175.7 1301.4 175.1 1304.4 173.8 1307.4 171.6 1310.4 167.8 1313.7 162.8 1316.1 156.8 1317.4 150.8 1317.4 142.8 1316.0 132.8 1312.9 126.8 1310.1 121.8 1306.6 118.0 1302.4 115.4 1297.4 114.3 1292.4 114.7 1286.4 116.7 1281.4 119.8 1277.4 123.8 1274.4 129.2 1272.4M127.7 1274.4 130.8 1273.7 134.8 1273.5 141.8 1275.0 146.9 1277.4 161.8 1285.9 166.8 1289.3 170.3 1293.4 172.0 1298.4 171.6 1303.4 168.9 1308.4 165.4 1311.4 161.2 1313.4 156.8 1314.4 150.8 1314.6 142.8 1313.5 133.8 1311.2 127.8 1308.7 122.9 1305.4 119.3 1301.4 117.1 1297.4 116.0 1293.4 115.9 1288.4 117.4 1283.4 119.8 1279.6 123.5 1276.4 127.7 1274.4M130.2 1275.4 135.8 1275.2 142.8 1277.3 148.2 1280.4 162.8 1290.6 166.2 1294.4 167.7 1298.4 167.5 1302.4 165.3 1306.4 162.8 1308.6 158.8 1310.5 154.2 1311.4 148.8 1311.5 140.8 1310.6 133.8 1309.1 127.8 1306.7 123.8 1303.9 120.6 1300.4 118.4 1296.4 117.5 1292.4 117.7 1287.4 119.2 1283.4 122.2 1279.4 125.8 1276.9 130.2 1275.4M128.3 1277.4 133.8 1276.5 138.8 1277.4 143.8 1279.6 149.2 1283.4 158.5 1291.4 161.8 1295.4 162.8 1297.7 163.0 1300.4 162.5 1302.4 161.1 1304.4 158.6 1306.4 154.8 1307.8 149.8 1308.5 142.8 1308.5 137.8 1308.1 132.8 1307.0 128.8 1305.4 124.8 1302.8 121.8 1299.6 120.0 1296.4 119.0 1292.4 119.0 1288.4 120.3 1284.4 122.3 1281.4 124.8 1279.2 128.3 1277.4M129.8 1278.4 133.8 1277.9 138.8 1278.8 142.8 1280.7 147.6 1284.4 153.3 1290.4 156.7 1295.4 157.4 1297.4 157.5 1299.4 155.9 1302.4 152.8 1304.4 149.7 1305.4 144.8 1306.2 138.8 1306.3 134.8 1305.8 130.8 1304.7 127.8 1303.2 124.8 1300.9 122.7 1298.4 121.1 1295.4 120.4 1292.4 120.5 1288.4 121.8 1284.6 123.8 1281.9 126.8 1279.6 129.8 1278.4M131.5 1279.4 135.8 1279.4 139.8 1280.7 144.1 1283.4 148.0 1287.4 150.7 1291.4 152.3 1295.4 152.2 1298.4 150.0 1301.4 146.8 1303.1 143.8 1304.0 136.8 1304.5 132.8 1303.8 129.8 1302.7 126.8 1300.8 124.8 1298.9 123.1 1296.4 121.9 1293.4 121.6 1290.4 122.1 1287.4 123.5 1284.4 125.8 1281.9 128.8 1280.1 131.5 1279.4M129.3 1281.4 132.8 1280.6 136.8 1281.0 140.8 1282.8 144.0 1285.4 147.1 1289.4 148.7 1293.4 148.7 1296.4 147.2 1299.4 142.8 1302.0 136.8 1302.8 130.8 1301.6 126.2 1298.4 124.6 1296.4 123.3 1293.4 123.2 1288.4 125.2 1284.4 126.8 1282.8 129.3 1281.4M130.6 1282.4 133.8 1282.0 137.8 1282.8 140.8 1284.5 143.7 1287.4 145.4 1290.4 146.1 1293.4 145.7 1296.4 143.8 1298.8 139.8 1300.8 134.8 1301.1 129.8 1299.5 126.8 1297.1 124.8 1293.4 124.4 1290.4 124.7 1288.4 126.8 1284.7 130.6 1282.4M133.7 1283.4 136.8 1284.0 139.4 1285.4 141.5 1287.4 143.3 1290.4 143.8 1293.4 143.3 1295.4 141.8 1297.4 138.8 1299.1 134.8 1299.5 130.9 1298.4 128.2 1296.4 126.3 1293.4 126.0 1289.4 127.3 1286.4 129.8 1284.3 133.7 1283.4" fill="none" stroke="#a0a0a0" stroke-width="0.7"/><path d="M168.9 1269.2 175.0 1268.4 178.0 1268.8 181.0 1269.9 186.0 1273.2 190.9 1279.2 194.7 1287.2 196.9 1296.2 197.1 1304.2 195.4 1312.2 192.4 1318.2 188.4 1323.2 183.0 1327.5 177.0 1330.3 170.0 1332.1 162.0 1332.7 153.0 1331.9 146.0 1329.9 139.0 1326.4 133.6 1322.2 129.1 1317.2 117.9 1303.2 115.3 1298.2 114.0 1293.2 114.0 1288.2 115.3 1283.2 117.6 1279.2 121.0 1275.5 125.0 1272.8 130.0 1270.9 135.0 1270.1 139.0 1270.1 144.0 1270.8 153.0 1273.2 156.0 1273.4 160.0 1272.6 168.9 1269.2M134.9 1272.2 142.0 1272.6 153.0 1275.9 157.0 1276.4 161.0 1275.6 170.0 1272.4 175.0 1272.0 180.0 1273.2 185.0 1276.6 188.8 1281.2 191.4 1286.2 193.4 1292.2 194.3 1299.2 194.1 1305.2 192.6 1311.2 190.1 1316.2 187.0 1320.2 182.0 1324.5 176.0 1327.4 170.0 1329.0 162.0 1329.6 155.0 1329.0 148.0 1327.2 142.0 1324.3 136.6 1320.2 123.4 1306.2 120.1 1302.2 117.4 1297.2 116.2 1291.2 116.5 1287.2 117.4 1284.2 118.9 1281.2 121.4 1278.2 124.0 1276.0 128.0 1273.8 134.9 1272.2M133.5 1274.2 138.0 1274.0 142.0 1274.5 153.0 1278.4 156.0 1279.1 160.0 1278.8 169.0 1275.7 173.0 1275.0 178.0 1275.7 183.0 1278.6 186.0 1281.8 188.7 1286.2 190.6 1291.2 191.8 1297.2 191.8 1303.2 190.8 1308.2 188.8 1313.2 186.1 1317.2 182.0 1321.2 177.0 1324.1 172.0 1325.8 165.0 1326.8 158.0 1326.6 151.0 1325.2 145.0 1322.6 140.1 1319.2 123.0 1302.5 120.1 1298.2 118.4 1293.2 118.6 1287.2 119.6 1284.2 121.3 1281.2 124.0 1278.4 127.0 1276.4 130.0 1275.0 133.5 1274.2M131.2 1276.2 136.0 1275.4 141.0 1275.8 145.0 1277.0 153.0 1280.4 157.0 1281.3 161.0 1280.8 169.0 1278.1 173.0 1277.5 177.0 1278.0 181.0 1279.9 184.0 1282.7 186.4 1286.2 188.6 1291.2 189.7 1296.2 189.9 1301.2 189.3 1306.2 188.0 1310.2 185.8 1314.2 182.3 1318.2 178.0 1321.2 173.0 1323.3 167.0 1324.5 160.0 1324.6 154.0 1323.7 149.0 1322.0 144.0 1319.1 125.8 1303.2 122.5 1299.2 120.6 1295.2 119.9 1292.2 119.9 1289.2 120.5 1286.2 121.9 1283.2 126.0 1278.8 131.2 1276.2M132.4 1277.2 137.0 1276.6 142.0 1277.4 146.0 1278.8 153.0 1282.3 157.0 1283.3 161.0 1282.8 168.0 1280.5 172.0 1279.7 176.0 1279.9 180.0 1281.7 182.8 1284.2 185.0 1287.3 186.8 1291.2 188.0 1296.2 188.3 1301.2 187.7 1305.2 186.5 1309.2 184.3 1313.2 181.0 1316.9 177.0 1319.7 172.0 1321.7 167.0 1322.6 161.0 1322.8 156.0 1322.1 151.0 1320.6 146.0 1318.0 127.0 1302.3 124.2 1299.2 122.1 1295.2 121.3 1292.2 121.3 1289.2 122.9 1284.2 125.0 1281.4 127.0 1279.6 132.4 1277.2M133.9 1278.2 138.0 1278.0 142.0 1278.7 146.0 1280.3 153.0 1284.2 157.0 1285.3 161.0 1284.9 168.0 1282.7 172.0 1281.9 176.0 1282.3 179.0 1283.6 181.9 1286.2 183.9 1289.2 185.2 1292.2 186.2 1296.2 186.5 1300.2 186.1 1304.2 184.9 1308.2 183.0 1311.8 180.0 1315.2 176.0 1318.0 172.0 1319.7 167.0 1320.7 161.0 1320.8 156.0 1320.0 152.0 1318.7 147.4 1316.2 139.0 1309.2 128.0 1301.3 125.3 1298.2 123.2 1294.2 122.7 1289.2 124.5 1284.2 126.1 1282.2 128.6 1280.2 133.9 1278.2M135.4 1279.2 139.0 1279.3 143.0 1280.3 153.0 1286.2 156.0 1287.2 160.0 1287.1 168.0 1284.6 172.0 1283.9 175.0 1284.1 178.0 1285.4 180.0 1286.9 182.0 1289.4 183.4 1292.2 184.6 1296.2 184.6 1303.2 183.5 1307.2 182.0 1310.2 179.6 1313.2 176.0 1316.0 172.0 1317.8 168.0 1318.7 163.0 1319.0 158.0 1318.5 153.0 1316.9 149.0 1314.8 141.0 1308.2 129.0 1300.4 126.1 1297.2 124.6 1294.2 124.1 1289.2 124.9 1286.2 126.1 1284.2 130.0 1280.8 135.4 1279.2M131.9 1281.2 137.0 1280.3 142.0 1281.2 146.0 1283.2 153.0 1288.1 156.0 1289.2 160.0 1289.0 171.0 1285.9 174.0 1286.0 177.0 1287.0 179.0 1288.5 181.0 1291.0 183.0 1296.2 183.2 1302.2 181.3 1308.2 179.0 1311.4 176.0 1314.0 173.0 1315.6 169.0 1316.8 165.0 1317.3 160.0 1317.0 156.0 1316.0 152.0 1314.3 142.0 1306.6 131.0 1300.5 126.9 1296.2 125.4 1292.2 125.3 1289.2 125.8 1287.2 128.0 1283.8 131.9 1281.2M132.4 1282.2 137.0 1281.3 142.0 1282.4 146.0 1284.7 152.0 1289.7 156.0 1291.3 160.0 1290.9 170.0 1287.9 173.0 1287.8 176.0 1288.7 179.0 1291.2 181.4 1296.2 181.6 1302.2 180.0 1307.2 178.0 1310.1 175.7 1312.2 173.0 1313.8 169.0 1315.1 165.0 1315.6 161.0 1315.3 154.2 1313.2 144.0 1305.5 132.0 1299.7 128.4 1296.2 126.6 1292.2 126.8 1288.2 129.0 1284.5 132.4 1282.2M132.9 1283.2 137.0 1282.4 142.0 1283.6 146.0 1286.2 152.0 1292.2 155.0 1293.5 159.0 1293.2 170.0 1289.8 173.0 1289.8 175.0 1290.4 178.0 1292.9 179.9 1297.2 180.0 1302.2 178.7 1306.2 177.0 1308.8 175.0 1310.7 172.0 1312.4 169.0 1313.4 166.0 1313.8 162.0 1313.6 156.0 1311.8 153.0 1309.9 146.4 1304.2 135.0 1300.1 132.0 1298.3 129.8 1296.2 128.1 1293.2 127.8 1289.2 128.5 1287.2 129.9 1285.2 132.9 1283.2M133.5 1284.2 138.0 1283.6 142.6 1285.2 146.1 1288.2 151.0 1295.1 153.0 1296.3 155.0 1296.5 158.0 1295.8 169.0 1291.9 172.0 1291.7 174.0 1292.2 176.5 1294.2 178.1 1297.2 178.4 1301.2 177.3 1305.2 176.0 1307.3 174.0 1309.2 169.0 1311.5 163.0 1311.8 158.0 1310.3 154.8 1308.2 149.0 1301.9 137.0 1299.5 134.0 1298.2 131.4 1296.2 129.4 1293.2 129.0 1291.2 129.1 1289.2 130.6 1286.2 133.5 1284.2M134.3 1285.2 137.0 1284.7 139.0 1285.0 141.9 1286.2 144.0 1287.9 145.7 1290.2 147.0 1293.2 147.2 1295.2 146.3 1297.2 143.0 1298.6 139.0 1298.5 135.0 1297.3 132.2 1295.2 130.5 1292.2 130.5 1289.2 132.0 1286.6 134.3 1285.2M168.1 1294.2 172.0 1294.0 174.0 1295.0 175.2 1296.2 176.2 1298.2 176.5 1300.2 176.0 1303.2 175.1 1305.2 172.0 1308.2 168.0 1309.7 164.0 1309.8 159.5 1308.2 156.5 1305.2 155.8 1303.2 156.1 1301.2 159.4 1298.2 165.0 1295.3 168.1 1294.2M135.8 1286.2 138.0 1286.1 140.0 1286.7 143.1 1289.2 144.2 1291.2 144.5 1293.2 144.0 1295.0 143.0 1296.0 141.0 1296.8 138.0 1296.8 135.0 1295.7 133.0 1294.0 131.8 1291.2 132.0 1289.2 133.6 1287.2 135.8 1286.2M167.0 1297.2 170.0 1296.7 172.0 1297.2 173.6 1299.2 173.7 1302.2 172.8 1304.2 170.6 1306.2 168.0 1307.2 165.0 1307.1 163.0 1306.4 161.5 1305.2 160.9 1304.2 160.9 1302.2 163.3 1299.2 167.0 1297.2M135.4 1288.2 138.0 1287.9 140.6 1289.2 141.4 1290.2 142.0 1292.2 141.0 1294.2 138.0 1294.9 136.0 1294.3 134.7 1293.2 134.0 1292.2 133.8 1290.2 135.4 1288.2" fill="none" stroke="#5050d0" stroke-width="0.7"/><path d="M97.0 1368.0h2.8v2.8h-2.8z" fill="#7f7f7f"/><rect x="134.5" y="1218.4" width="112.9" height="176.8" fill="none" stroke="#000" stroke-width="1.1"/><text x="239.4" y="1362.6" font-size="26" text-anchor="end" fill="#1f5c99">73.3</text><text x="239.4" y="1386.8" font-size="26" text-anchor="end" fill="#8a8a8a">67.4</text><rect x="282" y="1202.9" width="215" height="215.5" fill="none" stroke="#444" stroke-width="1.2"/><line x1="282" y1="1202.9" x2="282" y2="1418.4" stroke="#222" stroke-width="1.4"/><line x1="282" y1="1418.4" x2="497" y2="1418.4" stroke="#222" stroke-width="1.4"/><path d="M282.0 1339.2h-4M282.0 1329.7h-4M282.0 1323.0h-4M282.0 1317.8h-4M282.0 1313.5h-4M282.0 1309.9h-4M282.0 1306.7h-4M282.0 1304.0h-4M282.0 1285.2h-4M282.0 1275.7h-4M282.0 1269.0h-4M282.0 1263.8h-4M282.0 1259.5h-4M282.0 1255.9h-4M282.0 1252.7h-4M282.0 1250.0h-4M282.0 1231.2h-4M282.0 1221.7h-4M282.0 1215.0h-4M282.0 1209.8h-4M282.0 1205.5h-4M282.0 1364.1h-4M282.0 1362.1h-4M282.0 1360.6h-4M282.0 1359.4h-4M282.0 1358.5h-4M282.0 1357.7h-4M282.0 1357.0h-4M282.0 1356.4h-4M282.0 1371.6h-4M282.0 1373.9h-4M282.0 1375.5h-4M282.0 1376.7h-4M282.0 1377.7h-4M282.0 1378.6h-4M282.0 1379.4h-4M282.0 1380.0h-4" fill="none" stroke="#222" stroke-width="1.1"/><path d="M282.0 1381.0h-7M282.0 1355.5h-7M282.0 1301.5h-7M282.0 1247.5h-7M282.0 1366.4h-6M282.0 1367.7h-6M282.0 1369.0h-6" fill="none" stroke="#222" stroke-width="1.5"/><path d="M383.1 1418.4v4M393.3 1418.4v4M400.6 1418.4v4M406.2 1418.4v4M410.8 1418.4v4M414.7 1418.4v4M418.1 1418.4v4M421.0 1418.4v4M439.3 1418.4v4M448.5 1418.4v4M454.9 1418.4v4M460.0 1418.4v4M464.1 1418.4v4M467.6 1418.4v4M470.6 1418.4v4M473.2 1418.4v4M491.2 1418.4v4M340.3 1418.4v4M346.4 1418.4v4M350.7 1418.4v4M354.1 1418.4v4M356.8 1418.4v4M359.2 1418.4v4M361.2 1418.4v4M362.9 1418.4v4M319.7 1418.4v4M313.7 1418.4v4M309.4 1418.4v4M306.1 1418.4v4M303.4 1418.4v4M301.1 1418.4v4M299.2 1418.4v4M297.4 1418.4v4" fill="none" stroke="#222" stroke-width="1.1"/><path d="M294.8 1418.4v7M365.6 1418.4v7M423.7 1418.4v7M475.6 1418.4v7M328.6 1418.4v6M329.9 1418.4v6M331.2 1418.4v6" fill="none" stroke="#222" stroke-width="1.5"/><path d="M439.2 1309.4h2.8v2.8h-2.8zM404.8 1266.1h2.8v2.8h-2.8zM421.2 1322.3h2.8v2.8h-2.8zM423.8 1292.4h2.8v2.8h-2.8zM398.9 1266.0h2.8v2.8h-2.8zM375.4 1331.0h2.8v2.8h-2.8zM437.3 1279.1h2.8v2.8h-2.8zM428.8 1286.4h2.8v2.8h-2.8zM363.5 1330.5h2.8v2.8h-2.8zM421.3 1331.7h2.8v2.8h-2.8zM422.8 1263.4h2.8v2.8h-2.8zM425.9 1309.3h2.8v2.8h-2.8zM425.9 1309.2h2.8v2.8h-2.8zM409.7 1324.3h2.8v2.8h-2.8zM426.3 1297.4h2.8v2.8h-2.8zM420.0 1272.6h2.8v2.8h-2.8zM435.4 1289.6h2.8v2.8h-2.8zM380.2 1266.2h2.8v2.8h-2.8zM394.4 1337.8h2.8v2.8h-2.8zM390.2 1329.7h2.8v2.8h-2.8zM357.7 1329.7h2.8v2.8h-2.8zM427.8 1322.2h2.8v2.8h-2.8zM434.7 1285.7h2.8v2.8h-2.8zM417.8 1331.8h2.8v2.8h-2.8zM419.9 1293.1h2.8v2.8h-2.8zM367.6 1262.7h2.8v2.8h-2.8zM423.6 1332.4h2.8v2.8h-2.8zM357.7 1333.7h2.8v2.8h-2.8zM362.5 1265.5h2.8v2.8h-2.8zM367.2 1334.1h2.8v2.8h-2.8zM429.0 1324.4h2.8v2.8h-2.8zM433.6 1292.2h2.8v2.8h-2.8zM426.2 1270.4h2.8v2.8h-2.8zM423.0 1269.0h2.8v2.8h-2.8zM385.0 1265.6h2.8v2.8h-2.8zM400.6 1330.0h2.8v2.8h-2.8zM435.3 1318.2h2.8v2.8h-2.8zM425.1 1277.4h2.8v2.8h-2.8zM402.2 1263.5h2.8v2.8h-2.8zM418.8 1285.2h2.8v2.8h-2.8zM397.9 1339.4h2.8v2.8h-2.8zM434.6 1296.2h2.8v2.8h-2.8zM417.5 1306.1h2.8v2.8h-2.8zM435.4 1285.5h2.8v2.8h-2.8zM371.2 1328.1h2.8v2.8h-2.8zM355.0 1263.0h2.8v2.8h-2.8zM405.1 1336.0h2.8v2.8h-2.8zM420.2 1304.6h2.8v2.8h-2.8zM422.3 1263.6h2.8v2.8h-2.8zM423.4 1333.8h2.8v2.8h-2.8zM421.5 1317.6h2.8v2.8h-2.8zM431.7 1316.0h2.8v2.8h-2.8zM404.5 1330.0h2.8v2.8h-2.8zM425.4 1302.3h2.8v2.8h-2.8zM416.6 1271.1h2.8v2.8h-2.8zM377.0 1326.9h2.8v2.8h-2.8zM363.9 1260.8h2.8v2.8h-2.8zM403.1 1328.1h2.8v2.8h-2.8zM421.0 1263.4h2.8v2.8h-2.8zM362.3 1327.9h2.8v2.8h-2.8zM398.2 1326.8h2.8v2.8h-2.8zM396.3 1332.4h2.8v2.8h-2.8zM433.3 1320.5h2.8v2.8h-2.8zM361.1 1326.9h2.8v2.8h-2.8zM419.1 1291.1h2.8v2.8h-2.8zM389.5 1331.5h2.8v2.8h-2.8zM372.8 1324.4h2.8v2.8h-2.8zM418.9 1324.0h2.8v2.8h-2.8zM418.3 1275.4h2.8v2.8h-2.8zM372.3 1262.1h2.8v2.8h-2.8zM426.0 1327.2h2.8v2.8h-2.8zM397.2 1264.4h2.8v2.8h-2.8zM425.9 1297.0h2.8v2.8h-2.8zM374.9 1257.9h2.8v2.8h-2.8zM425.6 1330.3h2.8v2.8h-2.8zM394.5 1259.3h2.8v2.8h-2.8zM427.9 1316.6h2.8v2.8h-2.8zM376.1 1264.7h2.8v2.8h-2.8zM372.3 1333.3h2.8v2.8h-2.8zM364.7 1263.4h2.8v2.8h-2.8zM414.8 1260.9h2.8v2.8h-2.8zM402.5 1256.9h2.8v2.8h-2.8zM422.1 1281.1h2.8v2.8h-2.8zM379.4 1338.1h2.8v2.8h-2.8zM439.7 1305.9h2.8v2.8h-2.8zM404.6 1324.6h2.8v2.8h-2.8zM353.5 1327.6h2.8v2.8h-2.8zM425.3 1293.0h2.8v2.8h-2.8zM432.5 1307.8h2.8v2.8h-2.8zM389.2 1256.8h2.8v2.8h-2.8zM427.8 1300.2h2.8v2.8h-2.8zM360.0 1335.7h2.8v2.8h-2.8zM424.4 1278.4h2.8v2.8h-2.8zM439.8 1314.7h2.8v2.8h-2.8zM365.2 1334.1h2.8v2.8h-2.8zM397.4 1259.9h2.8v2.8h-2.8zM420.4 1335.8h2.8v2.8h-2.8zM391.2 1333.5h2.8v2.8h-2.8zM364.3 1328.7h2.8v2.8h-2.8zM383.0 1256.9h2.8v2.8h-2.8zM356.0 1323.7h2.8v2.8h-2.8zM422.4 1328.9h2.8v2.8h-2.8zM350.2 1330.4h2.8v2.8h-2.8zM438.4 1302.6h2.8v2.8h-2.8zM428.5 1299.1h2.8v2.8h-2.8zM357.6 1333.8h2.8v2.8h-2.8zM396.3 1262.7h2.8v2.8h-2.8zM394.3 1325.0h2.8v2.8h-2.8zM422.5 1313.0h2.8v2.8h-2.8zM392.6 1257.2h2.8v2.8h-2.8zM399.8 1255.9h2.8v2.8h-2.8zM391.5 1256.5h2.8v2.8h-2.8zM433.2 1320.9h2.8v2.8h-2.8zM435.3 1286.3h2.8v2.8h-2.8zM436.5 1314.6h2.8v2.8h-2.8zM416.6 1333.7h2.8v2.8h-2.8zM422.9 1309.3h2.8v2.8h-2.8zM424.7 1285.3h2.8v2.8h-2.8zM429.4 1277.6h2.8v2.8h-2.8zM428.8 1268.8h2.8v2.8h-2.8zM388.1 1331.1h2.8v2.8h-2.8zM409.9 1334.9h2.8v2.8h-2.8zM389.7 1264.6h2.8v2.8h-2.8zM410.4 1259.1h2.8v2.8h-2.8zM388.8 1264.0h2.8v2.8h-2.8zM360.0 1334.8h2.8v2.8h-2.8zM390.7 1340.2h2.8v2.8h-2.8zM421.9 1313.1h2.8v2.8h-2.8zM346.9 1324.8h2.8v2.8h-2.8zM412.9 1328.2h2.8v2.8h-2.8zM429.7 1289.3h2.8v2.8h-2.8zM363.4 1265.1h2.8v2.8h-2.8zM417.9 1303.2h2.8v2.8h-2.8zM367.3 1332.9h2.8v2.8h-2.8zM429.4 1309.7h2.8v2.8h-2.8zM396.5 1325.7h2.8v2.8h-2.8zM426.2 1266.8h2.8v2.8h-2.8zM380.6 1340.0h2.8v2.8h-2.8zM431.0 1278.4h2.8v2.8h-2.8zM429.8 1280.4h2.8v2.8h-2.8zM369.7 1261.3h2.8v2.8h-2.8zM423.9 1307.0h2.8v2.8h-2.8zM366.9 1263.2h2.8v2.8h-2.8zM409.3 1263.8h2.8v2.8h-2.8zM372.1 1337.2h2.8v2.8h-2.8zM385.5 1264.2h2.8v2.8h-2.8zM392.4 1263.2h2.8v2.8h-2.8zM420.1 1317.9h2.8v2.8h-2.8zM404.9 1337.6h2.8v2.8h-2.8zM392.9 1333.6h2.8v2.8h-2.8z" fill="#6b6b6b"/><path d="M347.5 1266.8 351.2 1266.1 355.2 1266.4 364.2 1269.1 374.2 1271.1 378.2 1272.4 382.2 1274.4 385.4 1276.8 388.4 1279.8 391.2 1283.8 393.6 1288.8 395.1 1294.8 395.5 1300.8 394.6 1307.8 392.5 1313.8 389.5 1318.8 385.9 1322.8 381.2 1326.2 377.2 1328.0 372.2 1329.2 355.2 1330.9 351.2 1330.8 347.2 1329.8 343.2 1327.4 340.2 1324.5 337.6 1320.8 334.5 1313.8 332.6 1305.8 332.1 1297.8 332.9 1288.8 335.5 1279.8 338.8 1273.8 343.2 1269.1 347.5 1266.8M348.5 1269.8 351.2 1269.4 355.2 1269.8 366.2 1273.8 376.2 1276.4 382.2 1279.8 385.2 1282.7 387.5 1285.8 389.5 1289.8 391.0 1294.8 391.5 1299.8 390.8 1305.8 389.3 1310.8 387.1 1314.8 384.2 1318.4 380.2 1321.6 377.2 1323.1 373.2 1324.4 356.2 1327.3 352.2 1327.5 348.2 1326.8 345.2 1325.3 342.2 1322.8 339.2 1318.8 336.4 1312.8 334.6 1305.8 334.0 1297.8 334.7 1289.8 336.6 1282.8 339.7 1276.8 344.2 1271.9 348.5 1269.8M348.0 1272.8 351.2 1272.2 355.2 1272.7 366.2 1277.6 375.2 1280.5 380.2 1283.5 384.0 1287.8 386.1 1291.8 387.3 1295.8 387.6 1299.8 387.3 1303.8 386.3 1307.8 384.3 1311.8 382.0 1314.8 379.2 1317.2 373.2 1320.1 353.2 1324.6 349.2 1324.2 346.2 1322.9 343.5 1320.8 341.2 1318.1 338.3 1312.8 336.5 1306.8 335.7 1299.8 336.1 1291.8 337.5 1285.8 340.2 1279.8 344.2 1275.0 348.0 1272.8M348.9 1274.8 353.2 1274.6 357.2 1275.9 366.2 1280.9 376.2 1285.1 379.2 1287.5 381.2 1289.8 382.8 1292.8 383.8 1295.8 384.2 1298.8 384.1 1302.8 382.0 1308.8 379.9 1311.8 377.2 1314.2 372.2 1316.6 365.2 1318.5 357.2 1321.5 353.2 1322.3 350.2 1322.1 347.2 1321.1 344.2 1318.9 342.2 1316.6 339.5 1311.8 337.7 1305.8 337.0 1298.8 337.5 1291.8 339.0 1285.8 341.5 1280.8 345.2 1276.7 348.9 1274.8M348.8 1276.8 352.2 1276.4 356.2 1277.5 366.2 1283.9 375.2 1288.7 377.5 1290.8 379.2 1293.2 380.3 1295.8 380.9 1298.8 380.7 1302.8 379.7 1305.8 378.2 1308.4 375.8 1310.8 372.4 1312.8 365.2 1315.6 358.2 1318.9 353.2 1320.3 350.2 1320.2 348.2 1319.6 345.2 1317.6 343.2 1315.5 340.1 1309.8 338.3 1301.8 338.4 1293.8 340.4 1285.8 342.2 1282.3 344.2 1279.7 346.2 1278.0 348.8 1276.8M348.8 1278.8 351.2 1278.4 354.2 1278.8 359.2 1281.6 373.4 1292.8 375.6 1295.8 376.5 1298.8 376.4 1301.8 375.7 1303.8 374.5 1305.8 372.5 1307.8 358.2 1316.5 353.2 1318.2 350.2 1318.1 348.2 1317.5 344.2 1314.3 341.1 1308.8 339.5 1301.8 339.6 1293.8 341.4 1286.8 344.5 1281.8 346.2 1280.2 348.8 1278.8M348.5 1280.8 351.2 1280.2 353.2 1280.4 358.2 1283.1 362.1 1286.8 368.0 1293.8 369.9 1296.8 370.5 1298.8 370.5 1300.8 369.9 1302.8 366.8 1306.8 358.9 1313.8 356.2 1315.4 353.2 1316.4 349.2 1316.0 347.2 1315.0 345.2 1313.3 342.2 1308.3 340.6 1301.8 340.5 1294.8 341.9 1288.8 344.6 1283.8 346.2 1282.2 348.5 1280.8M348.0 1282.8 350.2 1282.0 353.2 1282.2 357.7 1284.8 362.7 1290.8 364.8 1294.8 365.7 1297.8 365.7 1300.8 365.2 1302.8 362.4 1307.8 358.2 1312.1 355.5 1313.8 353.2 1314.6 349.2 1314.3 346.2 1312.3 343.2 1307.8 341.8 1302.8 341.4 1296.8 342.4 1290.8 344.8 1285.8 348.0 1282.8M349.8 1283.8 353.2 1283.9 355.2 1284.8 357.6 1286.8 361.2 1291.8 363.1 1297.8 362.6 1302.8 360.0 1307.8 356.2 1311.5 352.2 1313.0 349.2 1312.5 345.8 1309.8 343.6 1305.8 342.4 1299.8 342.7 1293.8 344.2 1289.1 346.5 1285.8 349.8 1283.8M348.9 1285.8 352.2 1285.3 354.2 1286.0 356.2 1287.5 359.4 1291.8 361.0 1296.8 360.9 1301.8 359.3 1305.8 356.2 1309.5 354.2 1310.8 352.2 1311.3 349.2 1310.8 346.6 1308.8 344.4 1304.8 343.5 1300.8 343.4 1295.8 344.3 1291.8 346.2 1288.1 348.9 1285.8M348.5 1287.8 350.2 1287.0 352.2 1287.0 355.2 1288.6 357.7 1291.8 359.4 1296.8 359.4 1300.8 358.0 1304.8 355.2 1308.3 352.2 1309.6 349.2 1309.1 347.2 1307.4 345.6 1304.8 344.5 1300.8 344.4 1296.8 345.1 1292.8 346.6 1289.8 348.5 1287.8M350.6 1288.8 353.2 1289.2 355.2 1290.8 357.0 1293.8 358.0 1297.8 357.6 1301.8 356.2 1304.8 354.2 1306.9 352.2 1307.8 350.2 1307.7 347.7 1305.8 346.2 1303.1 345.5 1299.8 345.6 1295.8 346.4 1292.8 348.2 1290.0 350.6 1288.8" fill="none" stroke="#a8a8a8" stroke-width="0.7"/><path d="M399.9 1264.0 404.0 1263.8 408.0 1264.3 412.0 1265.4 416.0 1267.3 419.8 1270.0 422.8 1273.0 425.7 1277.0 427.8 1281.0 433.8 1295.0 435.5 1301.0 436.4 1307.0 436.6 1313.0 436.1 1319.0 434.6 1326.0 432.6 1331.0 430.0 1335.3 427.0 1338.4 424.0 1340.3 421.0 1341.1 418.0 1340.9 415.0 1339.8 407.0 1333.6 404.0 1332.5 402.0 1332.9 392.0 1337.4 383.0 1339.3 378.0 1339.3 373.0 1338.7 368.0 1337.4 364.0 1335.7 361.0 1333.9 357.7 1331.0 355.6 1328.0 354.1 1324.0 354.1 1320.0 355.0 1317.0 356.7 1314.0 361.2 1308.0 361.7 1306.0 361.0 1304.0 355.9 1296.0 353.7 1289.0 353.4 1285.0 353.7 1281.0 355.9 1274.0 358.0 1270.6 361.0 1267.5 364.0 1265.6 367.0 1264.5 370.0 1264.2 373.0 1264.5 376.0 1265.4 382.0 1268.3 385.0 1268.8 388.0 1268.0 395.0 1265.1 399.9 1264.0M400.5 1266.0 404.0 1265.9 408.0 1266.4 412.0 1267.6 415.0 1269.2 420.7 1274.0 423.5 1278.0 425.6 1282.0 432.1 1297.0 434.4 1307.0 434.6 1313.0 434.2 1318.0 432.9 1324.0 431.0 1329.0 429.0 1332.2 426.4 1335.0 424.0 1336.7 421.0 1337.6 418.0 1337.4 415.0 1336.2 407.0 1329.3 405.0 1328.4 402.0 1329.2 397.0 1332.7 393.0 1334.8 385.0 1337.1 380.0 1337.5 375.0 1337.1 371.0 1336.3 366.0 1334.3 362.3 1332.0 359.3 1329.0 357.6 1326.0 356.8 1323.0 357.2 1319.0 358.5 1316.0 360.7 1313.0 365.5 1308.0 366.5 1306.0 365.5 1304.0 361.0 1299.7 359.0 1297.2 356.2 1291.0 355.4 1287.0 355.4 1283.0 356.2 1279.0 357.7 1275.0 359.7 1272.0 362.0 1269.7 365.0 1267.8 368.0 1266.9 371.0 1266.7 374.0 1267.3 382.0 1271.4 384.0 1271.9 387.0 1271.3 395.0 1267.3 400.5 1266.0M383.0 1297.9 380.6 1300.0 379.1 1302.0 378.9 1303.0 379.3 1304.0 381.0 1305.0 391.0 1307.7 400.0 1311.7 401.0 1311.8 402.4 1311.0 403.2 1309.0 403.1 1307.0 402.0 1305.0 400.8 1304.0 387.0 1297.5 385.0 1297.2 383.0 1297.9M399.2 1268.0 406.0 1267.8 409.0 1268.5 413.0 1270.2 418.0 1274.0 422.2 1280.0 430.3 1298.0 432.4 1306.0 432.9 1311.0 432.6 1317.0 431.5 1322.0 430.0 1326.2 427.7 1330.0 425.0 1332.8 422.0 1334.3 418.0 1334.3 415.0 1333.0 412.0 1330.5 404.0 1320.4 401.4 1325.0 398.2 1329.0 394.4 1332.0 390.0 1334.1 385.0 1335.4 379.0 1335.8 374.0 1335.2 368.0 1333.3 364.3 1331.0 361.3 1328.0 359.8 1325.0 359.3 1322.0 359.7 1319.0 361.2 1316.0 363.8 1313.0 367.0 1310.4 371.0 1308.2 375.0 1307.2 380.0 1307.5 387.0 1308.7 392.0 1310.5 395.0 1312.1 398.9 1315.0 403.0 1319.2 404.0 1319.6 405.8 1312.0 406.0 1307.0 404.9 1304.0 403.0 1302.3 394.0 1298.6 386.0 1294.0 383.0 1294.4 376.0 1300.2 373.0 1301.7 369.0 1301.9 365.0 1300.2 360.6 1296.0 358.8 1293.0 357.8 1290.0 357.2 1287.0 357.2 1283.0 358.8 1277.0 360.6 1274.0 363.0 1271.5 365.0 1270.2 368.0 1269.1 371.0 1268.9 374.0 1269.6 382.0 1274.4 384.0 1275.0 387.0 1274.1 394.0 1269.7 399.2 1268.0M397.2 1270.0 402.0 1269.1 407.0 1269.5 412.0 1271.3 415.8 1274.0 418.5 1277.0 420.4 1280.0 424.1 1289.0 428.5 1298.0 430.3 1303.0 431.2 1308.0 431.4 1313.0 430.9 1318.0 429.5 1323.0 428.0 1326.3 426.0 1329.0 423.0 1331.3 420.0 1332.1 417.0 1331.4 413.5 1329.0 410.4 1325.0 408.5 1321.0 407.8 1318.0 407.6 1305.0 406.9 1303.0 405.0 1301.1 395.0 1297.3 387.0 1291.7 385.0 1290.7 383.0 1291.2 375.0 1298.3 371.0 1299.6 368.0 1299.4 365.0 1298.0 362.0 1295.2 360.0 1292.0 358.7 1287.0 359.0 1281.0 361.1 1276.0 363.0 1273.7 365.0 1272.1 369.0 1270.7 373.0 1271.1 376.0 1272.5 382.0 1277.3 384.0 1278.1 386.0 1277.5 393.0 1272.0 397.2 1270.0M372.2 1310.0 377.0 1309.1 383.0 1309.4 388.0 1310.6 393.0 1312.9 396.8 1316.0 398.8 1319.0 399.3 1322.0 398.0 1326.0 395.6 1329.0 392.0 1331.6 388.0 1333.3 384.0 1334.2 379.0 1334.5 375.0 1334.0 371.0 1332.9 367.1 1331.0 364.5 1329.0 362.3 1326.0 361.3 1323.0 361.5 1320.0 362.8 1317.0 365.3 1314.0 369.0 1311.4 372.2 1310.0M398.1 1271.0 402.0 1270.3 407.0 1270.7 411.0 1272.2 415.0 1275.0 418.7 1280.0 423.0 1291.0 428.0 1300.6 429.4 1305.0 430.0 1309.0 430.1 1314.0 429.6 1318.0 428.4 1322.0 426.9 1325.0 425.0 1327.5 422.0 1329.5 419.0 1329.8 416.0 1328.6 413.2 1326.0 411.3 1323.0 409.5 1317.0 409.2 1304.0 407.8 1301.0 406.0 1299.7 398.0 1297.2 393.6 1295.0 390.0 1292.0 385.0 1286.0 384.0 1285.5 379.5 1292.0 376.8 1295.0 374.0 1297.0 372.0 1297.7 369.0 1297.8 366.0 1296.8 363.0 1294.2 361.1 1291.0 359.9 1286.0 360.4 1281.0 362.8 1276.0 366.0 1273.3 370.0 1272.3 373.0 1272.7 375.0 1273.7 378.9 1277.0 384.0 1283.4 385.0 1282.7 388.3 1278.0 391.1 1275.0 394.0 1272.8 398.1 1271.0M374.0 1311.0 379.0 1310.4 384.0 1310.9 389.0 1312.3 393.0 1314.6 396.1 1318.0 397.2 1321.0 396.9 1324.0 395.3 1327.0 393.0 1329.3 390.0 1331.1 386.0 1332.6 382.0 1333.2 378.0 1333.2 374.0 1332.6 370.0 1331.1 367.0 1329.3 364.8 1327.0 363.3 1324.0 363.1 1321.0 363.6 1319.0 365.5 1316.0 367.6 1314.0 371.0 1312.0 374.0 1311.0M399.3 1272.0 404.0 1271.5 408.0 1272.3 412.0 1274.3 415.0 1277.0 418.0 1282.0 421.0 1292.0 426.8 1302.0 428.6 1309.0 428.8 1313.0 428.3 1317.0 426.0 1323.2 424.0 1325.7 422.0 1327.0 420.0 1327.4 417.0 1326.6 414.1 1324.0 412.4 1321.0 411.1 1316.0 411.0 1303.0 410.0 1300.0 407.0 1298.2 399.0 1296.2 395.0 1294.3 391.1 1291.0 388.6 1287.0 388.2 1283.0 388.7 1281.0 390.4 1278.0 394.0 1274.4 399.3 1272.0M369.8 1274.0 373.0 1274.5 376.6 1277.0 379.4 1281.0 380.2 1285.0 379.2 1289.0 376.5 1293.0 373.0 1295.5 370.0 1296.1 367.0 1295.4 364.0 1293.0 361.8 1289.0 361.2 1285.0 361.8 1281.0 364.0 1277.0 367.0 1274.7 369.8 1274.0M376.2 1312.0 381.0 1311.8 385.0 1312.4 389.0 1313.8 392.3 1316.0 394.0 1318.0 395.2 1321.0 394.9 1324.0 393.2 1327.0 390.9 1329.0 388.0 1330.6 385.0 1331.5 381.0 1332.1 374.0 1331.3 370.8 1330.0 367.8 1328.0 366.1 1326.0 365.2 1324.0 364.9 1322.0 365.5 1319.0 367.7 1316.0 370.0 1314.2 373.0 1312.8 376.2 1312.0M400.1 1273.0 404.0 1272.7 408.0 1273.5 411.0 1275.1 414.2 1278.0 416.1 1281.0 417.2 1284.0 419.0 1294.0 424.0 1300.2 426.0 1304.0 427.4 1310.0 427.1 1316.0 425.0 1321.7 422.0 1324.6 419.0 1325.0 417.0 1324.2 415.0 1322.2 413.4 1319.0 412.6 1316.0 412.3 1312.0 413.1 1301.0 412.0 1298.2 409.8 1297.0 401.0 1295.5 397.0 1294.1 392.9 1291.0 390.4 1287.0 389.9 1283.0 391.4 1279.0 395.0 1275.2 400.1 1273.0M368.0 1276.0 371.0 1275.7 374.0 1276.9 376.9 1280.0 378.1 1283.0 378.3 1286.0 376.9 1290.0 374.0 1293.1 371.0 1294.3 368.0 1294.0 366.0 1292.9 364.0 1290.5 362.7 1287.0 362.7 1283.0 363.7 1280.0 366.0 1277.1 368.0 1276.0M378.2 1313.0 385.0 1313.6 388.4 1315.0 391.2 1317.0 392.7 1319.0 393.5 1322.0 392.7 1325.0 391.0 1327.1 389.0 1328.6 386.0 1330.0 380.0 1331.0 374.0 1330.0 371.0 1328.6 368.9 1327.0 367.3 1325.0 366.6 1323.0 366.9 1320.0 367.9 1318.0 369.9 1316.0 372.0 1314.6 375.0 1313.5 378.2 1313.0M400.6 1274.0 404.0 1273.8 408.0 1274.7 411.7 1277.0 414.0 1279.7 415.5 1283.0 416.1 1287.0 415.7 1291.0 415.0 1292.9 414.0 1294.0 412.0 1294.8 409.0 1295.0 401.0 1294.4 396.0 1292.2 392.9 1289.0 391.4 1285.0 391.6 1282.0 392.3 1280.0 393.7 1278.0 395.9 1276.0 400.6 1274.0M367.6 1278.0 370.0 1277.3 373.0 1278.2 375.0 1280.0 376.4 1283.0 376.6 1286.0 375.6 1289.0 374.0 1291.1 371.0 1292.6 369.0 1292.5 367.0 1291.6 365.0 1289.3 364.1 1287.0 364.0 1284.0 364.4 1282.0 366.0 1279.3 367.6 1278.0M416.7 1300.0 418.0 1299.2 419.0 1299.3 422.0 1301.0 424.2 1304.0 425.8 1309.0 426.0 1314.0 425.0 1318.0 423.0 1321.3 420.0 1322.7 418.0 1322.2 416.0 1320.4 414.7 1318.0 413.9 1315.0 413.7 1311.0 414.1 1307.0 415.1 1303.0 416.7 1300.0M374.3 1315.0 378.0 1314.2 381.0 1314.1 385.0 1314.9 388.0 1316.2 390.2 1318.0 391.4 1320.0 391.7 1323.0 390.9 1325.0 387.6 1328.0 383.0 1329.6 377.0 1329.6 372.0 1327.8 369.1 1325.0 368.3 1323.0 368.3 1321.0 370.0 1317.8 372.0 1316.1 374.3 1315.0M401.0 1275.0 405.0 1275.0 408.0 1275.9 411.0 1277.9 412.8 1280.0 414.2 1283.0 414.6 1287.0 413.9 1290.0 412.0 1292.2 408.0 1293.6 402.0 1293.5 397.0 1291.5 394.0 1288.5 392.9 1286.0 392.6 1284.0 393.7 1280.0 397.0 1276.6 401.0 1275.0M367.8 1280.0 370.0 1279.2 372.0 1279.7 373.6 1281.0 374.7 1283.0 374.9 1286.0 374.2 1288.0 373.0 1289.6 371.0 1290.7 368.0 1290.1 366.8 1289.0 365.7 1287.0 365.7 1283.0 367.8 1280.0M417.5 1304.0 419.0 1303.0 420.0 1303.1 422.0 1304.3 423.6 1307.0 424.4 1310.0 424.4 1314.0 423.5 1317.0 422.0 1319.2 420.0 1320.1 418.0 1319.4 417.0 1318.3 415.4 1314.0 415.7 1308.0 417.5 1304.0M375.2 1316.0 378.0 1315.3 381.0 1315.2 384.0 1315.8 386.8 1317.0 389.7 1320.0 390.1 1322.0 389.7 1324.0 387.0 1326.9 383.0 1328.4 378.0 1328.6 373.2 1327.0 370.3 1324.0 370.0 1321.0 371.8 1318.0 375.2 1316.0M401.4 1276.0 405.0 1276.0 407.8 1277.0 410.0 1278.5 412.0 1281.0 413.1 1284.0 413.1 1287.0 412.0 1289.6 410.0 1291.4 406.0 1292.5 401.0 1292.1 398.0 1290.9 395.0 1287.9 393.9 1284.0 394.5 1281.0 397.0 1277.9 399.0 1276.7 401.4 1276.0M369.0 1282.0 371.0 1281.9 372.0 1282.6 372.7 1284.0 372.7 1286.0 372.0 1287.4 371.0 1288.1 369.0 1288.0 367.6 1286.0 367.6 1284.0 369.0 1282.0M418.3 1308.0 420.0 1307.0 421.0 1307.5 422.3 1310.0 422.5 1312.0 422.0 1314.8 421.0 1316.2 420.0 1316.5 419.0 1316.3 418.0 1315.1 417.4 1313.0 417.5 1310.0 418.3 1308.0M376.1 1317.0 381.0 1316.4 383.8 1317.0 385.8 1318.0 387.1 1319.0 388.2 1321.0 387.8 1324.0 385.8 1326.0 382.0 1327.4 378.0 1327.4 374.2 1326.0 372.2 1324.0 371.7 1321.0 373.0 1318.9 376.1 1317.0M401.9 1277.0 405.0 1277.1 407.4 1278.0 409.9 1280.0 411.2 1282.0 411.8 1285.0 411.6 1287.0 410.5 1289.0 408.0 1290.8 405.0 1291.4 401.0 1291.0 398.0 1289.5 395.8 1287.0 395.1 1284.0 396.0 1280.8 398.9 1278.0 401.9 1277.0M377.7 1318.0 381.0 1317.8 384.5 1319.0 386.2 1321.0 386.2 1323.0 385.6 1324.0 384.0 1325.3 381.0 1326.2 378.0 1326.1 375.5 1325.0 373.8 1323.0 373.8 1321.0 375.4 1319.0 377.7 1318.0M399.5 1279.0 402.0 1278.1 404.0 1278.1 406.0 1278.6 408.2 1280.0 409.7 1282.0 410.4 1284.0 410.3 1286.0 409.0 1288.3 407.0 1289.7 404.0 1290.3 401.0 1289.8 398.1 1288.0 396.8 1286.0 396.5 1283.0 397.3 1281.0 399.5 1279.0M377.6 1320.0 380.0 1319.5 382.4 1320.0 383.5 1321.0 383.8 1322.0 383.5 1323.0 381.0 1324.4 377.7 1324.0 376.5 1323.0 376.2 1322.0 376.5 1321.0 377.6 1320.0M400.4 1280.0 403.0 1279.3 405.0 1279.6 408.0 1281.8 408.8 1285.0 408.1 1287.0 407.0 1288.0 405.0 1288.8 403.0 1288.9 401.0 1288.4 399.0 1287.0 397.9 1285.0 398.0 1283.0 399.0 1281.1 400.4 1280.0M402.5 1281.0 405.0 1281.4 406.6 1283.0 406.9 1285.0 406.4 1286.0 405.0 1287.1 402.0 1287.1 400.4 1286.0 399.8 1285.0 400.0 1282.7 401.0 1281.6 402.5 1281.0" fill="none" stroke="#3ca03c" stroke-width="0.7"/><path d="M327.6 1368.0h2.8v2.8h-2.8z" fill="#2a9a2a"/><rect x="365" y="1218.4" width="113" height="176.8" fill="none" stroke="#000" stroke-width="1.1"/><text x="468.4" y="1362.6" font-size="26" text-anchor="end" fill="#107a3c">95.9</text><text x="468.4" y="1386.8" font-size="26" text-anchor="end" fill="#8a8a8a">67.4</text><line x1="22.3" y1="1257" x2="22.3" y2="1213" stroke="#000" stroke-width="2"/><path d="M22.3 1203L16.3 1215L22.3 1212L28.3 1215Z" fill="#000"/><text x="30.6" y="1418.4" font-size="26" transform="rotate(-90 30.6 1418.4)">CD4-BUV395</text><text x="47.7" y="1458.7" font-size="26">CD69-BV510</text><line x1="209" y1="1450.6" x2="485" y2="1450.6" stroke="#000" stroke-width="2"/><path d="M495 1450.6L483 1444.6L486 1450.6L483 1456.6Z" fill="#000"/><line x1="47.4" y1="1619" x2="263" y2="1619" stroke="#8cc46c" stroke-width="1.2"/><path d="M122.6 1619.0L122.6 1619.0L123.4 1618.4L124.6 1617.6L126.0 1616.7L127.4 1615.7L128.8 1614.8L130.0 1614.0L130.9 1613.4L131.7 1612.9L132.4 1612.4L133.2 1611.9L134.2 1611.5L135.5 1611.0L137.3 1610.4L139.4 1609.7L141.7 1609.1L144.1 1608.4L146.4 1608.0L148.4 1607.7L150.2 1607.8L151.8 1608.3L153.4 1609.0L154.9 1609.5L156.4 1609.7L158.0 1609.4L159.7 1608.4L161.4 1606.8L163.2 1604.9L164.9 1602.9L166.4 1601.1L167.7 1599.7L168.7 1598.7L169.5 1598.0L170.2 1597.5L170.7 1597.1L171.3 1596.6L172.0 1596.0L172.8 1595.2L173.6 1594.2L174.5 1593.2L175.3 1592.4L176.1 1591.8L176.8 1591.6L177.4 1591.9L178.0 1592.7L178.5 1593.7L178.9 1594.8L179.4 1596.0L180.0 1597.0L180.6 1598.0L181.2 1599.2L181.9 1600.4L182.6 1601.5L183.2 1602.4L183.9 1602.9L184.6 1603.0L185.3 1602.7L185.9 1602.2L186.6 1601.7L187.3 1601.2L188.0 1601.0L188.6 1600.9L189.3 1600.9L189.9 1601.0L190.5 1601.2L191.2 1601.6L192.0 1602.3L192.9 1603.3L193.8 1604.7L194.8 1606.2L195.9 1607.9L196.9 1609.5L198.0 1611.0L199.2 1612.5L200.5 1614.0L201.8 1615.5L203.0 1617.0L204.1 1618.1L204.8 1619.0L204.8 1619.0Z" fill="#a9d18e" stroke="#4e9a2e" stroke-width="1.2" stroke-linejoin="round"/><line x1="47.4" y1="1672.6" x2="263" y2="1672.6" stroke="#6a9fdc" stroke-width="1.2"/><path d="M103.2 1672.6L103.2 1672.6L103.9 1671.8L104.9 1670.8L106.1 1669.5L107.4 1668.0L108.7 1666.1L110.0 1664.0L111.3 1661.4L112.7 1658.4L114.0 1655.1L115.4 1651.6L116.8 1648.2L118.0 1645.0L119.1 1641.8L120.2 1638.4L121.3 1635.1L122.3 1632.0L123.2 1629.2L124.0 1627.0L124.7 1625.3L125.3 1624.0L125.8 1623.0L126.3 1622.5L126.9 1622.2L127.4 1622.3L127.9 1622.9L128.4 1623.9L128.9 1625.3L129.5 1626.9L130.2 1628.5L131.0 1630.0L132.1 1631.5L133.4 1633.1L134.7 1634.8L136.2 1636.3L137.5 1637.6L138.7 1638.4L139.7 1638.7L140.7 1638.6L141.6 1638.2L142.4 1637.7L143.2 1637.2L144.0 1637.0L144.8 1636.9L145.5 1636.9L146.2 1636.9L147.0 1637.0L147.7 1637.3L148.4 1637.7L149.2 1638.3L149.9 1639.1L150.7 1640.1L151.4 1641.1L152.2 1642.1L153.0 1643.0L153.8 1643.9L154.5 1644.8L155.2 1645.7L156.0 1646.6L156.9 1647.4L158.0 1648.0L159.4 1648.4L161.0 1648.7L162.8 1648.9L164.5 1649.1L166.2 1649.3L167.7 1649.7L168.9 1650.3L170.0 1650.9L171.0 1651.6L172.0 1652.4L173.0 1653.2L174.0 1654.0L175.1 1654.8L176.1 1655.7L177.2 1656.6L178.3 1657.5L179.5 1658.4L180.6 1659.4L181.8 1660.5L183.1 1661.6L184.4 1662.8L185.6 1663.9L186.9 1665.0L188.0 1666.0L188.9 1666.9L189.7 1667.8L190.4 1668.6L191.2 1669.3L192.2 1670.0L193.5 1670.6L195.4 1671.1L197.8 1671.5L200.3 1671.9L202.9 1672.2L205.0 1672.4L206.5 1672.6L206.5 1672.6Z" fill="#8db3e2" stroke="#2f72c4" stroke-width="1.2" stroke-linejoin="round"/><path d="M102.6 1724.8L102.6 1724.8L103.1 1722.2L103.8 1718.7L104.5 1714.6L105.4 1709.9L106.2 1705.0L107.0 1700.0L107.7 1694.6L108.3 1688.6L109.0 1682.3L109.6 1676.1L110.3 1670.2L111.0 1665.0L111.7 1660.2L112.5 1655.3L113.3 1650.9L114.1 1647.1L114.8 1644.4L115.5 1643.2L116.1 1643.7L116.7 1645.7L117.2 1648.7L117.8 1652.4L118.3 1656.3L119.0 1660.0L119.7 1663.8L120.6 1668.1L121.4 1672.7L122.3 1677.1L123.1 1681.0L124.0 1684.0L124.8 1686.2L125.7 1687.9L126.5 1689.0L127.3 1689.7L128.2 1690.0L129.0 1690.0L129.8 1689.5L130.6 1688.5L131.4 1687.1L132.3 1685.5L133.1 1683.7L134.0 1682.0L134.9 1680.1L135.9 1678.0L136.9 1675.8L137.9 1673.6L138.9 1671.6L140.0 1670.0L141.1 1668.9L142.4 1668.1L143.6 1667.5L144.9 1667.0L146.0 1666.6L147.0 1666.0L147.8 1665.3L148.6 1664.6L149.2 1663.8L149.8 1663.1L150.4 1662.5L151.0 1662.0L151.6 1661.5L152.1 1661.0L152.6 1660.6L153.1 1660.3L153.6 1660.3L154.2 1660.6L154.8 1661.3L155.4 1662.3L156.0 1663.6L156.6 1665.0L157.3 1666.5L158.0 1668.0L158.8 1669.5L159.6 1671.2L160.4 1672.9L161.3 1674.7L162.2 1676.4L163.0 1678.0L163.8 1679.5L164.5 1681.0L165.3 1682.4L166.0 1683.9L166.8 1685.3L167.7 1686.8L168.7 1688.3L169.7 1689.9L170.7 1691.4L171.8 1693.0L172.9 1694.5L174.0 1696.0L175.1 1697.4L176.1 1698.8L177.2 1700.2L178.3 1701.6L179.4 1703.0L180.6 1704.5L181.9 1706.0L183.3 1707.5L184.7 1709.1L186.2 1710.7L187.6 1712.3L189.0 1714.0L190.4 1715.8L191.9 1717.9L193.4 1720.0L194.8 1722.0L196.0 1723.6L196.8 1724.8L196.8 1724.8Z" fill="#b8b8b8" stroke="#8c8c8c" stroke-width="1.2" fill-opacity="0.75" stroke-linejoin="round"/><rect x="47.4" y="1509.4" width="215.6" height="215.4" fill="none" stroke="#555" stroke-width="1.2"/><line x1="47.4" y1="1509.4" x2="47.4" y2="1724.8" stroke="#222" stroke-width="1.4"/><line x1="132.3" y1="1509.4" x2="132.3" y2="1724.8" stroke="#000" stroke-width="1.8" stroke-dasharray="6 4"/><path d="M147.9 1724.8v4M158.1 1724.8v4M165.4 1724.8v4M171.0 1724.8v4M175.6 1724.8v4M179.5 1724.8v4M182.9 1724.8v4M185.8 1724.8v4M204.1 1724.8v4M213.3 1724.8v4M219.7 1724.8v4M224.8 1724.8v4M228.9 1724.8v4M232.4 1724.8v4M235.4 1724.8v4M238.0 1724.8v4M256.0 1724.8v4M105.1 1724.8v4M111.2 1724.8v4M115.5 1724.8v4M118.9 1724.8v4M121.6 1724.8v4M124.0 1724.8v4M126.0 1724.8v4M127.7 1724.8v4M84.5 1724.8v4M78.5 1724.8v4M74.2 1724.8v4M70.9 1724.8v4M68.2 1724.8v4M65.9 1724.8v4M64.0 1724.8v4M62.2 1724.8v4" fill="none" stroke="#222" stroke-width="1.1"/><path d="M59.6 1724.8v7M130.4 1724.8v7M188.5 1724.8v7M240.4 1724.8v7M93.4 1724.8v6M94.7 1724.8v6M96.0 1724.8v6" fill="none" stroke="#222" stroke-width="1.5"/><text x="258" y="1612.6" font-size="26" text-anchor="end" fill="#4a8a2a">95.9</text><text x="258" y="1665.8" font-size="26" text-anchor="end" fill="#2a5ca0">73.3</text><text x="258" y="1717.4" font-size="26" text-anchor="end" fill="#8a8a8a">67.4</text><line x1="22.6" y1="1648" x2="22.6" y2="1517.7" stroke="#000" stroke-width="2"/><path d="M22.6 1507.7L16.6 1519.7L22.6 1516.7L28.6 1519.7Z" fill="#000"/><text x="31.5" y="1722" font-size="26" transform="rotate(-90 31.5 1722)">Count</text><text x="45" y="1764" font-size="26">CD69-BV510</text><line x1="205" y1="1753" x2="251" y2="1753" stroke="#000" stroke-width="2"/><path d="M261 1753L249 1747L252 1753L249 1759Z" fill="#000"/><line x1="100.6" y1="1818" x2="100.6" y2="2125.2" stroke="#111" stroke-width="1.4"/><path d="M91.1 2125.2H100.6M91.1 2063.8H100.6M91.1 2002.3H100.6M91.1 1940.9H100.6M91.1 1879.4H100.6M91.1 1818.0H100.6" fill="none" stroke="#333" stroke-width="1.5"/><text x="79" y="2134.5" font-size="26" text-anchor="end">0</text><text x="79" y="2073.1" font-size="26" text-anchor="end">20</text><text x="79" y="2011.6" font-size="26" text-anchor="end">40</text><text x="79" y="1950.2" font-size="26" text-anchor="end">60</text><text x="79" y="1888.7" font-size="26" text-anchor="end">80</text><text x="79" y="1827.3" font-size="26" text-anchor="end">100</text><line x1="91.6" y1="2125.2" x2="233" y2="2125.2" stroke="#111" stroke-width="1.4"/><line x1="127.4" y1="2125.2" x2="127.4" y2="2134.7" stroke="#333" stroke-width="1.4"/><line x1="167" y1="2125.2" x2="167" y2="2134.7" stroke="#333" stroke-width="1.4"/><line x1="207.1" y1="2125.2" x2="207.1" y2="2134.7" stroke="#333" stroke-width="1.4"/><text x="26.5" y="2078" font-size="26" transform="rotate(-90 26.5 2078)">Percentage CD69<tspan dy="-10" font-size="17">+</tspan></text><rect x="114.5" y="1905.6" width="26.6" height="26.7" fill="#e3e3e3" stroke="#000" stroke-width="3"/><circle cx="121" cy="1905.6" r="6.4" fill="#bdbdbd" stroke="#000" stroke-width="1.1" fill-opacity="0.8"/><circle cx="140.3" cy="1910.2" r="6.4" fill="#bdbdbd" stroke="#000" stroke-width="1.1" fill-opacity="0.8"/><circle cx="133.2" cy="1920.9" r="6.4" fill="#bdbdbd" stroke="#000" stroke-width="1.1" fill-opacity="0.8"/><circle cx="121" cy="1932.3" r="6.4" fill="#bdbdbd" stroke="#000" stroke-width="1.1" fill-opacity="0.8"/><line x1="114.5" y1="1907.1" x2="141" y2="1907.1" stroke="#000" stroke-width="2.5"/><rect x="153.9" y="1887.1" width="26.6" height="24.6" fill="#a9c4e6" stroke="#000" stroke-width="3"/><circle cx="167.2" cy="1887.1" r="6.4" fill="#4f86c6" stroke="#000" stroke-width="1.1" fill-opacity="0.8"/><circle cx="161.3" cy="1900" r="6.4" fill="#4f86c6" stroke="#000" stroke-width="1.1" fill-opacity="0.8"/><circle cx="173.2" cy="1902.8" r="6.4" fill="#4f86c6" stroke="#000" stroke-width="1.1" fill-opacity="0.8"/><circle cx="167.2" cy="1911.7" r="6.4" fill="#4f86c6" stroke="#000" stroke-width="1.1" fill-opacity="0.8"/><line x1="153.9" y1="1901.6" x2="180.6" y2="1901.6" stroke="#000" stroke-width="2.5"/><rect x="193.4" y="1830.9" width="27.6" height="51.6" fill="#a9dca0" stroke="#000" stroke-width="3"/><line x1="193.4" y1="1853.9" x2="221" y2="1853.9" stroke="#000" stroke-width="2.5"/><circle cx="207.2" cy="1830.9" r="6.4" fill="#3cab5c" stroke="#000" stroke-width="1.1" fill-opacity="0.8"/><circle cx="200.7" cy="1845.6" r="6.4" fill="#3cab5c" stroke="#000" stroke-width="1.1" fill-opacity="0.8"/><circle cx="213.6" cy="1858.6" r="6.4" fill="#3cab5c" stroke="#000" stroke-width="1.1" fill-opacity="0.8"/><circle cx="207.2" cy="1882.5" r="6.4" fill="#3cab5c" stroke="#000" stroke-width="1.1" fill-opacity="0.8"/><text transform="translate(565 843.5) scale(0.84 1)" font-size="32.5" font-weight="bold">f</text><rect x="588.4" y="861" width="30" height="15" fill="#d0d0d0" stroke="#000" stroke-width="2"/><text x="630.3" y="876.8" font-size="26">CD8<tspan dy="-10" font-size="17">+</tspan></text><rect x="708" y="861" width="30" height="15" fill="#8faadc" stroke="#000" stroke-width="2"/><text x="751.3" y="876.8" font-size="26">TNF<tspan dy="-10" font-size="17">+</tspan><tspan dy="10">CD8</tspan><tspan dy="-10" font-size="17">+</tspan></text><rect x="891.3" y="861" width="30" height="15" fill="#a9d18e" stroke="#000" stroke-width="2"/><text x="933.5" y="876.8" font-size="26">IFN-γ<tspan dy="-10" font-size="17">+</tspan><tspan dy="10">CD8</tspan><tspan dy="-10" font-size="17">+</tspan></text><rect x="609.3" y="902.7" width="215.3" height="214.2" fill="none" stroke="#444" stroke-width="1.2"/><line x1="609.3" y1="902.7" x2="609.3" y2="1116.9" stroke="#222" stroke-width="1.4"/><line x1="609.3" y1="1116.9" x2="824.6" y2="1116.9" stroke="#222" stroke-width="1.4"/><path d="M609.3 1014.6h-4M609.3 1004.2h-4M609.3 996.9h-4M609.3 991.2h-4M609.3 986.5h-4M609.3 982.5h-4M609.3 979.1h-4M609.3 976.1h-4M609.3 958.0h-4M609.3 949.0h-4M609.3 942.6h-4M609.3 937.6h-4M609.3 933.6h-4M609.3 930.1h-4M609.3 927.2h-4M609.3 924.5h-4M609.3 906.8h-4M609.3 1057.0h-4M609.3 1051.1h-4M609.3 1046.9h-4M609.3 1043.6h-4M609.3 1040.9h-4M609.3 1038.7h-4M609.3 1036.7h-4M609.3 1035.0h-4M609.3 1077.7h-4M609.3 1083.8h-4M609.3 1088.1h-4M609.3 1091.5h-4M609.3 1094.2h-4M609.3 1096.5h-4M609.3 1098.6h-4M609.3 1100.3h-4" fill="none" stroke="#222" stroke-width="1.1"/><path d="M609.3 1103.0h-7M609.3 1032.4h-7M609.3 973.4h-7M609.3 922.2h-7M609.3 1065.9h-6M609.3 1067.2h-6M609.3 1068.5h-6" fill="none" stroke="#222" stroke-width="1.5"/><path d="M710.7 1116.9v4M720.9 1116.9v4M728.1 1116.9v4M733.7 1116.9v4M738.2 1116.9v4M742.1 1116.9v4M745.4 1116.9v4M748.4 1116.9v4M766.6 1116.9v4M775.7 1116.9v4M782.1 1116.9v4M787.1 1116.9v4M791.2 1116.9v4M794.7 1116.9v4M797.7 1116.9v4M800.3 1116.9v4M818.3 1116.9v4M667.6 1116.9v4M673.8 1116.9v4M678.3 1116.9v4M681.7 1116.9v4M684.5 1116.9v4M686.8 1116.9v4M688.9 1116.9v4M690.7 1116.9v4M646.8 1116.9v4M640.8 1116.9v4M636.5 1116.9v4M633.2 1116.9v4M630.5 1116.9v4M628.2 1116.9v4M626.3 1116.9v4M624.5 1116.9v4" fill="none" stroke="#222" stroke-width="1.1"/><path d="M621.9 1116.9v7M693.4 1116.9v7M751.0 1116.9v7M802.7 1116.9v7M655.7 1116.9v6M657.0 1116.9v6M658.3 1116.9v6" fill="none" stroke="#222" stroke-width="1.5"/><path d="M665.2 911.8 668.8 911.2 671.8 912.4 674.8 915.3 677.4 919.8 679.3 924.8 680.7 930.8 681.6 937.8 682.3 947.8 681.9 962.8 681.0 968.8 679.3 974.8 677.5 978.8 674.6 982.8 670.8 985.5 667.8 986.0 664.8 985.3 661.8 983.2 659.1 979.8 657.5 976.8 656.0 972.8 654.6 966.8 653.7 956.8 654.2 939.8 656.2 926.8 658.2 920.8 660.2 916.8 662.8 913.5 665.2 911.8M666.2 915.8 668.8 915.5 671.8 916.9 674.4 919.8 676.5 923.8 678.2 928.8 679.4 934.8 680.8 951.8 680.4 963.8 679.3 969.8 678.0 973.8 676.0 977.8 673.8 980.6 670.8 982.7 667.8 983.4 664.8 982.6 662.8 981.2 660.8 979.0 658.9 975.8 656.3 967.8 655.2 957.8 655.9 940.8 657.9 928.8 659.5 923.8 661.6 919.8 663.8 917.2 666.2 915.8M666.2 919.8 668.8 919.5 670.8 920.3 673.2 922.8 675.4 926.8 677.0 931.8 678.1 937.8 679.5 953.8 678.9 964.8 678.2 968.8 676.4 973.8 674.8 976.7 672.8 979.0 670.8 980.4 667.8 981.1 664.8 980.2 663.0 978.8 659.6 973.8 657.4 966.8 656.5 957.8 657.1 943.8 659.0 931.8 660.2 927.8 662.1 923.8 663.8 921.5 666.2 919.8M667.4 922.8 669.8 923.2 671.8 924.7 673.8 927.8 675.0 930.8 677.4 941.8 678.5 955.8 677.9 964.8 675.6 972.8 673.8 975.8 671.8 977.8 669.8 978.9 667.8 979.2 665.8 978.8 663.8 977.5 660.4 972.8 658.2 965.8 657.5 956.8 658.4 943.8 660.4 932.8 661.8 928.7 663.4 925.8 665.2 923.8 667.4 922.8M667.5 925.8 669.8 926.2 671.5 927.8 672.8 929.8 674.5 933.8 676.6 943.8 677.7 956.8 677.0 964.8 674.9 971.8 671.8 976.1 669.8 977.3 667.8 977.6 665.8 977.2 663.8 975.7 661.1 971.8 659.1 965.8 658.3 957.8 659.2 945.8 661.2 934.8 663.8 928.7 665.8 926.5 667.5 925.8M666.1 929.8 667.8 929.1 669.8 929.7 671.7 931.8 672.8 934.0 675.4 943.8 676.7 955.8 676.3 963.8 674.7 969.8 671.8 974.3 669.8 975.6 667.8 976.0 664.8 974.8 661.8 970.8 660.1 965.8 659.3 958.8 659.7 949.8 661.4 939.8 663.8 932.8 666.1 929.8M666.8 932.8 667.8 932.4 669.8 933.2 671.1 934.8 672.6 937.8 674.9 946.8 675.9 956.8 675.5 963.8 673.8 969.4 670.8 973.5 667.8 974.5 664.8 973.2 662.4 969.8 660.7 964.8 660.1 958.8 660.5 950.8 662.2 941.8 664.3 935.8 666.8 932.8M666.1 936.8 667.8 935.8 668.8 936.0 670.7 937.8 671.8 939.9 674.1 947.8 675.1 955.8 675.0 961.8 673.5 967.8 670.8 971.9 667.8 973.1 664.8 971.6 662.9 968.8 661.5 964.8 660.9 959.8 661.0 953.8 662.1 946.8 663.8 940.9 666.1 936.8M666.5 939.8 667.8 939.1 668.8 939.3 669.8 940.1 671.4 942.8 673.6 949.8 674.4 956.8 674.1 962.8 672.8 967.3 670.8 970.4 669.8 971.2 667.8 971.7 665.8 970.9 663.8 968.5 662.3 964.8 661.6 959.8 661.8 953.8 662.8 948.1 664.8 942.2 666.5 939.8M666.7 942.8 667.8 942.2 668.8 942.4 670.8 944.7 672.8 950.4 673.7 956.8 673.3 962.8 672.1 966.8 669.8 969.7 667.8 970.3 665.8 969.4 663.9 966.8 662.9 963.8 662.3 959.8 662.5 954.8 663.4 949.8 664.8 945.5 666.7 942.8M666.6 945.8 667.8 945.1 668.8 945.3 670.8 947.8 672.2 951.8 672.9 956.8 672.8 961.2 671.8 965.2 669.8 968.2 667.8 968.9 665.8 967.8 664.8 966.5 663.7 963.8 663.1 959.8 663.8 951.8 664.8 948.7 666.6 945.8M667.8 947.8 668.8 948.0 669.7 948.8 670.8 950.8 671.9 954.8 672.2 958.8 671.8 962.2 670.8 965.1 669.8 966.5 667.8 967.3 665.8 966.0 664.8 964.2 663.8 958.8 664.8 951.9 665.8 949.6 667.8 947.8M667.2 950.8 667.8 950.4 668.8 950.7 669.8 951.8 670.8 954.4 671.3 957.8 670.6 962.8 669.5 964.8 667.8 965.6 666.8 965.1 665.8 963.8 664.7 958.8 665.4 953.8 667.2 950.8M667.3 953.8 667.8 953.4 668.8 953.8 669.8 955.6 670.1 957.8 669.8 961.3 668.8 963.0 667.8 963.3 666.4 961.8 665.8 958.8 666.2 955.8 667.3 953.8" fill="none" stroke="#505050" stroke-width="0.7"/><path d="M665.8 1012.4h2.9v2.9h-2.9zM674.1 997.5h2.9v2.9h-2.9zM663.5 997.3h2.9v2.9h-2.9zM669.5 1001.1h2.9v2.9h-2.9zM676.5 1000.8h2.9v2.9h-2.9zM670.3 1000.5h2.9v2.9h-2.9zM662.9 1005.3h2.9v2.9h-2.9zM671.3 999.9h2.9v2.9h-2.9zM664.5 1007.0h2.9v2.9h-2.9zM659.5 989.4h2.9v2.9h-2.9zM668.3 996.2h2.9v2.9h-2.9zM662.3 992.0h2.9v2.9h-2.9zM655.1 1001.8h2.9v2.9h-2.9zM671.8 999.7h2.9v2.9h-2.9zM660.3 1004.6h2.9v2.9h-2.9zM670.6 999.1h2.9v2.9h-2.9zM669.4 1009.9h2.9v2.9h-2.9zM664.1 995.0h2.9v2.9h-2.9zM668.0 1003.5h2.9v2.9h-2.9zM673.2 991.3h2.9v2.9h-2.9zM660.9 994.8h2.9v2.9h-2.9zM653.4 1002.6h2.9v2.9h-2.9zM669.2 995.6h2.9v2.9h-2.9zM675.2 1008.1h2.9v2.9h-2.9zM669.9 1004.8h2.9v2.9h-2.9zM672.2 990.9h2.9v2.9h-2.9zM669.8 1006.4h2.9v2.9h-2.9zM653.2 1004.3h2.9v2.9h-2.9zM663.8 1007.8h2.9v2.9h-2.9zM662.5 1001.4h2.9v2.9h-2.9zM667.9 994.5h2.9v2.9h-2.9zM669.7 1000.7h2.9v2.9h-2.9zM669.0 997.4h2.9v2.9h-2.9zM673.2 1006.4h2.9v2.9h-2.9zM664.3 1006.6h2.9v2.9h-2.9zM674.4 1015.9h2.9v2.9h-2.9zM654.5 1008.6h2.9v2.9h-2.9zM668.8 1000.8h2.9v2.9h-2.9zM658.5 1011.6h2.9v2.9h-2.9zM656.7 1006.1h2.9v2.9h-2.9zM674.7 988.8h2.9v2.9h-2.9zM663.4 991.1h2.9v2.9h-2.9zM667.3 1013.7h2.9v2.9h-2.9zM661.5 1007.2h2.9v2.9h-2.9zM676.6 1004.9h2.9v2.9h-2.9zM660.3 1003.9h2.9v2.9h-2.9zM665.4 999.9h2.9v2.9h-2.9zM660.4 1004.6h2.9v2.9h-2.9zM667.7 1000.8h2.9v2.9h-2.9zM664.0 991.3h2.9v2.9h-2.9zM662.1 1011.2h2.9v2.9h-2.9zM664.2 990.0h2.9v2.9h-2.9zM674.9 1005.8h2.9v2.9h-2.9zM662.3 990.0h2.9v2.9h-2.9zM659.8 996.4h2.9v2.9h-2.9zM669.7 994.9h2.9v2.9h-2.9zM663.7 998.8h2.9v2.9h-2.9zM666.9 1010.3h2.9v2.9h-2.9zM665.7 1008.9h2.9v2.9h-2.9zM662.6 1004.2h2.9v2.9h-2.9zM671.1 996.8h2.9v2.9h-2.9zM669.6 1005.9h2.9v2.9h-2.9zM674.8 1008.0h2.9v2.9h-2.9zM672.7 1000.7h2.9v2.9h-2.9zM660.7 995.7h2.9v2.9h-2.9zM662.1 992.5h2.9v2.9h-2.9zM661.7 1000.8h2.9v2.9h-2.9zM667.3 998.8h2.9v2.9h-2.9zM667.1 1010.2h2.9v2.9h-2.9zM669.6 996.4h2.9v2.9h-2.9zM660.5 1017.6h2.9v2.9h-2.9zM670.8 1016.2h2.9v2.9h-2.9zM668.2 1005.2h2.9v2.9h-2.9zM669.5 1005.9h2.9v2.9h-2.9zM667.0 1002.9h2.9v2.9h-2.9zM655.0 1000.2h2.9v2.9h-2.9zM660.3 1002.6h2.9v2.9h-2.9zM662.3 1006.5h2.9v2.9h-2.9zM671.3 1004.0h2.9v2.9h-2.9zM667.8 1002.3h2.9v2.9h-2.9zM662.4 1000.2h2.9v2.9h-2.9zM662.1 1004.7h2.9v2.9h-2.9zM665.6 1006.2h2.9v2.9h-2.9zM656.2 1008.7h2.9v2.9h-2.9zM660.2 995.7h2.9v2.9h-2.9zM664.2 997.0h2.9v2.9h-2.9zM667.6 997.0h2.9v2.9h-2.9zM658.1 994.8h2.9v2.9h-2.9zM674.7 1001.9h2.9v2.9h-2.9zM657.4 1001.6h2.9v2.9h-2.9zM654.7 1015.9h2.9v2.9h-2.9zM654.9 1005.4h2.9v2.9h-2.9zM669.4 989.9h2.9v2.9h-2.9zM667.7 1009.5h2.9v2.9h-2.9zM668.8 1003.6h2.9v2.9h-2.9zM672.2 1002.8h2.9v2.9h-2.9zM667.9 1000.5h2.9v2.9h-2.9zM670.0 994.0h2.9v2.9h-2.9zM671.1 997.5h2.9v2.9h-2.9zM657.9 1004.5h2.9v2.9h-2.9zM677.4 1009.2h2.9v2.9h-2.9zM661.9 1007.1h2.9v2.9h-2.9zM662.4 1000.6h2.9v2.9h-2.9zM666.9 993.3h2.9v2.9h-2.9zM660.7 989.8h2.9v2.9h-2.9zM654.9 994.0h2.9v2.9h-2.9zM671.3 1014.9h2.9v2.9h-2.9zM665.4 1010.3h2.9v2.9h-2.9zM666.6 1005.1h2.9v2.9h-2.9zM662.5 1004.0h2.9v2.9h-2.9zM669.6 994.6h2.9v2.9h-2.9zM655.2 999.8h2.9v2.9h-2.9zM664.1 998.7h2.9v2.9h-2.9zM672.5 1015.4h2.9v2.9h-2.9zM662.6 1007.1h2.9v2.9h-2.9zM672.1 1007.3h2.9v2.9h-2.9zM672.9 998.4h2.9v2.9h-2.9zM670.7 1017.7h2.9v2.9h-2.9zM671.2 996.6h2.9v2.9h-2.9zM669.8 1011.6h2.9v2.9h-2.9zM668.1 997.0h2.9v2.9h-2.9zM676.4 991.6h2.9v2.9h-2.9zM669.1 1001.4h2.9v2.9h-2.9zM657.2 1011.3h2.9v2.9h-2.9zM668.0 992.2h2.9v2.9h-2.9zM669.8 998.1h2.9v2.9h-2.9zM667.4 1006.6h2.9v2.9h-2.9zM666.7 1001.9h2.9v2.9h-2.9zM668.8 999.9h2.9v2.9h-2.9zM673.8 1002.7h2.9v2.9h-2.9zM667.6 1005.9h2.9v2.9h-2.9zM658.1 995.9h2.9v2.9h-2.9zM676.3 1004.2h2.9v2.9h-2.9zM663.6 1004.3h2.9v2.9h-2.9zM662.2 1003.8h2.9v2.9h-2.9zM660.9 1003.8h2.9v2.9h-2.9zM654.5 1012.2h2.9v2.9h-2.9zM662.0 988.9h2.9v2.9h-2.9zM664.0 998.6h2.9v2.9h-2.9zM666.6 992.4h2.9v2.9h-2.9zM656.6 1004.3h2.9v2.9h-2.9zM663.4 1003.1h2.9v2.9h-2.9zM652.9 992.3h2.9v2.9h-2.9zM668.8 1001.2h2.9v2.9h-2.9zM677.0 995.9h2.9v2.9h-2.9zM660.2 994.3h2.9v2.9h-2.9zM665.3 1001.2h2.9v2.9h-2.9zM671.5 1002.6h2.9v2.9h-2.9zM660.3 1003.2h2.9v2.9h-2.9zM659.4 1006.5h2.9v2.9h-2.9zM632.5 936.5h2.9v2.9h-2.9zM640.5 928.5h2.9v2.9h-2.9zM640.5 936.5h2.9v2.9h-2.9zM643.5 942.5h2.9v2.9h-2.9zM664.5 914.5h2.9v2.9h-2.9zM672.5 910.5h2.9v2.9h-2.9zM678.5 913.5h2.9v2.9h-2.9zM680.5 918.5h2.9v2.9h-2.9zM684.5 919.5h2.9v2.9h-2.9zM684.5 930.5h2.9v2.9h-2.9zM684.5 938.5h2.9v2.9h-2.9zM685.5 960.5h2.9v2.9h-2.9zM684.5 964.5h2.9v2.9h-2.9zM685.5 968.5h2.9v2.9h-2.9zM687.5 983.5h2.9v2.9h-2.9zM683.5 1002.5h2.9v2.9h-2.9zM681.5 1016.5h2.9v2.9h-2.9zM653.5 1001.5h2.9v2.9h-2.9zM699.5 926.5h2.9v2.9h-2.9zM703.5 933.5h2.9v2.9h-2.9zM713.5 927.5h2.9v2.9h-2.9zM708.5 953.5h2.9v2.9h-2.9zM710.5 951.5h2.9v2.9h-2.9zM715.5 949.5h2.9v2.9h-2.9zM724.5 945.5h2.9v2.9h-2.9zM697.5 953.5h2.9v2.9h-2.9zM702.5 973.5h2.9v2.9h-2.9zM714.5 972.5h2.9v2.9h-2.9zM732.5 966.5h2.9v2.9h-2.9zM736.5 979.5h2.9v2.9h-2.9zM749.5 941.5h2.9v2.9h-2.9zM753.5 941.5h2.9v2.9h-2.9zM760.5 953.5h2.9v2.9h-2.9zM760.5 970.5h2.9v2.9h-2.9zM757.5 974.5h2.9v2.9h-2.9zM755.5 1008.5h2.9v2.9h-2.9zM655.5 1066.5h2.9v2.9h-2.9zM821.5 913.5h2.9v2.9h-2.9z" fill="#000"/><rect x="694" y="909.6" width="119.6" height="112.8" fill="none" stroke="#4472c4" stroke-width="3.2"/><text x="804" y="1010.3" font-size="26" text-anchor="end" fill="#1f5c99">0.45</text><rect x="839.4" y="904.8" width="215.1" height="215.5" fill="none" stroke="#444" stroke-width="1.2"/><line x1="839.4" y1="904.8" x2="839.4" y2="1120.3" stroke="#222" stroke-width="1.4"/><line x1="839.4" y1="1120.3" x2="1054.5" y2="1120.3" stroke="#222" stroke-width="1.4"/><path d="M839.4 1017.2h-4M839.4 1006.8h-4M839.4 999.5h-4M839.4 993.8h-4M839.4 989.1h-4M839.4 985.1h-4M839.4 981.7h-4M839.4 978.7h-4M839.4 960.6h-4M839.4 951.7h-4M839.4 945.3h-4M839.4 940.4h-4M839.4 936.3h-4M839.4 932.9h-4M839.4 929.9h-4M839.4 927.3h-4M839.4 909.6h-4M839.4 1059.8h-4M839.4 1053.8h-4M839.4 1049.6h-4M839.4 1046.3h-4M839.4 1043.6h-4M839.4 1041.3h-4M839.4 1039.3h-4M839.4 1037.6h-4M839.4 1080.5h-4M839.4 1086.7h-4M839.4 1091.0h-4M839.4 1094.4h-4M839.4 1097.2h-4M839.4 1099.5h-4M839.4 1101.5h-4M839.4 1103.3h-4" fill="none" stroke="#222" stroke-width="1.1"/><path d="M839.4 1106.0h-7M839.4 1035.0h-7M839.4 976.0h-7M839.4 925.0h-7M839.4 1068.7h-6M839.4 1070.0h-6M839.4 1071.3h-6" fill="none" stroke="#222" stroke-width="1.5"/><path d="M940.8 1120.3v4M951.0 1120.3v4M958.2 1120.3v4M963.8 1120.3v4M968.3 1120.3v4M972.2 1120.3v4M975.5 1120.3v4M978.5 1120.3v4M996.7 1120.3v4M1005.8 1120.3v4M1012.2 1120.3v4M1017.2 1120.3v4M1021.3 1120.3v4M1024.8 1120.3v4M1027.8 1120.3v4M1030.4 1120.3v4M1048.4 1120.3v4M897.7 1120.3v4M903.9 1120.3v4M908.3 1120.3v4M911.7 1120.3v4M914.6 1120.3v4M916.9 1120.3v4M919.0 1120.3v4M920.8 1120.3v4M876.8 1120.3v4M870.8 1120.3v4M866.6 1120.3v4M863.3 1120.3v4M860.6 1120.3v4M858.3 1120.3v4M856.3 1120.3v4M854.6 1120.3v4" fill="none" stroke="#222" stroke-width="1.1"/><path d="M852.0 1120.3v7M923.5 1120.3v7M981.1 1120.3v7M1032.8 1120.3v7M885.7 1120.3v6M887.0 1120.3v6M888.3 1120.3v6" fill="none" stroke="#222" stroke-width="1.5"/><path d="M900.7 915.8 905.8 915.2 909.8 916.3 913.8 919.1 916.5 922.8 918.7 927.8 919.9 933.8 920.2 940.8 919.6 947.8 918.1 955.8 915.3 964.8 912.1 971.8 909.0 976.8 904.8 981.7 899.8 985.4 894.8 987.2 890.8 987.3 886.8 986.1 883.8 984.0 881.1 980.8 879.1 976.8 877.6 971.8 876.9 966.8 876.9 960.8 877.4 954.8 880.3 941.8 883.0 934.8 886.1 928.8 889.6 923.8 892.8 920.5 896.8 917.5 900.7 915.8M901.3 919.8 904.8 919.5 908.8 920.6 911.8 922.8 914.8 927.1 916.5 931.8 917.5 937.8 917.5 944.8 916.6 951.8 915.3 957.8 913.1 964.8 910.4 970.8 906.8 976.3 902.8 980.5 898.8 983.1 894.8 984.5 890.8 984.4 887.8 983.4 884.8 981.2 882.2 977.8 880.8 974.8 879.6 970.8 878.9 965.8 879.5 954.8 882.5 942.8 885.3 935.8 887.8 931.3 890.8 927.1 893.8 923.9 897.8 921.1 901.3 919.8M900.3 923.8 903.8 923.3 907.8 924.4 910.6 926.8 912.6 929.8 914.4 934.8 915.2 939.8 915.2 945.8 914.6 951.8 913.2 958.8 911.2 964.8 908.9 969.8 906.4 973.8 902.9 977.8 899.8 980.2 895.8 981.8 891.8 982.1 888.8 981.1 886.8 979.8 884.1 976.8 882.5 973.8 881.3 969.8 880.8 965.8 881.2 955.8 883.9 944.8 888.5 934.8 893.8 927.9 896.8 925.5 900.3 923.8M900.6 926.8 903.8 926.6 906.8 927.5 909.8 930.3 911.7 933.8 912.8 937.8 913.4 942.8 913.3 948.8 912.5 954.8 911.1 960.8 909.3 965.8 907.3 969.8 904.6 973.8 900.8 977.5 897.8 979.3 894.8 980.1 891.8 980.0 888.8 978.9 886.8 977.3 884.9 974.8 883.5 971.8 882.1 964.8 882.6 955.8 885.3 945.8 889.8 936.3 894.8 930.1 897.8 927.9 900.6 926.8M899.7 929.8 902.8 929.3 905.8 930.2 907.8 931.8 909.8 934.8 911.1 938.8 911.8 942.8 911.9 947.8 911.4 953.8 908.9 963.8 907.1 967.8 904.6 971.8 901.8 974.9 898.8 977.1 895.8 978.3 892.8 978.5 889.8 977.5 887.8 976.0 885.0 971.8 883.4 965.8 883.5 957.8 885.6 948.8 889.8 939.4 894.8 932.9 896.8 931.3 899.7 929.8M899.3 932.8 901.8 932.3 904.1 932.8 906.8 934.8 908.2 936.8 909.6 940.8 910.3 944.8 909.9 954.8 907.6 963.8 903.7 970.8 901.8 973.0 898.8 975.3 895.8 976.6 892.8 976.7 890.8 976.0 888.8 974.7 887.2 972.8 885.8 970.1 884.5 963.8 884.9 956.8 887.0 948.8 890.8 940.9 894.8 935.8 899.3 932.8M898.4 935.8 900.8 935.1 902.8 935.3 904.8 936.4 906.8 938.9 908.0 941.8 908.8 945.8 908.7 954.8 906.8 962.8 903.0 969.8 898.8 973.7 895.8 975.0 893.8 975.1 891.8 974.7 889.8 973.5 887.1 969.8 885.8 964.8 885.8 958.8 887.3 951.8 890.2 944.8 893.8 939.5 895.8 937.5 898.4 935.8M900.2 937.8 901.8 937.9 903.8 938.8 905.5 940.8 906.8 943.7 907.8 949.8 907.1 957.8 904.8 964.8 901.6 969.8 899.4 971.8 896.8 973.2 894.8 973.6 892.8 973.4 889.8 971.5 888.6 969.8 887.3 966.8 886.7 961.8 887.3 955.8 889.6 948.8 892.8 943.2 896.8 939.1 900.2 937.8M898.0 940.8 899.8 940.3 901.8 940.5 903.6 941.8 904.8 943.4 906.4 948.8 906.4 955.8 904.6 962.8 901.8 967.8 897.8 971.3 895.8 972.0 893.8 972.0 890.8 970.5 888.8 967.5 887.8 962.8 888.0 957.8 889.6 951.8 891.8 947.1 894.8 943.1 898.0 940.8M898.7 942.8 901.8 943.2 903.4 944.8 904.4 946.8 905.4 951.8 905.0 957.8 903.5 962.8 900.8 967.3 897.8 969.8 895.8 970.5 893.8 970.5 891.8 969.5 889.8 966.8 888.8 962.8 889.0 957.8 890.3 952.8 892.8 947.8 895.8 944.4 898.7 942.8M896.8 945.8 899.8 945.0 901.5 945.8 902.5 946.8 904.0 950.8 904.2 955.8 903.2 960.8 900.8 965.5 897.8 968.3 894.8 969.1 892.8 968.3 890.8 965.9 889.9 962.8 889.8 959.8 890.5 955.8 891.9 951.8 893.8 948.7 896.8 945.8M897.2 947.8 899.8 947.5 901.8 949.2 902.9 952.8 903.0 956.8 901.8 961.4 899.9 964.8 897.8 966.7 894.8 967.4 892.8 966.3 891.8 964.8 891.0 961.8 891.0 958.8 892.8 952.7 894.8 949.7 897.2 947.8M896.1 950.8 897.8 949.9 899.8 950.3 901.4 952.8 901.8 955.8 901.1 959.8 899.8 962.7 897.8 964.8 895.8 965.5 893.8 964.8 893.0 963.8 892.2 959.8 893.3 954.8 894.8 952.1 896.1 950.8M897.7 952.8 898.8 953.1 899.8 954.5 899.8 958.8 897.8 962.4 895.8 963.1 894.8 962.6 893.9 960.8 893.9 957.8 895.8 953.8 897.7 952.8" fill="none" stroke="#505050" stroke-width="0.7"/><path d="M896.5 1016.1h2.9v2.9h-2.9zM904.0 1012.2h2.9v2.9h-2.9zM912.7 989.1h2.9v2.9h-2.9zM895.5 1015.5h2.9v2.9h-2.9zM896.3 1009.5h2.9v2.9h-2.9zM877.4 1005.3h2.9v2.9h-2.9zM887.5 1024.9h2.9v2.9h-2.9zM905.4 1014.9h2.9v2.9h-2.9zM896.0 1010.9h2.9v2.9h-2.9zM903.1 999.4h2.9v2.9h-2.9zM891.6 1002.2h2.9v2.9h-2.9zM890.5 996.4h2.9v2.9h-2.9zM893.7 994.8h2.9v2.9h-2.9zM904.8 996.0h2.9v2.9h-2.9zM895.1 1000.6h2.9v2.9h-2.9zM898.5 997.1h2.9v2.9h-2.9zM897.5 1025.4h2.9v2.9h-2.9zM900.6 996.7h2.9v2.9h-2.9zM906.1 1002.0h2.9v2.9h-2.9zM902.5 1010.9h2.9v2.9h-2.9zM893.1 1010.2h2.9v2.9h-2.9zM892.7 1008.8h2.9v2.9h-2.9zM906.3 997.0h2.9v2.9h-2.9zM908.9 1023.0h2.9v2.9h-2.9zM907.3 1017.5h2.9v2.9h-2.9zM898.4 1003.6h2.9v2.9h-2.9zM902.6 992.7h2.9v2.9h-2.9zM881.0 993.0h2.9v2.9h-2.9zM900.3 1009.2h2.9v2.9h-2.9zM893.4 1001.3h2.9v2.9h-2.9zM896.1 1011.6h2.9v2.9h-2.9zM908.8 1006.3h2.9v2.9h-2.9zM902.7 990.4h2.9v2.9h-2.9zM884.8 1006.4h2.9v2.9h-2.9zM903.2 1012.3h2.9v2.9h-2.9zM902.5 1013.0h2.9v2.9h-2.9zM889.2 1009.0h2.9v2.9h-2.9zM908.3 998.3h2.9v2.9h-2.9zM894.2 1006.8h2.9v2.9h-2.9zM904.0 986.4h2.9v2.9h-2.9zM906.4 1004.5h2.9v2.9h-2.9zM888.8 1000.2h2.9v2.9h-2.9zM874.7 995.8h2.9v2.9h-2.9zM898.4 995.0h2.9v2.9h-2.9zM893.3 1001.8h2.9v2.9h-2.9zM897.0 1015.8h2.9v2.9h-2.9zM896.3 1000.4h2.9v2.9h-2.9zM901.9 1028.5h2.9v2.9h-2.9zM893.1 1009.7h2.9v2.9h-2.9zM880.8 1019.7h2.9v2.9h-2.9zM903.1 1019.5h2.9v2.9h-2.9zM896.0 991.0h2.9v2.9h-2.9zM905.4 1012.6h2.9v2.9h-2.9zM901.0 1001.5h2.9v2.9h-2.9zM891.3 1002.2h2.9v2.9h-2.9zM913.0 1002.0h2.9v2.9h-2.9zM902.4 1011.4h2.9v2.9h-2.9zM899.1 998.9h2.9v2.9h-2.9zM899.6 1008.1h2.9v2.9h-2.9zM889.7 1011.0h2.9v2.9h-2.9zM893.5 1002.2h2.9v2.9h-2.9zM884.9 1007.5h2.9v2.9h-2.9zM907.1 1009.0h2.9v2.9h-2.9zM898.8 1013.5h2.9v2.9h-2.9zM900.6 989.8h2.9v2.9h-2.9zM894.5 1019.0h2.9v2.9h-2.9zM885.2 1004.3h2.9v2.9h-2.9zM892.7 992.8h2.9v2.9h-2.9zM886.4 1004.8h2.9v2.9h-2.9zM899.7 1007.3h2.9v2.9h-2.9zM882.1 1000.1h2.9v2.9h-2.9zM900.0 1014.9h2.9v2.9h-2.9zM903.3 1013.5h2.9v2.9h-2.9zM907.5 1013.4h2.9v2.9h-2.9zM888.4 1004.2h2.9v2.9h-2.9zM890.7 1021.8h2.9v2.9h-2.9zM896.1 1008.4h2.9v2.9h-2.9zM893.8 1002.6h2.9v2.9h-2.9zM909.2 1013.1h2.9v2.9h-2.9zM895.7 1014.2h2.9v2.9h-2.9zM907.3 1000.9h2.9v2.9h-2.9zM899.2 1006.6h2.9v2.9h-2.9zM889.9 1017.4h2.9v2.9h-2.9zM894.9 996.1h2.9v2.9h-2.9zM911.8 989.9h2.9v2.9h-2.9zM900.8 999.1h2.9v2.9h-2.9zM901.7 1010.8h2.9v2.9h-2.9zM888.8 1000.0h2.9v2.9h-2.9zM897.5 1004.9h2.9v2.9h-2.9zM896.3 999.8h2.9v2.9h-2.9zM902.8 1019.4h2.9v2.9h-2.9zM902.0 994.7h2.9v2.9h-2.9zM900.5 1004.3h2.9v2.9h-2.9zM901.2 1025.7h2.9v2.9h-2.9zM894.4 1003.4h2.9v2.9h-2.9zM887.7 1000.1h2.9v2.9h-2.9zM890.9 1022.7h2.9v2.9h-2.9zM899.6 996.7h2.9v2.9h-2.9zM915.8 987.6h2.9v2.9h-2.9zM905.2 1015.7h2.9v2.9h-2.9zM902.3 1000.4h2.9v2.9h-2.9zM895.3 999.4h2.9v2.9h-2.9zM891.4 1005.4h2.9v2.9h-2.9zM894.1 994.5h2.9v2.9h-2.9zM904.6 1020.3h2.9v2.9h-2.9zM894.6 992.5h2.9v2.9h-2.9zM903.4 1023.8h2.9v2.9h-2.9zM899.7 1028.0h2.9v2.9h-2.9zM911.7 1011.9h2.9v2.9h-2.9zM887.9 1006.1h2.9v2.9h-2.9zM883.2 1017.4h2.9v2.9h-2.9zM898.9 1021.5h2.9v2.9h-2.9zM904.4 1016.4h2.9v2.9h-2.9zM914.6 993.6h2.9v2.9h-2.9zM888.8 1006.1h2.9v2.9h-2.9zM891.6 992.9h2.9v2.9h-2.9zM893.2 1004.9h2.9v2.9h-2.9zM910.5 1016.2h2.9v2.9h-2.9zM905.5 1005.3h2.9v2.9h-2.9zM899.1 997.1h2.9v2.9h-2.9zM893.0 1016.9h2.9v2.9h-2.9zM894.4 1003.6h2.9v2.9h-2.9zM896.7 1009.3h2.9v2.9h-2.9zM905.8 1010.6h2.9v2.9h-2.9zM907.7 1008.2h2.9v2.9h-2.9zM892.1 1023.2h2.9v2.9h-2.9zM898.6 1014.1h2.9v2.9h-2.9zM895.3 996.5h2.9v2.9h-2.9zM917.9 1008.9h2.9v2.9h-2.9zM912.3 1010.9h2.9v2.9h-2.9zM875.2 1019.4h2.9v2.9h-2.9zM904.6 1012.2h2.9v2.9h-2.9zM897.9 1004.1h2.9v2.9h-2.9zM901.6 1006.4h2.9v2.9h-2.9zM898.1 1013.4h2.9v2.9h-2.9zM891.0 1014.7h2.9v2.9h-2.9zM909.0 994.3h2.9v2.9h-2.9zM905.2 1013.7h2.9v2.9h-2.9zM890.0 997.7h2.9v2.9h-2.9zM892.3 1006.0h2.9v2.9h-2.9zM892.8 1021.9h2.9v2.9h-2.9zM909.9 1002.2h2.9v2.9h-2.9zM888.6 1003.4h2.9v2.9h-2.9zM896.8 995.5h2.9v2.9h-2.9zM893.2 1011.1h2.9v2.9h-2.9zM906.4 1005.2h2.9v2.9h-2.9zM908.1 1003.4h2.9v2.9h-2.9zM901.0 1023.3h2.9v2.9h-2.9zM886.3 1015.6h2.9v2.9h-2.9zM898.7 1002.0h2.9v2.9h-2.9zM860.5 944.5h2.9v2.9h-2.9zM872.5 928.5h2.9v2.9h-2.9zM874.5 943.5h2.9v2.9h-2.9zM878.5 923.5h2.9v2.9h-2.9zM908.5 908.5h2.9v2.9h-2.9zM913.5 911.5h2.9v2.9h-2.9zM917.5 915.5h2.9v2.9h-2.9zM921.5 930.5h2.9v2.9h-2.9zM923.5 950.5h2.9v2.9h-2.9zM922.5 958.5h2.9v2.9h-2.9zM927.5 966.5h2.9v2.9h-2.9zM929.5 982.5h2.9v2.9h-2.9zM936.5 979.5h2.9v2.9h-2.9zM937.5 964.5h2.9v2.9h-2.9zM948.5 955.5h2.9v2.9h-2.9zM955.5 949.5h2.9v2.9h-2.9zM967.5 946.5h2.9v2.9h-2.9zM975.5 944.5h2.9v2.9h-2.9zM980.5 965.5h2.9v2.9h-2.9zM981.5 972.5h2.9v2.9h-2.9zM951.5 1015.5h2.9v2.9h-2.9zM877.5 1070.5h2.9v2.9h-2.9zM1051.5 981.5h2.9v2.9h-2.9z" fill="#000"/><rect x="932" y="909.7" width="114.5" height="124.2" fill="none" stroke="#548235" stroke-width="3.2"/><text x="1033.5" y="1021" font-size="26" text-anchor="end" fill="#107a3c">0.15</text><line x1="578" y1="974" x2="578" y2="911.6" stroke="#000" stroke-width="2"/><path d="M578 901.6L572 913.6L578 910.6L584 913.6Z" fill="#000"/><text x="587" y="1118" font-size="26" transform="rotate(-90 587 1118)">CD8-BV785</text><text x="609.4" y="1156.5" font-size="26">TNF-FITC</text><line x1="735" y1="1146.8" x2="813.2" y2="1146.8" stroke="#000" stroke-width="2"/><path d="M823.2 1146.8L811.2 1140.8L814.2 1146.8L811.2 1152.8Z" fill="#000"/><text x="839.4" y="1156.5" font-size="26">IFN-γ-APC</text><line x1="970.6" y1="1146.8" x2="1045.5" y2="1146.8" stroke="#000" stroke-width="2"/><path d="M1055.5 1146.8L1043.5 1140.8L1046.5 1146.8L1043.5 1152.8Z" fill="#000"/><rect x="609.3" y="1204.5" width="214.7" height="215.5" fill="none" stroke="#444" stroke-width="1.2"/><line x1="609.3" y1="1204.5" x2="609.3" y2="1420" stroke="#222" stroke-width="1.4"/><line x1="609.3" y1="1420" x2="824" y2="1420" stroke="#222" stroke-width="1.4"/><path d="M609.3 1317.5h-4M609.3 1307.3h-4M609.3 1300.1h-4M609.3 1294.5h-4M609.3 1289.9h-4M609.3 1286.0h-4M609.3 1282.6h-4M609.3 1279.7h-4M609.3 1261.2h-4M609.3 1252.0h-4M609.3 1245.4h-4M609.3 1240.3h-4M609.3 1236.1h-4M609.3 1232.6h-4M609.3 1229.6h-4M609.3 1226.9h-4M609.3 1208.7h-4M609.3 1359.8h-4M609.3 1353.8h-4M609.3 1349.6h-4M609.3 1346.3h-4M609.3 1343.6h-4M609.3 1341.3h-4M609.3 1339.3h-4M609.3 1337.6h-4M609.3 1380.2h-4M609.3 1386.2h-4M609.3 1390.4h-4M609.3 1393.7h-4M609.3 1396.4h-4M609.3 1398.7h-4M609.3 1400.7h-4M609.3 1402.4h-4" fill="none" stroke="#222" stroke-width="1.1"/><path d="M609.3 1405.0h-7M609.3 1335.0h-7M609.3 1277.0h-7M609.3 1224.5h-7M609.3 1368.7h-6M609.3 1370.0h-6M609.3 1371.3h-6" fill="none" stroke="#222" stroke-width="1.5"/><path d="M710.7 1420.0v4M720.9 1420.0v4M728.1 1420.0v4M733.7 1420.0v4M738.2 1420.0v4M742.1 1420.0v4M745.4 1420.0v4M748.4 1420.0v4M766.6 1420.0v4M775.7 1420.0v4M782.1 1420.0v4M787.1 1420.0v4M791.2 1420.0v4M794.7 1420.0v4M797.7 1420.0v4M800.3 1420.0v4M818.3 1420.0v4M667.6 1420.0v4M673.8 1420.0v4M678.3 1420.0v4M681.7 1420.0v4M684.5 1420.0v4M686.8 1420.0v4M688.9 1420.0v4M690.7 1420.0v4M646.8 1420.0v4M640.8 1420.0v4M636.5 1420.0v4M633.2 1420.0v4M630.5 1420.0v4M628.2 1420.0v4M626.3 1420.0v4M624.5 1420.0v4" fill="none" stroke="#222" stroke-width="1.1"/><path d="M621.9 1420.0v7M693.4 1420.0v7M751.0 1420.0v7M802.7 1420.0v7M655.7 1420.0v6M657.0 1420.0v6M658.3 1420.0v6" fill="none" stroke="#222" stroke-width="1.5"/><path d="M746.6 1245.2 753.0 1245.4 757.0 1247.0 759.8 1250.2 760.6 1254.2 760.2 1257.2 757.3 1265.2 756.9 1268.2 759.5 1282.2 759.7 1288.2 759.2 1293.2 756.7 1302.2 749.7 1316.2 748.8 1321.2 748.0 1335.2 747.1 1339.2 745.4 1343.2 742.6 1347.2 738.0 1350.8 720.0 1359.5 714.0 1361.9 707.0 1363.4 701.0 1363.7 694.0 1362.8 688.0 1360.7 683.0 1357.6 678.8 1353.2 676.3 1348.2 675.7 1343.2 676.9 1338.2 680.0 1333.2 684.0 1329.4 691.5 1324.2 694.0 1321.0 694.3 1317.2 692.2 1306.2 691.7 1299.2 692.6 1292.2 694.5 1287.2 696.5 1284.2 699.0 1281.8 708.0 1276.9 711.0 1274.4 719.2 1260.2 722.0 1256.7 725.0 1254.0 730.0 1250.8 735.0 1248.5 741.0 1246.4 746.6 1245.2M745.4 1247.2 749.0 1246.9 753.0 1247.5 756.0 1249.2 757.9 1252.2 758.3 1254.2 758.0 1257.2 755.1 1265.2 754.5 1268.2 757.0 1280.2 757.4 1287.2 756.8 1293.2 755.1 1299.2 752.6 1304.2 747.5 1312.2 745.9 1316.2 745.2 1320.2 744.4 1332.2 742.2 1339.2 739.6 1343.2 736.0 1346.4 721.0 1356.1 714.0 1359.5 708.0 1361.1 701.0 1361.6 695.0 1360.8 689.0 1358.7 684.0 1355.3 680.6 1351.2 678.7 1346.2 678.7 1342.2 680.3 1337.2 683.4 1333.2 688.0 1329.5 695.1 1325.2 697.7 1322.2 698.1 1318.2 696.1 1308.2 695.5 1302.2 696.1 1296.2 697.8 1291.2 699.8 1288.2 702.0 1286.1 710.0 1281.4 712.4 1279.2 714.8 1275.2 719.8 1264.2 722.5 1260.2 725.3 1257.2 730.0 1253.5 735.0 1250.7 740.0 1248.6 745.4 1247.2M743.6 1249.2 748.0 1248.6 751.7 1249.2 754.0 1250.4 755.9 1253.2 756.1 1257.2 753.0 1265.2 752.5 1268.2 752.7 1271.2 755.1 1281.2 755.4 1288.2 754.4 1294.2 752.6 1299.2 750.0 1303.8 744.4 1311.2 742.9 1314.2 742.0 1318.2 740.9 1330.2 739.0 1336.2 736.3 1340.2 733.2 1343.2 721.0 1353.2 714.0 1357.3 708.0 1359.2 702.0 1359.8 696.0 1359.1 691.0 1357.4 687.0 1355.0 683.3 1351.2 681.4 1347.2 681.1 1342.2 682.5 1338.2 686.0 1333.7 690.0 1330.7 698.5 1326.2 701.2 1323.2 701.6 1319.2 699.5 1309.2 699.0 1304.2 699.4 1299.2 701.0 1294.5 704.3 1290.2 712.0 1285.4 714.0 1283.5 716.0 1279.9 721.4 1266.2 723.9 1262.2 726.4 1259.2 730.0 1256.0 735.0 1252.7 739.0 1250.7 743.6 1249.2M745.7 1250.2 749.0 1250.2 751.0 1250.7 753.1 1252.2 754.3 1254.2 754.2 1258.2 751.4 1265.2 750.7 1268.2 751.0 1271.2 753.5 1281.2 753.6 1289.2 752.6 1294.2 750.6 1299.2 747.9 1303.2 741.7 1310.2 740.1 1313.2 739.1 1317.2 738.1 1328.2 736.0 1334.2 733.1 1338.2 721.5 1350.2 717.9 1353.2 714.0 1355.5 708.0 1357.7 702.0 1358.3 696.0 1357.6 691.0 1355.6 687.0 1352.8 684.3 1349.2 683.1 1345.2 683.3 1341.2 685.2 1337.2 688.0 1334.2 692.0 1331.5 701.3 1327.2 703.0 1325.9 704.3 1324.2 704.6 1320.2 702.5 1311.2 701.9 1306.2 702.3 1301.2 703.7 1297.2 706.8 1293.2 713.2 1289.2 716.0 1286.3 717.4 1283.2 721.5 1270.2 724.0 1265.2 727.0 1261.2 731.1 1257.2 736.0 1253.8 741.0 1251.4 745.7 1250.2M742.3 1252.2 746.0 1251.4 749.0 1251.7 751.7 1253.2 752.7 1255.2 752.4 1259.2 749.9 1265.2 749.2 1268.2 749.5 1271.2 752.1 1281.2 752.3 1288.2 751.1 1294.2 748.7 1299.2 746.0 1302.6 739.1 1309.2 737.4 1312.2 736.6 1315.2 735.6 1326.2 734.0 1331.1 732.0 1334.2 726.0 1340.9 720.8 1348.2 717.8 1351.2 714.0 1353.9 709.0 1356.0 704.0 1357.0 698.0 1356.7 693.0 1355.1 688.6 1352.2 685.6 1348.2 684.8 1345.2 684.7 1343.2 685.9 1339.2 688.1 1336.2 691.9 1333.2 703.9 1328.2 706.7 1326.2 707.5 1324.2 707.6 1322.2 705.2 1312.2 704.6 1307.2 704.9 1303.2 706.0 1299.9 708.8 1296.2 715.0 1292.2 717.7 1289.2 719.0 1285.6 722.4 1272.2 724.7 1267.2 727.3 1263.2 731.0 1259.2 734.6 1256.2 739.0 1253.5 742.3 1252.2M743.8 1253.2 748.1 1253.2 750.0 1254.3 751.0 1256.2 750.8 1259.2 748.2 1265.2 747.6 1268.2 747.9 1271.2 750.3 1279.2 751.0 1284.2 750.6 1290.2 748.5 1296.2 744.7 1301.2 736.7 1307.2 734.9 1309.2 733.8 1312.2 733.0 1322.2 731.8 1327.2 730.0 1330.3 724.0 1336.9 720.3 1345.2 717.4 1349.2 712.2 1353.2 706.0 1355.4 699.0 1355.5 693.0 1353.5 689.0 1350.4 687.1 1347.2 686.5 1343.2 687.3 1340.2 690.0 1336.5 694.0 1333.7 699.0 1331.7 708.0 1329.2 710.7 1327.2 711.3 1325.2 711.1 1323.2 708.4 1314.2 707.7 1310.2 707.7 1306.2 708.5 1303.2 711.0 1299.6 717.0 1295.9 719.5 1293.2 720.5 1290.2 723.0 1275.2 724.9 1270.2 727.9 1265.2 731.2 1261.2 735.7 1257.2 740.0 1254.5 743.8 1253.2M741.8 1255.2 745.0 1254.5 747.0 1254.8 748.0 1255.3 749.2 1257.2 749.1 1259.2 746.6 1265.2 746.0 1268.2 746.4 1271.2 748.8 1278.2 749.6 1282.2 749.6 1287.2 748.9 1291.2 747.0 1295.7 744.0 1299.5 740.0 1302.3 733.0 1305.4 731.0 1307.2 730.2 1310.2 729.8 1321.2 729.0 1323.9 727.7 1326.2 724.0 1329.1 721.0 1330.0 719.0 1329.9 717.0 1327.4 712.0 1316.4 710.8 1311.2 711.1 1307.2 712.0 1304.9 713.4 1303.2 715.0 1302.0 720.9 1299.2 722.3 1297.2 722.8 1294.2 723.0 1285.2 723.6 1279.2 724.9 1274.2 727.2 1269.2 730.0 1265.0 734.4 1260.2 738.0 1257.2 741.8 1255.2M703.2 1332.2 711.0 1331.4 717.0 1331.5 718.5 1333.2 719.3 1336.2 719.4 1340.2 718.8 1343.2 717.5 1346.2 715.2 1349.2 710.0 1352.8 704.0 1354.4 700.0 1354.3 697.0 1353.7 693.0 1351.9 690.0 1349.2 688.4 1346.2 688.3 1342.2 690.0 1338.7 693.0 1335.9 697.0 1333.8 703.2 1332.2M741.0 1257.2 745.0 1256.5 746.5 1257.2 747.0 1258.2 746.9 1260.2 744.8 1265.2 744.3 1268.2 744.9 1271.2 748.2 1281.2 748.5 1285.2 748.1 1289.2 746.0 1294.6 744.0 1297.2 742.0 1299.0 737.0 1301.2 732.0 1301.4 730.0 1300.8 728.0 1299.3 725.9 1295.2 724.5 1286.2 725.1 1278.2 727.0 1272.6 730.0 1267.6 736.0 1260.8 741.0 1257.2M717.0 1307.2 719.0 1306.5 722.0 1306.9 723.7 1308.2 725.0 1310.3 726.0 1314.2 726.0 1318.2 725.0 1320.7 723.0 1322.3 721.0 1322.3 719.0 1321.1 717.0 1318.7 715.7 1316.2 714.9 1311.2 715.4 1309.2 717.0 1307.2M700.0 1334.2 705.0 1333.5 710.0 1333.8 713.8 1335.2 715.7 1337.2 716.8 1340.2 716.4 1344.2 714.9 1347.2 711.9 1350.2 707.0 1352.6 701.0 1353.2 698.0 1352.7 695.0 1351.6 692.9 1350.2 691.1 1348.2 690.1 1346.2 689.7 1344.2 690.7 1340.2 694.0 1336.8 700.0 1334.2M739.9 1260.2 743.0 1259.2 744.0 1260.2 742.6 1265.2 742.5 1268.2 746.8 1280.2 747.3 1284.2 747.2 1287.2 745.7 1292.2 742.8 1296.2 739.0 1298.6 736.0 1299.1 734.0 1299.0 732.0 1298.3 730.0 1296.9 727.6 1293.2 726.0 1287.2 726.1 1280.2 727.4 1275.2 730.0 1270.3 735.0 1264.6 739.9 1260.2M701.5 1335.2 706.0 1335.0 710.0 1335.8 713.0 1337.8 714.4 1340.2 714.7 1343.2 713.0 1347.1 710.0 1349.9 707.0 1351.3 702.0 1352.1 698.0 1351.5 694.0 1349.3 691.7 1346.2 691.3 1344.2 691.5 1342.2 693.3 1339.2 697.0 1336.6 701.5 1335.2M735.9 1267.2 738.0 1266.6 739.0 1267.0 740.0 1268.4 744.6 1277.2 745.8 1281.2 746.1 1284.2 745.5 1289.2 743.5 1293.2 741.0 1295.6 737.0 1297.1 733.0 1296.3 730.0 1293.6 727.9 1289.2 727.2 1284.2 727.6 1279.2 729.3 1274.2 732.0 1270.3 735.9 1267.2M698.8 1337.2 702.0 1336.4 705.0 1336.4 708.0 1337.0 710.4 1338.2 712.2 1340.2 712.7 1342.2 712.2 1345.2 711.0 1347.2 707.0 1350.0 703.0 1350.9 698.2 1350.2 695.0 1348.3 693.0 1345.2 693.2 1342.2 695.3 1339.2 698.8 1337.2M733.9 1271.2 737.0 1270.3 740.0 1272.2 743.3 1277.2 744.8 1282.2 744.8 1286.2 743.7 1290.2 741.0 1293.6 738.0 1295.0 735.0 1294.9 732.0 1293.1 730.0 1290.2 728.7 1286.2 728.6 1281.2 729.5 1277.2 731.0 1274.2 733.9 1271.2M700.1 1338.2 703.0 1337.8 706.0 1338.1 708.0 1338.8 709.7 1340.2 710.8 1343.2 710.3 1345.2 708.8 1347.2 706.0 1348.9 702.0 1349.6 699.0 1349.1 696.0 1347.2 694.8 1345.2 695.0 1342.2 697.0 1339.7 700.1 1338.2M734.9 1273.2 737.0 1273.0 740.0 1274.9 742.2 1278.2 743.5 1282.2 743.5 1286.2 742.5 1289.2 741.0 1291.4 738.0 1293.1 735.0 1292.8 733.0 1291.5 731.0 1288.7 730.0 1285.2 729.9 1281.2 731.0 1277.3 733.0 1274.4 734.9 1273.2M699.3 1340.2 703.0 1339.3 706.5 1340.2 708.3 1342.2 708.5 1343.2 708.0 1345.2 706.0 1347.1 704.0 1347.9 701.0 1348.0 698.8 1347.2 696.9 1345.2 696.7 1343.2 697.9 1341.2 699.3 1340.2" fill="none" stroke="#8c8c8c" stroke-width="0.7"/><path d="M744.9 1245.2 751.6 1244.4 756.6 1245.6 759.0 1247.2 760.5 1249.2 761.3 1251.2 761.5 1254.2 760.9 1257.2 758.8 1261.2 753.6 1266.6 746.6 1270.4 742.6 1271.5 735.6 1272.6 734.3 1273.2 733.6 1274.2 733.6 1276.2 735.9 1285.2 739.8 1305.2 740.4 1312.2 739.7 1318.2 736.2 1330.2 734.4 1342.2 733.0 1347.2 730.8 1352.2 728.0 1356.2 724.6 1359.5 719.6 1362.6 715.6 1364.0 710.6 1364.8 705.6 1364.4 700.6 1363.0 693.6 1359.7 687.6 1355.4 684.3 1351.2 683.3 1347.2 683.5 1344.2 686.0 1332.2 688.0 1326.2 690.9 1321.2 698.2 1313.2 699.7 1310.2 699.7 1307.2 697.0 1298.2 696.0 1292.2 696.3 1285.2 698.0 1279.2 700.0 1275.2 702.2 1272.2 705.6 1269.1 708.6 1267.2 714.6 1265.5 723.6 1265.8 725.6 1265.3 726.6 1264.2 730.2 1256.2 733.3 1252.2 738.6 1247.9 744.9 1245.2M749.1 1246.2 751.6 1246.3 754.6 1247.0 756.6 1248.2 758.4 1250.2 759.2 1252.2 759.3 1255.2 758.4 1258.2 756.7 1261.2 751.6 1266.0 748.6 1267.8 744.6 1269.3 741.6 1269.9 737.6 1270.0 734.6 1269.4 732.1 1268.2 730.6 1266.1 730.2 1262.2 731.3 1258.2 733.7 1254.2 736.7 1251.2 740.6 1248.6 744.6 1247.0 749.1 1246.2M713.8 1268.2 718.6 1268.1 724.6 1269.8 727.6 1271.7 730.0 1275.2 732.3 1280.2 734.0 1286.2 738.0 1307.2 738.2 1313.2 737.2 1319.2 733.5 1330.2 731.3 1344.2 728.4 1351.2 724.6 1356.0 719.6 1359.6 713.6 1361.7 707.6 1362.0 703.6 1361.4 698.6 1359.8 690.6 1355.6 688.0 1353.2 686.6 1351.2 685.7 1349.2 685.4 1346.2 688.9 1331.2 690.9 1326.2 694.6 1320.8 701.6 1314.2 703.1 1311.2 702.9 1308.2 699.2 1298.2 698.2 1293.2 698.2 1287.2 699.5 1281.2 702.0 1276.2 705.5 1272.2 709.6 1269.5 713.8 1268.2M745.8 1248.2 748.6 1247.8 751.6 1248.0 753.6 1248.7 755.7 1250.2 757.0 1252.2 757.4 1254.2 757.2 1256.2 756.1 1259.2 752.6 1263.5 749.6 1265.6 746.6 1267.1 740.6 1268.3 737.6 1268.0 735.6 1267.2 733.6 1265.6 732.5 1263.2 732.6 1260.2 733.7 1257.2 735.7 1254.2 738.6 1251.6 741.6 1249.7 745.8 1248.2M711.1 1271.2 715.6 1270.2 720.6 1270.9 725.1 1273.2 728.6 1277.3 731.0 1282.2 732.2 1286.2 736.0 1307.2 736.3 1312.2 735.4 1318.2 731.1 1330.2 729.3 1343.2 726.4 1350.2 723.2 1354.2 718.6 1357.6 713.6 1359.4 707.6 1359.9 700.6 1358.7 695.6 1356.8 692.6 1355.1 688.6 1351.2 687.6 1349.2 687.3 1346.2 691.2 1331.2 693.5 1326.2 696.6 1322.1 703.7 1316.2 706.0 1313.2 706.4 1311.2 706.0 1309.2 701.9 1300.2 700.3 1295.2 699.8 1291.2 700.0 1287.2 701.1 1282.2 703.7 1277.2 706.6 1273.9 711.1 1271.2M747.8 1249.2 750.6 1249.3 752.6 1250.0 755.0 1252.2 755.7 1254.2 755.6 1256.2 753.9 1260.2 750.6 1263.5 745.6 1266.1 740.6 1266.9 736.6 1265.7 735.0 1264.2 734.2 1261.2 734.4 1259.2 735.8 1256.2 737.6 1254.0 740.6 1251.6 744.6 1249.8 747.8 1249.2M713.8 1272.2 718.6 1272.2 722.6 1273.7 725.7 1276.2 728.5 1280.2 730.1 1284.2 731.1 1288.2 734.4 1307.2 734.6 1313.2 733.6 1318.2 729.6 1328.2 727.7 1342.2 726.4 1346.2 724.9 1349.2 721.6 1353.2 716.6 1356.6 711.6 1358.1 705.6 1358.2 698.6 1356.7 692.6 1353.6 689.6 1350.2 688.8 1346.2 692.8 1332.2 695.0 1327.2 698.6 1322.7 706.1 1317.2 708.6 1314.2 709.0 1312.2 708.3 1309.2 704.0 1301.2 702.1 1296.2 701.3 1291.2 701.4 1287.2 703.1 1281.2 705.7 1277.2 709.6 1273.8 713.8 1272.2M743.9 1251.2 748.6 1250.4 751.7 1251.2 753.7 1253.2 754.2 1255.2 754.0 1257.2 751.6 1261.2 747.6 1264.1 743.6 1265.5 739.1 1265.2 737.3 1264.2 735.9 1262.2 735.7 1260.2 736.2 1258.2 739.0 1254.2 743.9 1251.2M712.2 1274.2 716.6 1273.5 720.6 1274.4 724.6 1277.2 727.5 1281.2 729.9 1288.2 733.0 1307.2 733.2 1312.2 732.0 1318.2 727.9 1327.2 726.4 1341.2 725.2 1345.2 723.7 1348.2 720.6 1352.1 716.6 1355.0 711.6 1356.7 705.6 1357.0 698.6 1355.6 693.8 1353.2 691.0 1350.2 690.2 1348.2 690.0 1346.2 694.3 1332.2 696.8 1327.2 700.5 1323.2 708.3 1318.2 710.9 1315.2 711.3 1313.2 710.8 1310.2 704.1 1298.2 702.9 1294.2 702.5 1289.2 703.4 1284.2 705.1 1280.2 708.6 1276.2 712.2 1274.2M744.9 1252.2 748.6 1251.9 751.5 1253.2 752.5 1255.2 752.0 1258.2 749.8 1261.2 746.6 1263.3 742.6 1264.2 739.6 1263.6 738.6 1262.9 737.6 1261.2 737.8 1258.2 740.6 1254.5 744.9 1252.2M714.5 1275.2 718.6 1275.4 721.6 1276.7 724.6 1279.3 727.0 1283.2 728.9 1290.2 729.9 1299.2 731.5 1308.2 731.5 1313.2 730.4 1317.2 725.9 1326.2 725.0 1340.2 723.9 1344.2 721.9 1348.2 718.6 1351.8 714.6 1354.3 709.6 1355.7 703.6 1355.7 698.6 1354.5 694.3 1352.2 691.9 1349.2 691.4 1346.2 696.0 1332.2 698.6 1327.5 702.6 1323.7 710.9 1319.2 712.6 1317.6 713.4 1316.2 713.7 1313.2 712.9 1310.2 705.5 1298.2 704.2 1294.2 703.8 1289.2 704.7 1284.2 706.8 1280.2 710.6 1276.6 714.5 1275.2M743.3 1254.2 746.6 1253.3 748.6 1253.5 750.5 1255.2 750.7 1257.2 749.8 1259.2 747.6 1261.3 745.6 1262.3 742.6 1262.7 740.7 1262.2 739.6 1261.2 739.2 1259.2 740.7 1256.2 743.3 1254.2M712.6 1277.2 715.6 1276.5 719.6 1277.2 722.7 1279.2 725.7 1283.2 726.9 1286.2 727.7 1290.2 728.6 1300.2 729.9 1308.2 729.9 1312.2 728.6 1316.8 724.3 1323.2 723.7 1325.2 723.7 1339.2 722.8 1343.2 720.8 1347.2 717.6 1350.9 713.6 1353.3 708.6 1354.6 703.6 1354.7 699.6 1353.8 695.6 1351.9 693.2 1349.2 692.6 1346.2 697.6 1332.2 699.9 1328.2 704.6 1324.3 714.0 1320.2 715.1 1319.2 716.1 1317.2 716.1 1314.2 715.0 1310.2 713.4 1307.2 706.9 1298.2 705.7 1295.2 705.0 1291.2 705.4 1286.2 707.0 1282.2 709.6 1279.0 712.6 1277.2M745.1 1255.2 747.6 1255.3 748.4 1256.2 748.3 1258.2 747.6 1259.2 745.6 1260.6 742.6 1260.7 741.6 1259.8 741.5 1258.2 743.1 1256.2 745.1 1255.2M713.8 1278.2 717.6 1278.0 721.6 1279.9 724.3 1283.2 726.2 1288.2 728.1 1311.2 726.6 1315.8 724.6 1318.0 722.6 1319.0 721.6 1319.1 720.4 1318.2 716.7 1309.2 708.8 1299.2 707.2 1296.2 706.3 1293.2 706.2 1288.2 707.6 1283.6 710.2 1280.2 713.8 1278.2M712.9 1323.2 716.6 1322.7 718.6 1323.0 719.6 1323.8 720.6 1325.9 722.0 1331.2 722.5 1336.2 721.9 1341.2 720.5 1345.2 718.6 1348.0 716.5 1350.2 713.6 1352.0 710.6 1353.2 707.6 1353.7 703.6 1353.7 697.6 1352.0 694.5 1349.2 693.8 1346.2 694.3 1344.2 699.6 1331.2 701.8 1328.2 704.6 1326.0 708.6 1324.2 712.9 1323.2M712.3 1280.2 715.6 1279.2 719.6 1280.1 722.6 1282.7 724.6 1286.4 725.7 1292.2 725.8 1308.2 725.3 1311.2 724.6 1312.6 723.6 1313.2 722.6 1313.1 721.6 1312.3 718.0 1307.2 711.6 1300.9 709.5 1298.2 708.0 1295.2 707.1 1290.2 707.7 1286.2 709.6 1282.6 712.3 1280.2M707.5 1326.2 710.6 1325.4 713.6 1325.2 716.6 1326.0 718.1 1327.2 719.6 1329.5 720.7 1333.2 721.1 1337.2 720.6 1341.2 719.5 1344.2 717.7 1347.2 713.6 1350.8 710.6 1352.1 707.6 1352.8 701.6 1352.5 698.6 1351.5 696.6 1350.1 695.3 1348.2 695.1 1345.2 701.2 1331.2 703.9 1328.2 707.5 1326.2M713.2 1281.2 716.6 1280.6 719.6 1281.6 722.3 1284.2 723.7 1287.2 724.6 1292.2 724.3 1297.2 723.1 1303.2 721.6 1305.2 718.6 1304.4 713.6 1301.0 710.6 1297.7 708.9 1294.2 708.2 1290.2 708.9 1286.2 710.6 1283.2 713.2 1281.2M709.5 1327.2 712.6 1327.1 714.6 1327.5 716.6 1328.7 717.8 1330.2 719.2 1333.2 719.7 1336.2 719.6 1339.3 718.6 1343.1 715.6 1347.7 711.6 1350.6 708.6 1351.6 705.6 1352.0 700.2 1351.2 698.3 1350.2 696.5 1348.2 696.2 1346.2 696.6 1344.2 702.6 1331.5 705.6 1328.7 709.5 1327.2M714.4 1282.2 716.6 1282.0 719.6 1283.1 721.6 1285.4 722.9 1288.2 723.4 1292.2 722.9 1297.2 721.6 1300.3 719.6 1301.7 716.6 1301.1 713.6 1299.2 711.1 1296.2 709.7 1293.2 709.4 1289.2 710.2 1286.2 711.6 1284.0 714.4 1282.2M708.1 1329.2 710.6 1328.7 712.6 1328.9 714.6 1329.7 716.3 1331.2 717.6 1333.5 718.3 1336.2 717.8 1341.2 715.3 1346.2 711.6 1349.4 706.6 1351.0 701.6 1350.7 699.6 1349.8 697.9 1348.2 697.6 1345.2 703.2 1333.2 705.6 1330.5 708.1 1329.2M713.5 1284.2 715.6 1283.4 718.6 1284.1 720.6 1286.1 721.6 1288.2 722.2 1291.2 721.8 1295.2 720.6 1297.9 718.6 1299.2 716.6 1299.1 714.6 1298.1 712.6 1296.2 711.0 1293.2 710.6 1291.2 710.8 1288.2 711.6 1286.2 713.5 1284.2M707.6 1331.2 709.6 1330.6 711.6 1330.6 714.7 1332.2 716.1 1334.2 716.7 1336.2 716.4 1341.2 714.4 1345.2 711.3 1348.2 706.6 1350.0 702.6 1349.9 699.5 1348.2 698.9 1347.2 698.9 1345.2 704.3 1334.2 707.6 1331.2M715.4 1285.2 716.7 1285.2 718.7 1286.2 720.1 1288.2 720.7 1290.2 720.6 1293.2 719.9 1295.2 718.6 1296.6 717.6 1296.9 715.6 1296.6 713.8 1295.2 712.5 1293.2 712.0 1291.2 712.0 1289.2 712.7 1287.2 713.6 1286.1 715.4 1285.2M707.8 1333.2 710.6 1332.5 712.6 1333.1 713.6 1334.0 715.1 1337.2 714.7 1341.2 712.6 1345.2 709.6 1347.7 705.6 1349.0 702.6 1348.6 700.7 1347.2 700.6 1344.7 705.6 1335.3 707.8 1333.2M714.6 1288.2 716.6 1287.5 718.5 1289.2 718.8 1292.2 717.6 1294.0 715.6 1293.9 714.1 1292.2 713.8 1290.2 714.6 1288.2M707.8 1336.2 709.6 1335.3 710.6 1335.3 712.0 1336.2 712.9 1338.2 712.6 1341.2 711.0 1344.2 709.0 1346.2 706.6 1347.3 703.7 1347.2 702.6 1346.2 702.8 1344.2 707.8 1336.2" fill="none" stroke="#4848c0" stroke-width="0.7"/><line x1="692.3" y1="1204.5" x2="692.3" y2="1420" stroke="#000" stroke-width="1.6"/><line x1="609.3" y1="1318.4" x2="824" y2="1318.4" stroke="#000" stroke-width="1.6"/><text x="813.5" y="1229.7" font-size="26" text-anchor="end" fill="#1f5c99">70.1</text><text x="813.5" y="1256.5" font-size="26" text-anchor="end" fill="#8a8a8a">63.1</text><rect x="839.4" y="1202.3" width="215.1" height="215.1" fill="none" stroke="#444" stroke-width="1.2"/><line x1="839.4" y1="1202.3" x2="839.4" y2="1417.4" stroke="#222" stroke-width="1.4"/><line x1="839.4" y1="1417.4" x2="1054.5" y2="1417.4" stroke="#222" stroke-width="1.4"/><path d="M839.4 1315.5h-4M839.4 1305.3h-4M839.4 1298.1h-4M839.4 1292.5h-4M839.4 1287.9h-4M839.4 1284.0h-4M839.4 1280.6h-4M839.4 1277.7h-4M839.4 1259.0h-4M839.4 1249.7h-4M839.4 1243.1h-4M839.4 1238.0h-4M839.4 1233.8h-4M839.4 1230.2h-4M839.4 1227.1h-4M839.4 1224.4h-4M839.4 1206.0h-4M839.4 1357.1h-4M839.4 1351.3h-4M839.4 1347.1h-4M839.4 1343.9h-4M839.4 1341.3h-4M839.4 1339.1h-4M839.4 1337.2h-4M839.4 1335.5h-4M839.4 1377.2h-4M839.4 1383.2h-4M839.4 1387.4h-4M839.4 1390.7h-4M839.4 1393.4h-4M839.4 1395.7h-4M839.4 1397.7h-4M839.4 1399.4h-4" fill="none" stroke="#222" stroke-width="1.1"/><path d="M839.4 1402.0h-7M839.4 1333.0h-7M839.4 1275.0h-7M839.4 1222.0h-7M839.4 1365.7h-6M839.4 1367.0h-6M839.4 1368.3h-6" fill="none" stroke="#222" stroke-width="1.5"/><path d="M940.8 1417.4v4M951.0 1417.4v4M958.2 1417.4v4M963.8 1417.4v4M968.3 1417.4v4M972.2 1417.4v4M975.5 1417.4v4M978.5 1417.4v4M996.7 1417.4v4M1005.8 1417.4v4M1012.2 1417.4v4M1017.2 1417.4v4M1021.3 1417.4v4M1024.8 1417.4v4M1027.8 1417.4v4M1030.4 1417.4v4M1048.4 1417.4v4M897.7 1417.4v4M903.9 1417.4v4M908.3 1417.4v4M911.7 1417.4v4M914.6 1417.4v4M916.9 1417.4v4M919.0 1417.4v4M920.8 1417.4v4M876.8 1417.4v4M870.8 1417.4v4M866.6 1417.4v4M863.3 1417.4v4M860.6 1417.4v4M858.3 1417.4v4M856.3 1417.4v4M854.6 1417.4v4" fill="none" stroke="#222" stroke-width="1.1"/><path d="M852.0 1417.4v7M923.5 1417.4v7M981.1 1417.4v7M1032.8 1417.4v7M885.7 1417.4v6M887.0 1417.4v6M888.3 1417.4v6" fill="none" stroke="#222" stroke-width="1.5"/><path d="M954.7 1253.6 959.4 1253.0 963.4 1253.1 970.4 1254.8 973.4 1256.6 975.5 1258.6 977.3 1261.6 978.0 1264.6 977.7 1268.6 975.6 1273.6 967.2 1283.6 965.4 1286.6 963.1 1298.6 960.6 1304.6 955.7 1310.6 946.1 1317.6 944.9 1319.6 946.3 1321.6 956.4 1328.7 960.5 1333.6 961.8 1336.6 962.3 1339.6 962.0 1342.6 960.9 1345.6 957.4 1350.3 952.4 1354.0 945.4 1357.1 937.4 1358.9 929.4 1359.4 921.4 1358.8 910.4 1356.4 903.4 1353.9 898.7 1350.6 895.8 1346.6 894.2 1341.6 894.1 1336.6 895.2 1330.6 900.0 1314.6 907.7 1290.6 910.1 1284.6 912.4 1280.6 915.4 1276.8 922.4 1270.8 942.4 1258.2 948.4 1255.4 954.7 1253.6M955.6 1255.6 960.4 1255.2 964.4 1255.6 968.4 1256.8 971.3 1258.6 973.2 1260.6 974.7 1263.6 975.0 1266.6 974.5 1269.6 971.9 1274.6 964.8 1282.6 962.8 1285.6 961.9 1288.6 960.2 1298.6 958.6 1302.6 956.4 1305.9 953.4 1309.1 949.4 1312.0 944.4 1314.4 935.4 1317.4 934.1 1318.6 934.0 1319.6 934.9 1320.6 936.8 1321.6 948.4 1326.5 952.4 1329.1 955.1 1331.6 957.3 1334.6 958.6 1338.6 958.6 1341.6 957.2 1345.6 953.9 1349.6 948.4 1353.2 942.4 1355.6 935.4 1356.9 928.4 1357.2 920.4 1356.4 911.4 1354.1 905.4 1351.7 901.4 1348.9 898.8 1345.6 897.1 1340.6 897.0 1335.6 898.2 1329.6 902.8 1313.6 909.8 1291.6 912.8 1284.6 917.4 1278.2 923.4 1273.1 944.4 1259.6 950.4 1256.9 955.6 1255.6M955.2 1257.6 959.4 1257.2 963.4 1257.6 966.5 1258.6 969.4 1260.4 971.2 1262.6 972.2 1265.6 972.1 1268.6 971.1 1271.6 968.4 1275.6 962.7 1281.6 960.5 1284.6 959.5 1287.6 958.7 1294.6 957.8 1298.6 955.9 1302.6 953.7 1305.6 949.4 1309.3 945.4 1311.4 940.4 1312.9 933.4 1314.3 930.4 1315.6 928.4 1317.6 927.8 1319.6 928.7 1321.6 930.1 1322.6 944.4 1327.1 948.4 1329.2 951.5 1331.6 954.0 1334.6 955.3 1337.6 955.5 1341.6 954.4 1344.6 951.4 1348.4 947.4 1351.3 941.4 1353.8 935.4 1355.0 929.4 1355.4 922.4 1354.7 915.4 1353.1 908.4 1350.4 904.4 1347.9 901.5 1344.6 899.9 1340.6 899.6 1335.6 900.7 1329.6 904.9 1314.6 911.8 1292.6 914.2 1286.6 918.4 1280.4 924.4 1275.1 933.4 1269.5 945.4 1261.2 950.4 1258.9 955.2 1257.6M953.4 1259.6 957.4 1259.0 961.4 1259.1 964.4 1259.9 967.4 1261.6 969.1 1263.6 969.8 1265.6 969.9 1268.6 968.9 1271.6 966.9 1274.6 961.1 1280.6 958.8 1283.6 957.7 1286.6 956.1 1297.6 954.3 1301.6 952.1 1304.6 948.4 1307.7 944.4 1309.8 940.4 1311.0 931.4 1312.6 928.8 1313.6 925.5 1316.6 924.5 1319.6 925.4 1322.6 927.4 1324.1 941.4 1327.8 945.4 1329.6 948.4 1331.6 951.2 1334.6 952.7 1337.6 953.0 1340.6 952.3 1343.6 950.3 1346.6 946.4 1349.7 941.4 1352.0 935.4 1353.5 929.4 1353.8 923.4 1353.3 917.4 1351.9 911.4 1349.6 906.4 1346.6 903.7 1343.6 902.1 1339.6 901.8 1335.6 902.6 1330.6 906.7 1315.6 913.0 1294.6 915.2 1288.6 918.8 1282.6 924.0 1277.6 935.1 1270.6 945.4 1263.0 949.4 1260.9 953.4 1259.6M955.7 1260.6 960.4 1260.6 964.4 1261.9 967.2 1264.6 967.9 1266.6 967.9 1268.6 967.4 1270.6 965.7 1273.6 958.8 1280.6 956.7 1283.6 955.8 1286.6 954.9 1295.6 953.0 1300.6 949.4 1305.0 944.4 1308.1 939.4 1309.6 930.4 1311.0 926.4 1312.5 923.3 1315.6 921.7 1319.6 922.1 1322.6 924.4 1325.0 927.4 1326.2 939.4 1328.7 943.4 1330.3 946.8 1332.6 948.8 1334.6 950.5 1337.6 950.8 1340.6 950.0 1343.6 947.7 1346.6 944.4 1349.0 939.4 1351.2 934.4 1352.2 929.4 1352.5 923.4 1351.9 918.4 1350.7 913.1 1348.6 909.4 1346.5 906.3 1343.6 904.2 1339.6 903.8 1335.6 904.9 1329.6 914.6 1294.6 916.8 1288.6 920.4 1283.0 925.4 1278.4 936.4 1271.7 947.2 1263.6 951.4 1261.7 955.7 1260.6M953.7 1262.6 958.4 1262.1 962.4 1263.2 965.1 1265.6 965.7 1268.6 965.2 1270.6 963.4 1273.6 957.3 1279.6 955.0 1282.6 954.0 1285.6 953.2 1295.6 951.1 1300.6 947.4 1304.6 943.4 1306.8 938.4 1308.2 928.4 1309.5 924.4 1311.0 922.1 1312.6 919.7 1315.6 918.8 1317.6 918.1 1320.6 918.8 1323.6 920.4 1325.6 922.1 1326.6 925.4 1327.6 937.4 1329.7 941.4 1331.2 944.4 1333.0 947.0 1335.6 948.1 1337.6 948.5 1340.6 948.0 1342.6 946.0 1345.6 943.5 1347.6 939.4 1349.6 935.4 1350.6 931.4 1351.1 926.4 1350.9 921.4 1350.0 916.4 1348.2 911.6 1345.6 908.4 1342.6 906.8 1339.6 906.2 1335.6 907.1 1330.6 911.0 1318.6 916.1 1295.6 918.1 1289.6 921.1 1284.6 925.4 1280.4 937.4 1273.2 947.4 1265.3 953.7 1262.6M952.4 1264.6 956.4 1263.8 960.4 1264.5 962.4 1266.0 963.4 1268.6 963.0 1270.6 961.9 1272.6 954.7 1279.6 952.8 1282.6 952.2 1285.6 951.8 1294.6 950.9 1297.6 949.2 1300.6 945.4 1304.2 940.4 1306.3 927.4 1307.7 918.4 1309.6 917.4 1308.6 917.0 1306.6 917.4 1297.6 919.3 1290.6 922.2 1285.6 927.4 1280.7 938.5 1274.6 947.4 1267.2 952.4 1264.6M912.5 1327.6 913.4 1327.0 915.4 1326.9 921.4 1328.8 933.4 1330.2 939.4 1331.9 942.4 1333.6 945.3 1336.6 946.3 1339.6 945.7 1342.6 944.4 1344.6 941.4 1347.0 938.4 1348.4 934.4 1349.4 926.4 1349.6 918.4 1347.4 912.2 1343.6 910.4 1341.6 909.0 1338.6 908.7 1335.6 909.3 1332.6 910.4 1330.2 912.5 1327.6M952.0 1266.6 955.4 1265.8 958.4 1266.2 960.3 1267.6 960.8 1269.6 959.4 1272.6 952.7 1278.6 951.2 1280.6 950.4 1283.6 950.7 1291.6 950.3 1294.6 949.4 1297.6 947.4 1300.6 943.4 1303.7 937.4 1305.6 924.4 1305.8 922.4 1305.5 920.7 1304.6 919.3 1301.6 919.4 1295.6 920.9 1290.6 924.0 1285.6 929.4 1281.1 941.4 1275.1 948.4 1268.7 952.0 1266.6M914.5 1331.6 917.4 1330.9 926.4 1331.0 932.4 1331.4 936.4 1332.3 940.4 1334.2 943.0 1336.6 944.0 1338.6 943.9 1341.6 942.9 1343.6 940.7 1345.6 935.4 1347.9 928.4 1348.5 921.4 1347.0 918.2 1345.6 915.2 1343.6 913.3 1341.6 912.1 1339.6 911.5 1336.6 912.0 1334.6 913.2 1332.6 914.5 1331.6M953.6 1268.6 956.4 1268.9 957.0 1269.6 957.1 1270.6 955.4 1273.1 950.0 1276.6 948.4 1278.6 948.0 1281.6 949.2 1292.6 948.3 1296.6 946.4 1299.6 942.4 1302.7 937.4 1304.3 928.4 1304.2 925.3 1303.6 923.2 1302.6 921.4 1299.9 921.1 1295.6 922.5 1290.6 925.4 1286.0 928.1 1283.6 931.4 1281.5 945.4 1276.2 950.0 1270.6 953.6 1268.6M923.1 1332.6 931.4 1332.6 935.4 1333.5 938.0 1334.6 940.6 1336.6 941.8 1338.6 942.0 1340.6 941.2 1342.6 939.4 1344.5 937.4 1345.7 931.4 1347.2 925.4 1346.8 919.7 1344.6 917.0 1342.6 915.5 1340.6 914.8 1338.6 914.9 1336.6 916.3 1334.6 917.4 1333.9 923.1 1332.6M939.2 1280.6 943.4 1280.9 945.3 1282.6 946.4 1284.9 947.8 1291.6 947.4 1294.6 946.2 1297.6 944.6 1299.6 942.4 1301.2 937.4 1302.9 930.4 1302.9 925.4 1301.2 923.4 1298.8 922.9 1295.6 923.6 1291.6 925.1 1288.6 927.4 1285.9 930.5 1283.6 934.4 1281.8 939.2 1280.6M922.5 1334.6 929.4 1333.9 935.4 1335.1 938.9 1337.6 939.7 1339.6 939.3 1341.6 936.4 1344.4 932.7 1345.6 928.4 1345.8 923.4 1344.6 921.4 1343.6 919.1 1341.6 918.0 1338.6 918.2 1337.6 919.4 1336.1 922.5 1334.6M937.9 1282.6 940.4 1282.7 942.4 1283.4 945.1 1286.6 946.3 1291.6 945.9 1294.6 945.1 1296.6 942.4 1299.6 940.4 1300.7 937.4 1301.6 932.1 1301.6 927.4 1300.0 925.4 1298.0 924.7 1295.6 925.0 1292.6 926.2 1289.6 928.4 1286.9 931.4 1284.6 934.4 1283.3 937.9 1282.6M927.6 1335.6 931.4 1335.7 935.4 1337.3 937.0 1339.6 936.5 1341.6 933.6 1343.6 930.4 1344.2 926.4 1343.8 923.7 1342.6 921.8 1340.6 921.6 1338.6 923.7 1336.6 927.6 1335.6M935.8 1284.6 939.6 1284.6 941.4 1285.4 942.8 1286.6 944.6 1290.6 944.3 1294.6 942.5 1297.6 939.4 1299.6 935.4 1300.4 931.4 1299.8 928.8 1298.6 927.4 1297.2 926.6 1294.6 926.7 1292.6 928.1 1289.6 929.8 1287.6 932.4 1285.8 935.8 1284.6M926.9 1338.6 929.4 1338.0 931.4 1338.4 932.9 1339.6 932.7 1340.6 931.3 1341.6 928.1 1341.6 926.4 1340.6 926.2 1339.6 926.9 1338.6" fill="none" stroke="#8c8c8c" stroke-width="0.7"/><path d="M982.8 1246.4 989.6 1247.1 992.6 1248.2 995.6 1250.0 998.7 1253.4 999.9 1256.4 1000.1 1258.4 999.0 1262.4 994.5 1268.4 993.0 1271.4 992.3 1286.4 989.3 1299.4 990.1 1303.4 995.0 1310.4 996.8 1314.4 997.7 1319.4 997.2 1324.4 995.0 1329.4 990.6 1334.2 985.6 1336.8 979.6 1337.7 974.6 1336.9 970.6 1335.1 966.6 1331.8 963.5 1327.4 961.3 1322.4 956.8 1307.4 955.7 1301.4 955.6 1294.4 956.8 1279.4 957.9 1272.4 960.1 1265.4 963.0 1259.4 967.3 1253.4 971.6 1249.8 977.6 1247.2 982.8 1246.4M980.1 1248.4 986.6 1248.2 989.6 1248.9 992.6 1250.2 996.3 1253.4 997.4 1255.4 997.9 1258.4 996.7 1262.4 992.0 1268.4 991.1 1270.4 990.7 1273.4 990.9 1280.4 990.5 1285.4 987.1 1300.4 987.3 1302.4 988.2 1304.4 992.8 1310.4 994.9 1314.4 995.9 1319.4 995.5 1323.4 993.4 1328.4 989.6 1332.6 984.6 1335.2 979.6 1335.9 974.6 1335.0 970.6 1332.9 967.6 1330.2 965.0 1326.4 963.0 1321.4 958.4 1306.4 957.5 1301.4 957.2 1296.4 959.0 1276.4 960.4 1270.4 962.3 1265.4 966.2 1258.4 970.3 1253.4 974.6 1250.3 980.1 1248.4M978.6 1250.4 984.6 1249.6 987.6 1249.9 990.6 1251.0 992.9 1252.4 994.7 1254.4 995.6 1256.4 995.9 1258.4 995.1 1261.4 990.5 1267.4 989.1 1270.4 989.0 1284.4 985.1 1300.4 985.2 1302.4 985.9 1304.4 990.8 1310.4 993.2 1314.4 994.2 1318.4 994.1 1322.4 992.2 1327.4 989.6 1330.5 985.6 1333.1 980.6 1334.2 976.6 1333.9 972.6 1332.2 969.6 1329.9 966.9 1326.4 965.0 1322.4 960.1 1306.4 958.8 1297.4 960.3 1278.4 961.3 1273.4 962.9 1268.4 966.0 1262.4 971.0 1255.4 974.6 1252.3 978.6 1250.4M979.9 1251.4 984.6 1250.8 989.6 1252.0 992.7 1254.4 993.9 1256.4 994.2 1258.4 993.3 1261.4 988.6 1267.3 987.7 1269.4 987.7 1284.4 983.5 1301.4 983.7 1303.4 984.6 1305.4 989.6 1311.0 991.7 1314.4 992.9 1318.4 992.7 1322.4 991.3 1326.4 987.7 1330.4 983.6 1332.4 979.6 1333.0 975.6 1332.2 972.6 1330.7 969.9 1328.4 967.8 1325.4 966.1 1321.4 961.2 1305.4 960.3 1301.4 960.0 1296.4 961.4 1279.4 962.4 1274.4 964.0 1269.4 967.3 1263.4 972.2 1256.4 975.6 1253.4 979.9 1251.4M980.7 1252.4 984.6 1252.0 988.6 1252.9 990.8 1254.4 992.5 1257.4 992.5 1259.4 991.7 1261.4 987.5 1266.4 986.4 1268.4 986.1 1271.4 986.9 1279.4 986.6 1284.4 985.3 1290.4 982.6 1298.6 982.1 1302.4 982.5 1304.4 983.6 1306.3 988.5 1311.4 990.5 1314.4 991.6 1317.4 991.8 1320.4 991.0 1324.4 988.3 1328.4 984.6 1330.9 979.6 1331.9 976.6 1331.4 973.6 1330.1 970.6 1327.5 968.5 1324.4 962.1 1304.4 961.3 1300.4 961.0 1295.4 962.7 1278.4 963.8 1273.4 965.3 1269.4 968.3 1264.4 974.1 1256.4 977.6 1253.6 980.7 1252.4M982.7 1253.4 985.6 1253.5 988.2 1254.4 990.3 1256.4 990.8 1258.4 989.8 1261.4 986.2 1265.4 984.7 1268.4 985.7 1278.4 985.6 1283.4 984.4 1289.4 981.1 1299.4 980.6 1303.4 981.8 1306.4 987.0 1311.4 989.2 1314.4 990.4 1317.4 990.7 1320.4 989.7 1324.4 987.6 1327.5 983.6 1330.1 979.6 1330.7 976.6 1330.2 973.6 1328.7 971.1 1326.4 969.3 1323.4 966.4 1312.4 962.9 1302.4 962.3 1298.4 962.2 1293.4 963.8 1278.4 965.0 1273.4 966.6 1269.8 976.3 1256.4 979.2 1254.4 982.7 1253.4M980.6 1255.4 983.6 1254.8 986.6 1255.4 988.0 1256.4 988.9 1258.4 988.4 1260.4 983.9 1265.4 983.1 1267.4 983.2 1270.4 984.7 1278.4 984.6 1283.4 983.3 1289.4 979.5 1300.4 979.2 1304.4 980.7 1307.4 985.6 1311.5 988.0 1314.4 989.3 1317.4 989.6 1320.4 988.6 1324.3 986.6 1327.0 983.6 1328.9 979.6 1329.6 976.6 1329.1 974.6 1328.1 972.5 1326.4 970.4 1323.4 969.1 1319.4 967.6 1311.4 964.0 1302.4 963.2 1294.4 964.5 1280.4 966.6 1272.4 968.9 1268.4 976.8 1258.4 978.6 1256.6 980.6 1255.4M980.7 1257.4 982.6 1256.7 984.6 1256.8 985.8 1257.4 986.4 1259.4 985.6 1260.8 982.6 1263.5 981.2 1265.4 981.2 1268.4 983.5 1277.4 983.7 1282.4 982.6 1288.4 978.0 1301.4 977.8 1305.4 979.6 1308.3 984.6 1312.0 986.8 1314.4 988.3 1317.4 988.6 1320.4 987.9 1323.4 985.7 1326.4 982.6 1328.2 979.6 1328.6 976.6 1328.0 974.6 1326.9 972.6 1325.0 971.1 1322.4 970.1 1319.4 968.9 1310.4 965.0 1301.4 964.2 1294.4 965.3 1281.4 967.4 1273.4 969.7 1269.4 976.2 1263.4 978.7 1259.4 980.7 1257.4M974.5 1267.4 976.6 1266.9 977.6 1267.1 979.6 1269.2 981.8 1274.4 982.8 1280.4 981.8 1287.4 976.7 1301.4 975.9 1306.4 977.1 1308.4 982.6 1311.8 985.6 1314.4 986.8 1316.4 987.6 1319.4 987.2 1322.4 985.6 1325.1 983.6 1326.7 980.6 1327.6 977.6 1327.3 975.6 1326.4 973.6 1324.7 972.1 1322.4 971.0 1318.4 970.7 1309.4 966.6 1302.5 965.4 1297.4 965.8 1285.4 967.3 1276.4 968.6 1273.2 970.5 1270.4 974.5 1267.4M974.5 1269.4 975.6 1269.2 977.6 1269.9 979.6 1272.2 981.5 1277.4 981.8 1282.4 980.2 1289.4 975.6 1300.4 973.6 1304.2 972.6 1305.1 971.6 1305.3 970.6 1304.9 968.6 1303.1 966.9 1299.4 966.3 1294.4 966.6 1286.4 967.5 1279.4 968.7 1275.4 971.6 1271.1 974.5 1269.4M973.6 1311.4 975.6 1310.5 978.6 1311.1 982.6 1313.0 985.1 1315.4 986.2 1317.4 986.6 1320.4 985.7 1323.4 983.8 1325.4 981.6 1326.4 978.6 1326.5 975.9 1325.4 973.8 1323.4 972.5 1320.4 972.1 1317.4 972.6 1313.6 973.6 1311.4M973.9 1271.4 976.6 1271.4 978.8 1273.4 980.5 1277.4 980.8 1282.4 979.6 1288.1 976.6 1295.2 973.6 1300.6 971.6 1302.0 969.6 1301.2 967.8 1297.4 967.4 1293.4 967.6 1286.4 968.3 1280.4 969.5 1276.4 971.6 1273.0 973.9 1271.4M974.8 1313.4 976.6 1312.5 978.6 1312.6 981.6 1313.7 983.8 1315.4 985.1 1317.4 985.6 1320.4 985.0 1322.4 983.4 1324.4 981.6 1325.4 979.6 1325.6 977.6 1325.2 975.1 1323.4 973.9 1321.4 973.2 1318.4 973.6 1315.4 974.8 1313.4M973.5 1273.4 974.6 1273.0 976.5 1273.4 978.4 1275.4 979.6 1278.4 979.8 1282.4 978.7 1287.4 976.6 1292.4 973.6 1297.4 971.6 1298.8 970.6 1298.6 969.6 1297.4 969.0 1295.4 968.5 1291.4 968.7 1285.4 969.3 1280.4 970.3 1277.4 971.6 1275.0 973.5 1273.4M976.5 1314.4 978.6 1314.0 980.6 1314.5 983.6 1316.9 984.3 1318.4 984.5 1320.4 983.7 1322.4 982.6 1323.6 980.6 1324.4 978.6 1324.3 976.7 1323.4 975.6 1322.2 974.6 1319.9 974.5 1317.4 975.4 1315.4 976.5 1314.4M973.5 1275.4 975.6 1275.1 977.3 1276.4 978.5 1279.4 978.7 1282.4 977.6 1287.1 975.6 1291.2 973.6 1294.0 972.6 1294.8 971.6 1294.8 970.6 1293.6 970.1 1291.4 970.0 1283.4 971.2 1278.4 973.5 1275.4M976.8 1316.4 977.6 1315.9 979.6 1315.7 982.3 1317.4 982.9 1318.4 983.1 1320.4 981.9 1322.4 979.6 1323.1 977.6 1322.4 976.6 1321.4 975.9 1318.4 976.8 1316.4M973.2 1278.4 974.6 1277.5 976.3 1278.4 977.1 1280.4 977.2 1282.4 976.6 1285.4 975.6 1287.7 973.6 1289.9 972.6 1289.9 971.6 1287.9 971.4 1284.4 971.8 1281.4 973.2 1278.4M978.3 1318.4 979.6 1317.9 980.6 1318.4 981.0 1319.4 980.6 1320.7 979.6 1321.0 978.6 1320.6 978.0 1319.4 978.3 1318.4" fill="none" stroke="#3ca03c" stroke-width="0.7"/><line x1="922.9" y1="1202.3" x2="922.9" y2="1417.4" stroke="#000" stroke-width="1.6"/><line x1="839.4" y1="1315.8" x2="1054.5" y2="1315.8" stroke="#000" stroke-width="1.6"/><text x="1041.6" y="1229.7" font-size="26" text-anchor="end" fill="#107a3c">70.6</text><text x="1041.6" y="1256.5" font-size="26" text-anchor="end" fill="#8a8a8a">63.1</text><line x1="578" y1="1251" x2="578" y2="1214" stroke="#000" stroke-width="2"/><path d="M578 1204L572 1216L578 1213L584 1216Z" fill="#000"/><text x="587" y="1418.4" font-size="26" transform="rotate(-90 587 1418.4)">CD103-BV711</text><text x="606" y="1458.7" font-size="26">CD69-BV510</text><line x1="765.8" y1="1451.6" x2="1042.9" y2="1451.6" stroke="#000" stroke-width="2"/><path d="M1052.9 1451.6L1040.9 1445.6L1043.9 1451.6L1040.9 1457.6Z" fill="#000"/><line x1="601.3" y1="1618" x2="816.5" y2="1618" stroke="#8cc46c" stroke-width="1.2"/><path d="M692.0 1618.0L692.0 1618.0L692.7 1617.3L693.6 1616.3L694.7 1615.2L695.9 1614.0L697.0 1612.9L698.0 1612.0L698.9 1611.2L699.7 1610.4L700.6 1609.6L701.4 1609.1L702.2 1608.8L703.0 1609.0L703.8 1609.8L704.7 1611.2L705.6 1612.9L706.4 1614.6L707.2 1616.1L708.0 1617.0L708.7 1617.5L709.3 1617.7L709.9 1617.8L710.6 1617.5L711.2 1616.9L712.0 1616.0L712.9 1614.6L713.9 1612.6L715.0 1610.3L716.1 1608.0L717.1 1605.8L718.0 1604.0L718.8 1602.6L719.4 1601.5L720.1 1600.6L720.7 1599.7L721.3 1598.9L722.0 1598.0L722.8 1597.0L723.6 1595.9L724.5 1594.9L725.4 1594.0L726.2 1593.3L727.0 1593.0L727.7 1593.1L728.4 1593.6L729.1 1594.3L729.7 1595.2L730.3 1596.1L731.0 1597.0L731.7 1598.0L732.3 1599.2L732.9 1600.4L733.6 1601.6L734.3 1602.5L735.0 1603.0L735.8 1603.0L736.6 1602.7L737.4 1602.1L738.3 1601.4L739.2 1600.7L740.0 1600.0L740.8 1599.3L741.7 1598.4L742.5 1597.5L743.3 1596.7L744.2 1596.2L745.0 1596.0L745.8 1596.3L746.7 1596.9L747.5 1597.7L748.3 1598.7L749.2 1599.8L750.0 1601.0L750.8 1602.3L751.6 1603.7L752.4 1605.3L753.2 1606.9L754.1 1608.5L755.0 1610.0L756.1 1611.5L757.4 1613.0L758.8 1614.6L760.1 1616.0L761.2 1617.1L762.0 1618.0L762.0 1618.0Z" fill="#a9d18e" stroke="#3e9a2e" stroke-width="1.2" stroke-linejoin="round"/><line x1="601.3" y1="1671.6" x2="816.5" y2="1671.6" stroke="#6a9fdc" stroke-width="1.2"/><path d="M660.0 1724.8L660.0 1724.8L660.7 1722.5L661.6 1719.3L662.8 1715.5L663.9 1711.6L665.0 1708.0L666.0 1705.0L666.8 1702.7L667.4 1700.6L668.1 1698.9L668.7 1697.4L669.3 1696.1L670.0 1695.0L670.8 1694.1L671.6 1693.5L672.4 1693.1L673.3 1692.9L674.2 1692.9L675.0 1693.0L675.8 1693.5L676.7 1694.5L677.6 1695.6L678.4 1696.6L679.2 1697.2L680.0 1697.0L680.7 1696.1L681.4 1694.7L682.1 1692.8L682.7 1690.6L683.3 1687.9L684.0 1685.0L684.7 1681.5L685.3 1677.4L686.0 1673.0L686.7 1668.4L687.3 1664.0L688.0 1660.0L688.6 1656.2L689.3 1652.3L689.9 1648.6L690.5 1645.1L691.2 1642.2L692.0 1640.0L692.9 1638.6L693.9 1638.0L694.9 1637.8L696.0 1637.9L697.0 1638.1L698.0 1638.0L698.9 1637.8L699.8 1637.6L700.7 1637.4L701.5 1637.3L702.3 1637.2L703.0 1637.0L703.6 1636.7L704.1 1636.3L704.6 1635.8L705.1 1635.5L705.5 1635.5L706.0 1636.0L706.5 1637.0L707.0 1638.4L707.4 1640.1L707.9 1642.0L708.4 1644.0L709.0 1646.0L709.6 1648.0L710.2 1650.1L710.9 1652.4L711.6 1654.7L712.3 1657.3L713.0 1660.0L713.8 1663.0L714.6 1666.2L715.4 1669.6L716.2 1673.1L717.1 1676.6L718.0 1680.0L718.9 1683.4L719.9 1686.9L720.9 1690.3L721.9 1693.7L722.9 1697.0L724.0 1700.0L725.1 1702.8L726.3 1705.6L727.4 1708.1L728.6 1710.6L729.8 1712.9L731.0 1715.0L732.2 1717.0L733.6 1719.0L734.9 1720.8L736.2 1722.5L737.2 1723.8L738.0 1724.8L738.0 1724.8Z" fill="#c4c4c4" stroke="#8c8c8c" stroke-width="1.2" stroke-linejoin="round"/><path d="M660.0 1671.6L660.0 1671.6L660.7 1671.2L661.6 1670.6L662.6 1669.9L663.8 1669.1L664.9 1668.5L666.0 1668.0L667.0 1667.6L668.0 1667.3L669.0 1667.0L670.0 1666.9L671.0 1666.9L672.0 1667.0L672.9 1667.4L673.8 1668.0L674.6 1668.8L675.6 1669.6L676.7 1670.2L678.0 1670.6L679.7 1670.8L681.7 1671.0L683.9 1671.1L686.1 1671.0L688.2 1670.5L690.0 1669.6L691.6 1668.2L693.0 1666.2L694.4 1663.9L695.6 1661.5L696.8 1659.1L698.0 1657.0L699.2 1655.0L700.3 1652.9L701.3 1650.9L702.3 1649.0L703.2 1647.4L704.0 1646.0L704.7 1644.9L705.1 1644.0L705.6 1643.4L706.0 1643.0L706.4 1642.8L707.0 1643.0L707.7 1643.6L708.5 1644.5L709.3 1645.7L710.2 1647.1L711.1 1648.5L712.0 1650.0L712.9 1651.6L713.9 1653.4L714.9 1655.3L716.0 1657.1L717.0 1658.8L718.0 1660.0L719.0 1660.8L720.0 1661.2L721.0 1661.4L722.0 1661.5L723.0 1661.6L724.0 1662.0L725.0 1662.6L726.0 1663.2L727.0 1663.9L728.0 1664.7L729.0 1665.4L730.0 1666.0L731.0 1666.6L732.0 1667.2L733.1 1667.8L734.1 1668.3L735.1 1668.7L736.0 1669.0L736.9 1669.1L737.7 1669.0L738.6 1668.8L739.4 1668.6L740.2 1668.3L741.0 1668.0L741.8 1667.7L742.6 1667.3L743.4 1666.8L744.3 1666.4L745.1 1666.1L746.0 1666.0L746.8 1666.1L747.6 1666.3L748.4 1666.6L749.3 1667.1L750.5 1667.5L752.0 1668.0L754.2 1668.5L756.9 1669.2L759.9 1669.9L762.8 1670.6L765.3 1671.2L767.0 1671.6L767.0 1671.6Z" fill="#6c8fc0" stroke="#2f62b4" stroke-width="1.2" fill-opacity="0.55" stroke-linejoin="round"/><line x1="601.3" y1="1509.4" x2="601.3" y2="1724.8" stroke="#444" stroke-width="1.4"/><line x1="816.5" y1="1509.4" x2="816.5" y2="1724.8" stroke="#444" stroke-width="1.4"/><line x1="601.3" y1="1724.8" x2="816.5" y2="1724.8" stroke="#222" stroke-width="1.4"/><line x1="684.2" y1="1509.4" x2="684.2" y2="1724.8" stroke="#000" stroke-width="1.8" stroke-dasharray="6 4"/><path d="M702.7 1724.8v4M712.8 1724.8v4M720.0 1724.8v4M725.6 1724.8v4M730.2 1724.8v4M734.1 1724.8v4M737.4 1724.8v4M740.4 1724.8v4M758.6 1724.8v4M767.8 1724.8v4M774.2 1724.8v4M779.3 1724.8v4M783.4 1724.8v4M786.9 1724.8v4M789.9 1724.8v4M792.5 1724.8v4M810.5 1724.8v4M659.6 1724.8v4M665.8 1724.8v4M670.2 1724.8v4M673.6 1724.8v4M676.4 1724.8v4M678.8 1724.8v4M680.8 1724.8v4M682.6 1724.8v4M638.8 1724.8v4M632.8 1724.8v4M628.6 1724.8v4M625.3 1724.8v4M622.6 1724.8v4M620.3 1724.8v4M618.3 1724.8v4M616.6 1724.8v4" fill="none" stroke="#222" stroke-width="1.1"/><path d="M614.0 1724.8v7M685.3 1724.8v7M743.0 1724.8v7M794.9 1724.8v7M647.7 1724.8v6M649.0 1724.8v6M650.3 1724.8v6" fill="none" stroke="#222" stroke-width="1.5"/><text x="812" y="1612.6" font-size="26" text-anchor="end" fill="#4a8a2a">100</text><text x="812" y="1665.8" font-size="26" text-anchor="end" fill="#2a5ca0">95.2</text><text x="812" y="1717.4" font-size="26" text-anchor="end" fill="#8a8a8a">86.6</text><line x1="576.1" y1="1648" x2="576.1" y2="1517.7" stroke="#000" stroke-width="2"/><path d="M576.1 1507.7L570.1 1519.7L576.1 1516.7L582.1 1519.7Z" fill="#000"/><text x="585.5" y="1722" font-size="26" transform="rotate(-90 585.5 1722)">Count</text><text x="599.7" y="1764" font-size="26">CD69-BV510</text><line x1="759.4" y1="1753" x2="805.8" y2="1753" stroke="#000" stroke-width="2"/><path d="M815.8 1753L803.8 1747L806.8 1753L803.8 1759Z" fill="#000"/><line x1="621.6" y1="1810.8" x2="621.6" y2="2126.1" stroke="#111" stroke-width="1.4"/><path d="M612.1 2126.1H621.6M612.1 2063.0H621.6M612.1 2000.0H621.6M612.1 1936.9H621.6M612.1 1873.9H621.6M612.1 1810.8H621.6" fill="none" stroke="#333" stroke-width="1.5"/><text x="600" y="2135.4" font-size="26" text-anchor="end">0</text><text x="600" y="2072.3" font-size="26" text-anchor="end">20</text><text x="600" y="2009.3" font-size="26" text-anchor="end">40</text><text x="600" y="1946.2" font-size="26" text-anchor="end">60</text><text x="600" y="1883.2" font-size="26" text-anchor="end">80</text><text x="600" y="1820.1" font-size="26" text-anchor="end">100</text><line x1="612.6" y1="2126.1" x2="747.4" y2="2126.1" stroke="#111" stroke-width="1.4"/><line x1="646.8" y1="2126.1" x2="646.8" y2="2135.6" stroke="#333" stroke-width="1.4"/><line x1="684.5" y1="2126.1" x2="684.5" y2="2135.6" stroke="#333" stroke-width="1.4"/><line x1="722.6" y1="2126.1" x2="722.6" y2="2135.6" stroke="#333" stroke-width="1.4"/><text x="547.5" y="2076" font-size="26" transform="rotate(-90 547.5 2076)">Percentage CD69<tspan dy="-10" font-size="17">+</tspan></text><rect x="633.9" y="1845.5" width="25.8" height="41" fill="#e3e3e3" stroke="#000" stroke-width="3"/><circle cx="646.8" cy="1845.5" r="6.4" fill="#bdbdbd" stroke="#000" stroke-width="1.1" fill-opacity="0.8"/><circle cx="640.8" cy="1854.9" r="6.4" fill="#bdbdbd" stroke="#000" stroke-width="1.1" fill-opacity="0.8"/><circle cx="652.8" cy="1861.2" r="6.4" fill="#bdbdbd" stroke="#000" stroke-width="1.1" fill-opacity="0.8"/><circle cx="646.8" cy="1886.5" r="6.4" fill="#bdbdbd" stroke="#000" stroke-width="1.1" fill-opacity="0.8"/><line x1="633.9" y1="1861.2" x2="659.7" y2="1861.2" stroke="#000" stroke-width="2.5"/><rect x="671.5" y="1810.8" width="26" height="12.6" fill="#a9c4e6" stroke="#000" stroke-width="3"/><circle cx="684.5" cy="1810.8" r="6.4" fill="#4f86c6" stroke="#000" stroke-width="1.1" fill-opacity="0.8"/><circle cx="677.5" cy="1814" r="6.4" fill="#4f86c6" stroke="#000" stroke-width="1.1" fill-opacity="0.8"/><circle cx="687.5" cy="1816.2" r="6.4" fill="#4f86c6" stroke="#000" stroke-width="1.1" fill-opacity="0.8"/><circle cx="681.5" cy="1823.4" r="6.4" fill="#4f86c6" stroke="#000" stroke-width="1.1" fill-opacity="0.8"/><rect x="709.6" y="1810.8" width="26" height="12.6" fill="#a9dca0" stroke="#000" stroke-width="3"/><circle cx="722.6" cy="1810.8" r="6.4" fill="#3cab5c" stroke="#000" stroke-width="1.1" fill-opacity="0.8"/><circle cx="716.6" cy="1814" r="6.4" fill="#3cab5c" stroke="#000" stroke-width="1.1" fill-opacity="0.8"/><circle cx="726.6" cy="1817.1" r="6.4" fill="#3cab5c" stroke="#000" stroke-width="1.1" fill-opacity="0.8"/><circle cx="720.6" cy="1823.4" r="6.4" fill="#3cab5c" stroke="#000" stroke-width="1.1" fill-opacity="0.8"/><line x1="899.4" y1="1816.5" x2="899.4" y2="2124.5" stroke="#111" stroke-width="1.4"/><path d="M889.9 2124.5H899.4M889.9 2062.9H899.4M889.9 2001.3H899.4M889.9 1939.7H899.4M889.9 1878.1H899.4M889.9 1816.5H899.4" fill="none" stroke="#333" stroke-width="1.5"/><text x="877.8" y="2133.8" font-size="26" text-anchor="end">0</text><text x="877.8" y="2072.2" font-size="26" text-anchor="end">20</text><text x="877.8" y="2010.6" font-size="26" text-anchor="end">40</text><text x="877.8" y="1949" font-size="26" text-anchor="end">60</text><text x="877.8" y="1887.4" font-size="26" text-anchor="end">80</text><text x="877.8" y="1825.8" font-size="26" text-anchor="end">100</text><line x1="890.4" y1="2124.5" x2="1032.3" y2="2124.5" stroke="#111" stroke-width="1.4"/><line x1="925.8" y1="2124.5" x2="925.8" y2="2134" stroke="#333" stroke-width="1.4"/><line x1="966.1" y1="2124.5" x2="966.1" y2="2134" stroke="#333" stroke-width="1.4"/><line x1="1006.5" y1="2124.5" x2="1006.5" y2="2134" stroke="#333" stroke-width="1.4"/><text x="821.5" y="2128" font-size="26" transform="rotate(-90 821.5 2128)">Percentage CD69<tspan dy="-10" font-size="17">+</tspan><tspan dy="10"> CD103</tspan><tspan dy="-10" font-size="17">+</tspan></text><rect x="912.3" y="1922.8" width="27" height="23.1" fill="#e3e3e3" stroke="#000" stroke-width="3"/><circle cx="925.8" cy="1922.8" r="6.4" fill="#bdbdbd" stroke="#000" stroke-width="1.1" fill-opacity="0.8"/><circle cx="931.3" cy="1935.1" r="6.4" fill="#bdbdbd" stroke="#000" stroke-width="1.1" fill-opacity="0.8"/><circle cx="925.8" cy="1945.9" r="6.4" fill="#bdbdbd" stroke="#000" stroke-width="1.1" fill-opacity="0.8"/><rect x="952.5" y="1915.1" width="27" height="24.6" fill="#a9c4e6" stroke="#000" stroke-width="3"/><circle cx="966" cy="1915.1" r="6.4" fill="#4f86c6" stroke="#000" stroke-width="1.1" fill-opacity="0.8"/><circle cx="972" cy="1933.5" r="6.4" fill="#4f86c6" stroke="#000" stroke-width="1.1" fill-opacity="0.8"/><circle cx="966" cy="1939.7" r="6.4" fill="#4f86c6" stroke="#000" stroke-width="1.1" fill-opacity="0.8"/><rect x="993" y="1907.4" width="27" height="49.3" fill="#a9dca0" stroke="#000" stroke-width="3"/><line x1="993" y1="1932" x2="1020" y2="1932" stroke="#000" stroke-width="2.5"/><circle cx="999.9" cy="1907.4" r="6.4" fill="#3cab5c" stroke="#000" stroke-width="1.1" fill-opacity="0.8"/><circle cx="1013.1" cy="1916.6" r="6.4" fill="#3cab5c" stroke="#000" stroke-width="1.1" fill-opacity="0.8"/><circle cx="1013.1" cy="1950.5" r="6.4" fill="#3cab5c" stroke="#000" stroke-width="1.1" fill-opacity="0.8"/><circle cx="999.9" cy="1956.6" r="6.4" fill="#3cab5c" stroke="#000" stroke-width="1.1" fill-opacity="0.8"/><text transform="translate(1113 844.6) scale(1.0 1)" font-size="32" font-weight="bold" style="font-family:'Liberation Serif',serif">g</text><circle cx="1154.2" cy="915.1" r="9" fill="#ffd966" stroke="#000" stroke-width="1.5"/><text x="1175.9" y="924.1" font-size="26">Spike</text><circle cx="1294.4" cy="915.1" r="9" fill="#ff9500" stroke="#000" stroke-width="1.5"/><text x="1315" y="924.1" font-size="26">NSP7</text><circle cx="1433.8" cy="915.1" r="9" fill="#c00000" stroke="#000" stroke-width="1.5"/><text x="1454.4" y="924.1" font-size="26">NSP12</text><circle cx="1593.5" cy="915.1" r="9" fill="#8b4a0a" stroke="#000" stroke-width="1.5"/><text x="1615.1" y="924.1" font-size="26">NSP13</text><line x1="1216.6" y1="1000" x2="1216.6" y2="1322.7" stroke="#111" stroke-width="1.4"/><path d="M1206.6 1322.7H1216.6M1206.6 1215.1H1216.6M1206.6 1107.6H1216.6M1206.6 1000.0H1216.6" fill="none" stroke="#444" stroke-width="1.5"/><text x="1195.3" y="1332" font-size="26" text-anchor="end">0</text><text x="1195.3" y="1224.4" font-size="26" text-anchor="end">2</text><text x="1195.3" y="1116.9" font-size="26" text-anchor="end">4</text><text x="1195.3" y="1009.3" font-size="26" text-anchor="end">6</text><line x1="1206.6" y1="1322.7" x2="1365.4" y2="1322.7" stroke="#333" stroke-width="1.6"/><line x1="1258.7" y1="1322.7" x2="1258.7" y2="1332.2" stroke="#333" stroke-width="1.4"/><line x1="1322.4" y1="1322.7" x2="1322.4" y2="1332.2" stroke="#333" stroke-width="1.4"/><rect x="1238.1" y="1083.1" width="41.2" height="239.6" fill="#7f7f7f" stroke="#000" stroke-width="2.8"/><rect x="1301.8" y="1264.1" width="41.2" height="58.6" fill="#7f7f7f" stroke="#000" stroke-width="2.8"/><circle cx="1270.6" cy="1042.8" r="5.9" fill="#964f00" stroke="#000" stroke-width="1.3"/><circle cx="1246.5" cy="1053" r="5.9" fill="#fdd47c" stroke="#000" stroke-width="1.3"/><circle cx="1258.7" cy="1057.7" r="5.9" fill="#964f00" stroke="#000" stroke-width="1.3"/><circle cx="1246.6" cy="1064.2" r="5.9" fill="#ff9500" stroke="#000" stroke-width="1.3"/><circle cx="1270.3" cy="1066" r="5.9" fill="#dc1e00" stroke="#000" stroke-width="1.3"/><circle cx="1252.8" cy="1074.2" r="5.9" fill="#fdd47c" stroke="#000" stroke-width="1.3"/><circle cx="1256.3" cy="1082.5" r="5.9" fill="#fdd47c" stroke="#000" stroke-width="1.3"/><circle cx="1264.2" cy="1082.2" r="5.9" fill="#964f00" stroke="#000" stroke-width="1.3"/><circle cx="1272.2" cy="1083.9" r="5.9" fill="#ff9500" stroke="#000" stroke-width="1.3"/><circle cx="1246.6" cy="1085.3" r="5.9" fill="#ff9500" stroke="#000" stroke-width="1.3"/><circle cx="1258.9" cy="1102" r="5.9" fill="#dc1e00" stroke="#000" stroke-width="1.3"/><circle cx="1268.2" cy="1148.8" r="5.9" fill="#fdd47c" stroke="#000" stroke-width="1.3"/><circle cx="1248.8" cy="1159.5" r="5.9" fill="#dc1e00" stroke="#000" stroke-width="1.3"/><circle cx="1248.8" cy="1186.3" r="5.9" fill="#ff9500" stroke="#000" stroke-width="1.3"/><circle cx="1268.2" cy="1186.3" r="5.9" fill="#964f00" stroke="#000" stroke-width="1.3"/><circle cx="1258.1" cy="1206.8" r="5.9" fill="#dc1e00" stroke="#000" stroke-width="1.3"/><circle cx="1311.2" cy="1225.9" r="5.9" fill="#dc1e00" stroke="#000" stroke-width="1.3"/><circle cx="1317.6" cy="1231.5" r="5.9" fill="#ff9500" stroke="#000" stroke-width="1.3"/><circle cx="1328" cy="1229.3" r="5.9" fill="#dc1e00" stroke="#000" stroke-width="1.3"/><circle cx="1334.4" cy="1224" r="5.9" fill="#964f00" stroke="#000" stroke-width="1.3"/><circle cx="1322.4" cy="1240.5" r="5.9" fill="#fdd47c" stroke="#000" stroke-width="1.3"/><circle cx="1310.5" cy="1253.9" r="5.9" fill="#ff9500" stroke="#000" stroke-width="1.3"/><circle cx="1334.4" cy="1255" r="5.9" fill="#964f00" stroke="#000" stroke-width="1.3"/><circle cx="1322.4" cy="1260.3" r="5.9" fill="#fdd47c" stroke="#000" stroke-width="1.3"/><circle cx="1312.3" cy="1268.9" r="5.9" fill="#964f00" stroke="#000" stroke-width="1.3"/><circle cx="1331.8" cy="1271.5" r="5.9" fill="#fdd47c" stroke="#000" stroke-width="1.3"/><circle cx="1312" cy="1274.1" r="5.9" fill="#964f00" stroke="#000" stroke-width="1.3"/><circle cx="1326.2" cy="1280.8" r="5.9" fill="#ff9500" stroke="#000" stroke-width="1.3"/><circle cx="1319.8" cy="1279" r="5.9" fill="#dc1e00" stroke="#000" stroke-width="1.3"/><circle cx="1332.5" cy="1277.1" r="5.9" fill="#dc1e00" stroke="#000" stroke-width="1.3"/><circle cx="1331.8" cy="1289.4" r="5.9" fill="#ff9500" stroke="#000" stroke-width="1.3"/><circle cx="1313.1" cy="1298.8" r="5.9" fill="#fdd47c" stroke="#000" stroke-width="1.3"/><line x1="1260" y1="1022.8" x2="1315.7" y2="1022.8" stroke="#000" stroke-width="1.5"/><text x="1226.4" y="1010" font-size="26"><tspan font-style="italic">P</tspan> < 0.0001</text><text x="1156" y="1296" font-size="26" transform="rotate(-90 1156 1296)">Percentage TNF<tspan dy="-10" font-size="17">+</tspan><tspan dy="10"> CD4</tspan><tspan dy="-10" font-size="17">+</tspan></text><text x="1269.5" y="1349.5" font-size="26" text-anchor="end" transform="rotate(-45 1269.5 1349.5)">CD69<tspan dy="-10" font-size="17">+</tspan></text><text x="1333.5" y="1349.5" font-size="26" text-anchor="end" transform="rotate(-45 1333.5 1349.5)">CD69<tspan dy="-10" font-size="17">−</tspan></text><line x1="1553.5" y1="1000" x2="1553.5" y2="1322.7" stroke="#111" stroke-width="1.4"/><path d="M1543.5 1322.7H1553.5M1543.5 1258.2H1553.5M1543.5 1193.6H1553.5M1543.5 1129.1H1553.5M1543.5 1064.5H1553.5M1543.5 1000.0H1553.5" fill="none" stroke="#444" stroke-width="1.5"/><text x="1531.8" y="1332" font-size="26" text-anchor="end">0</text><text x="1531.8" y="1267.5" font-size="26" text-anchor="end">0.2</text><text x="1531.8" y="1202.9" font-size="26" text-anchor="end">0.4</text><text x="1531.8" y="1138.4" font-size="26" text-anchor="end">0.6</text><text x="1531.8" y="1073.8" font-size="26" text-anchor="end">0.8</text><text x="1531.8" y="1009.3" font-size="26" text-anchor="end">1.0</text><line x1="1543.5" y1="1322.7" x2="1701.9" y2="1322.7" stroke="#333" stroke-width="1.6"/><line x1="1595.5" y1="1322.7" x2="1595.5" y2="1332.2" stroke="#333" stroke-width="1.4"/><line x1="1659.8" y1="1322.7" x2="1659.8" y2="1332.2" stroke="#333" stroke-width="1.4"/><rect x="1574.9" y="1226.5" width="41.2" height="96.2" fill="#7f7f7f" stroke="#000" stroke-width="2.8"/><rect x="1639.2" y="1312.7" width="41.2" height="10" fill="#7f7f7f" stroke="#000" stroke-width="2.8"/><circle cx="1595.3" cy="1072.9" r="5.9" fill="#fdd47c" stroke="#000" stroke-width="1.3"/><circle cx="1595.3" cy="1096" r="5.9" fill="#dc1e00" stroke="#000" stroke-width="1.3"/><circle cx="1583.4" cy="1129.7" r="5.9" fill="#ff9500" stroke="#000" stroke-width="1.3"/><circle cx="1607.3" cy="1127.9" r="5.9" fill="#964f00" stroke="#000" stroke-width="1.3"/><circle cx="1595.3" cy="1132" r="5.9" fill="#964f00" stroke="#000" stroke-width="1.3"/><circle cx="1583.4" cy="1206" r="5.9" fill="#fdd47c" stroke="#000" stroke-width="1.3"/><circle cx="1607.3" cy="1210.6" r="5.9" fill="#ff9500" stroke="#000" stroke-width="1.3"/><circle cx="1595.3" cy="1217.3" r="5.9" fill="#ff9500" stroke="#000" stroke-width="1.3"/><circle cx="1586" cy="1236.7" r="5.9" fill="#dc1e00" stroke="#000" stroke-width="1.3"/><circle cx="1604.7" cy="1243.5" r="5.9" fill="#fdd47c" stroke="#000" stroke-width="1.3"/><circle cx="1595.3" cy="1264" r="5.9" fill="#964f00" stroke="#000" stroke-width="1.3"/><circle cx="1595.3" cy="1284.6" r="5.9" fill="#dc1e00" stroke="#000" stroke-width="1.3"/><circle cx="1604.7" cy="1300.7" r="5.9" fill="#ff9500" stroke="#000" stroke-width="1.3"/><circle cx="1601" cy="1303.3" r="5.9" fill="#fdd47c" stroke="#000" stroke-width="1.3"/><circle cx="1585.2" cy="1302.1" r="5.9" fill="#dc1e00" stroke="#000" stroke-width="1.3"/><circle cx="1590.8" cy="1304.4" r="5.9" fill="#964f00" stroke="#000" stroke-width="1.3"/><circle cx="1647" cy="1292" r="5.9" fill="#fdd47c" stroke="#000" stroke-width="1.3"/><circle cx="1671.2" cy="1288.3" r="5.9" fill="#dc1e00" stroke="#000" stroke-width="1.3"/><circle cx="1659.6" cy="1296.9" r="5.9" fill="#964f00" stroke="#000" stroke-width="1.3"/><circle cx="1647" cy="1304" r="5.9" fill="#964f00" stroke="#000" stroke-width="1.3"/><circle cx="1671.2" cy="1306.3" r="5.9" fill="#ff9500" stroke="#000" stroke-width="1.3"/><circle cx="1649.5" cy="1312.6" r="5.9" fill="#ff9500" stroke="#000" stroke-width="1.3"/><circle cx="1667.5" cy="1312.6" r="5.9" fill="#dc1e00" stroke="#000" stroke-width="1.3"/><circle cx="1655.1" cy="1319" r="5.9" fill="#dc1e00" stroke="#000" stroke-width="1.3"/><circle cx="1664.5" cy="1320" r="5.9" fill="#964f00" stroke="#000" stroke-width="1.3"/><circle cx="1660.7" cy="1320" r="5.9" fill="#964f00" stroke="#000" stroke-width="1.3"/><line x1="1596.4" y1="1022.8" x2="1652.5" y2="1022.8" stroke="#000" stroke-width="1.5"/><text x="1562.8" y="1010" font-size="26"><tspan font-style="italic">P</tspan> < 0.0001</text><text x="1469" y="1301.4" font-size="26" transform="rotate(-90 1469 1301.4)">Percentage IFN-γ<tspan dy="-10" font-size="17">+</tspan><tspan dy="10"> CD4</tspan><tspan dy="-10" font-size="17">+</tspan></text><text x="1606.5" y="1349.5" font-size="26" text-anchor="end" transform="rotate(-45 1606.5 1349.5)">CD69<tspan dy="-10" font-size="17">+</tspan></text><text x="1670.5" y="1349.5" font-size="26" text-anchor="end" transform="rotate(-45 1670.5 1349.5)">CD69<tspan dy="-10" font-size="17">−</tspan></text><text transform="translate(1114 1516.7) scale(0.84 1)" font-size="32.5" font-weight="bold">h</text><line x1="1216.6" y1="1544.8" x2="1216.6" y2="1891.8" stroke="#111" stroke-width="1.4"/><path d="M1206.6 1891.8H1216.6M1206.6 1805.0H1216.6M1206.6 1718.3H1216.6M1206.6 1631.5H1216.6M1206.6 1544.8H1216.6" fill="none" stroke="#444" stroke-width="1.5"/><text x="1194.2" y="1901.1" font-size="26" text-anchor="end">0</text><text x="1194.2" y="1814.3" font-size="26" text-anchor="end">0.2</text><text x="1194.2" y="1727.6" font-size="26" text-anchor="end">0.4</text><text x="1194.2" y="1640.8" font-size="26" text-anchor="end">0.6</text><text x="1194.2" y="1554.1" font-size="26" text-anchor="end">0.8</text><line x1="1206.6" y1="1891.8" x2="1408.4" y2="1891.8" stroke="#333" stroke-width="1.6"/><line x1="1254.7" y1="1891.8" x2="1254.7" y2="1901.3" stroke="#333" stroke-width="1.4"/><line x1="1312.1" y1="1891.8" x2="1312.1" y2="1901.3" stroke="#333" stroke-width="1.4"/><line x1="1369.3" y1="1891.8" x2="1369.3" y2="1901.3" stroke="#333" stroke-width="1.4"/><rect x="1235.6" y="1753.4" width="38.2" height="138.4" fill="#7f7f7f" stroke="#000" stroke-width="2.8"/><rect x="1293" y="1843.7" width="38.2" height="48.1" fill="#7f7f7f" stroke="#000" stroke-width="2.8"/><rect x="1350.2" y="1872.7" width="38.2" height="19.1" fill="#7f7f7f" stroke="#000" stroke-width="2.8"/><circle cx="1254" cy="1604.6" r="5.9" fill="#dc1e00" stroke="#000" stroke-width="1.3"/><circle cx="1263.7" cy="1643.1" r="5.9" fill="#964f00" stroke="#000" stroke-width="1.3"/><circle cx="1244.7" cy="1660.7" r="5.9" fill="#964f00" stroke="#000" stroke-width="1.3"/><circle cx="1254" cy="1742.9" r="5.9" fill="#dc1e00" stroke="#000" stroke-width="1.3"/><circle cx="1245" cy="1757.1" r="5.9" fill="#ff9500" stroke="#000" stroke-width="1.3"/><circle cx="1263.4" cy="1759" r="5.9" fill="#fdd47c" stroke="#000" stroke-width="1.3"/><circle cx="1249.5" cy="1764.6" r="5.9" fill="#964f00" stroke="#000" stroke-width="1.3"/><circle cx="1258.9" cy="1770.2" r="5.9" fill="#ff9500" stroke="#000" stroke-width="1.3"/><circle cx="1243.9" cy="1779.5" r="5.9" fill="#fdd47c" stroke="#000" stroke-width="1.3"/><circle cx="1253.3" cy="1776.5" r="5.9" fill="#fdd47c" stroke="#000" stroke-width="1.3"/><circle cx="1263.7" cy="1787" r="5.9" fill="#ff9500" stroke="#000" stroke-width="1.3"/><circle cx="1248.8" cy="1793.4" r="5.9" fill="#dc1e00" stroke="#000" stroke-width="1.3"/><circle cx="1258.9" cy="1799" r="5.9" fill="#dc1e00" stroke="#000" stroke-width="1.3"/><circle cx="1245" cy="1800.6" r="5.9" fill="#ff9500" stroke="#000" stroke-width="1.3"/><circle cx="1264.5" cy="1800.6" r="5.9" fill="#fdd47c" stroke="#000" stroke-width="1.3"/><circle cx="1254" cy="1820.4" r="5.9" fill="#964f00" stroke="#000" stroke-width="1.3"/><circle cx="1312" cy="1799.4" r="5.9" fill="#964f00" stroke="#000" stroke-width="1.3"/><circle cx="1302.6" cy="1830.5" r="5.9" fill="#fdd47c" stroke="#000" stroke-width="1.3"/><circle cx="1302.6" cy="1824.9" r="5.9" fill="#dc1e00" stroke="#000" stroke-width="1.3"/><circle cx="1321.7" cy="1824.1" r="5.9" fill="#964f00" stroke="#000" stroke-width="1.3"/><circle cx="1322.4" cy="1833" r="5.9" fill="#964f00" stroke="#000" stroke-width="1.3"/><circle cx="1307.5" cy="1843.6" r="5.9" fill="#fdd47c" stroke="#000" stroke-width="1.3"/><circle cx="1316.8" cy="1843.6" r="5.9" fill="#fdd47c" stroke="#000" stroke-width="1.3"/><circle cx="1302.6" cy="1846.5" r="5.9" fill="#ff9500" stroke="#000" stroke-width="1.3"/><circle cx="1320.6" cy="1849.2" r="5.9" fill="#dc1e00" stroke="#000" stroke-width="1.3"/><circle cx="1309.3" cy="1855.5" r="5.9" fill="#dc1e00" stroke="#000" stroke-width="1.3"/><circle cx="1315" cy="1858.5" r="5.9" fill="#dc1e00" stroke="#000" stroke-width="1.3"/><circle cx="1312" cy="1866.7" r="5.9" fill="#964f00" stroke="#000" stroke-width="1.3"/><circle cx="1359.8" cy="1851.8" r="5.9" fill="#fdd47c" stroke="#000" stroke-width="1.3"/><circle cx="1359.8" cy="1863" r="5.9" fill="#ff9500" stroke="#000" stroke-width="1.3"/><circle cx="1379.6" cy="1859.3" r="5.9" fill="#dc1e00" stroke="#000" stroke-width="1.3"/><circle cx="1366.2" cy="1869" r="5.9" fill="#ff9500" stroke="#000" stroke-width="1.3"/><circle cx="1376.6" cy="1871.6" r="5.9" fill="#fdd47c" stroke="#000" stroke-width="1.3"/><circle cx="1372.9" cy="1869.7" r="5.9" fill="#964f00" stroke="#000" stroke-width="1.3"/><circle cx="1359.8" cy="1878" r="5.9" fill="#964f00" stroke="#000" stroke-width="1.3"/><circle cx="1379.6" cy="1878" r="5.9" fill="#964f00" stroke="#000" stroke-width="1.3"/><circle cx="1366.2" cy="1884.7" r="5.9" fill="#fdd47c" stroke="#000" stroke-width="1.3"/><circle cx="1372.9" cy="1884.7" r="5.9" fill="#964f00" stroke="#000" stroke-width="1.3"/><circle cx="1367.3" cy="1892.1" r="5.9" fill="#dc1e00" stroke="#000" stroke-width="1.3"/><line x1="1252.5" y1="1546.6" x2="1361" y2="1546.6" stroke="#000" stroke-width="1.5"/><text x="1245.8" y="1535.4" font-size="26"><tspan font-style="italic">P</tspan> < 0.0001</text><line x1="1254.4" y1="1586.6" x2="1313.1" y2="1586.6" stroke="#000" stroke-width="1.5"/><text x="1225.2" y="1574.7" font-size="26"><tspan font-style="italic">P</tspan> = 0.0034</text><line x1="1307.5" y1="1772" x2="1365.4" y2="1772" stroke="#000" stroke-width="1.5"/><text x="1282.4" y="1760.8" font-size="26"><tspan font-style="italic">P</tspan> = 0.0073</text><text x="1137" y="1853" font-size="26" transform="rotate(-90 1137 1853)">Percentage TNF<tspan dy="-10" font-size="17">+</tspan><tspan dy="10"> CD8</tspan><tspan dy="-10" font-size="17">+</tspan></text><text x="1265" y="1917" font-size="26" text-anchor="end" transform="rotate(-45 1265 1917)">CD69<tspan dy="-10" font-size="17">+</tspan><tspan dy="10">CD103</tspan><tspan dy="-10" font-size="17">+</tspan></text><text x="1324" y="1917" font-size="26" text-anchor="end" transform="rotate(-45 1324 1917)">CD69<tspan dy="-10" font-size="17">+</tspan><tspan dy="10">CD103</tspan><tspan dy="-10" font-size="17">−</tspan></text><text x="1380" y="1917" font-size="26" text-anchor="end" transform="rotate(-45 1380 1917)">CD69<tspan dy="-10" font-size="17">−</tspan></text><line x1="1553.5" y1="1539.2" x2="1553.5" y2="1891.8" stroke="#111" stroke-width="1.4"/><path d="M1543.5 1891.8H1553.5M1543.5 1821.3H1553.5M1543.5 1750.8H1553.5M1543.5 1680.2H1553.5M1543.5 1609.7H1553.5M1543.5 1539.2H1553.5" fill="none" stroke="#444" stroke-width="1.5"/><text x="1531.8" y="1901.1" font-size="26" text-anchor="end">0</text><text x="1531.8" y="1830.6" font-size="26" text-anchor="end">0.1</text><text x="1531.8" y="1760.1" font-size="26" text-anchor="end">0.2</text><text x="1531.8" y="1689.5" font-size="26" text-anchor="end">0.3</text><text x="1531.8" y="1619" font-size="26" text-anchor="end">0.4</text><text x="1531.8" y="1548.5" font-size="26" text-anchor="end">0.5</text><line x1="1543.5" y1="1891.8" x2="1749" y2="1891.8" stroke="#333" stroke-width="1.6"/><line x1="1592.1" y1="1891.8" x2="1592.1" y2="1901.3" stroke="#333" stroke-width="1.4"/><line x1="1650.8" y1="1891.8" x2="1650.8" y2="1901.3" stroke="#333" stroke-width="1.4"/><line x1="1709.5" y1="1891.8" x2="1709.5" y2="1901.3" stroke="#333" stroke-width="1.4"/><rect x="1572.5" y="1800.8" width="39.2" height="91" fill="#7f7f7f" stroke="#000" stroke-width="2.8"/><rect x="1631.2" y="1839.6" width="39.2" height="52.2" fill="#7f7f7f" stroke="#000" stroke-width="2.8"/><rect x="1689.9" y="1889" width="39.2" height="2.8" fill="#7f7f7f" stroke="#000" stroke-width="2.8"/><circle cx="1592" cy="1601.6" r="5.9" fill="#dc1e00" stroke="#000" stroke-width="1.3"/><circle cx="1592" cy="1683.1" r="5.9" fill="#ff9500" stroke="#000" stroke-width="1.3"/><circle cx="1582.2" cy="1765.3" r="5.9" fill="#dc1e00" stroke="#000" stroke-width="1.3"/><circle cx="1601.7" cy="1768" r="5.9" fill="#fdd47c" stroke="#000" stroke-width="1.3"/><circle cx="1583" cy="1795.7" r="5.9" fill="#964f00" stroke="#000" stroke-width="1.3"/><circle cx="1602" cy="1801.7" r="5.9" fill="#964f00" stroke="#000" stroke-width="1.3"/><circle cx="1592" cy="1802.4" r="5.9" fill="#fdd47c" stroke="#000" stroke-width="1.3"/><circle cx="1582.2" cy="1821.1" r="5.9" fill="#ff9500" stroke="#000" stroke-width="1.3"/><circle cx="1602.8" cy="1821.1" r="5.9" fill="#fdd47c" stroke="#000" stroke-width="1.3"/><circle cx="1586" cy="1836.8" r="5.9" fill="#ff9500" stroke="#000" stroke-width="1.3"/><circle cx="1597.2" cy="1839" r="5.9" fill="#dc1e00" stroke="#000" stroke-width="1.3"/><circle cx="1583" cy="1850.3" r="5.9" fill="#964f00" stroke="#000" stroke-width="1.3"/><circle cx="1589.7" cy="1852.9" r="5.9" fill="#964f00" stroke="#000" stroke-width="1.3"/><circle cx="1601" cy="1851" r="5.9" fill="#dc1e00" stroke="#000" stroke-width="1.3"/><circle cx="1595.3" cy="1856.6" r="5.9" fill="#ff9500" stroke="#000" stroke-width="1.3"/><circle cx="1592.7" cy="1866" r="5.9" fill="#fdd47c" stroke="#000" stroke-width="1.3"/><circle cx="1650.7" cy="1677.5" r="5.9" fill="#dc1e00" stroke="#000" stroke-width="1.3"/><circle cx="1641" cy="1798" r="5.9" fill="#fdd47c" stroke="#000" stroke-width="1.3"/><circle cx="1660.7" cy="1805.4" r="5.9" fill="#ff9500" stroke="#000" stroke-width="1.3"/><circle cx="1660.7" cy="1828.6" r="5.9" fill="#dc1e00" stroke="#000" stroke-width="1.3"/><circle cx="1641" cy="1832.3" r="5.9" fill="#964f00" stroke="#000" stroke-width="1.3"/><circle cx="1640.2" cy="1846.5" r="5.9" fill="#fdd47c" stroke="#000" stroke-width="1.3"/><circle cx="1660.7" cy="1849.2" r="5.9" fill="#fdd47c" stroke="#000" stroke-width="1.3"/><circle cx="1640.2" cy="1856.6" r="5.9" fill="#ff9500" stroke="#000" stroke-width="1.3"/><circle cx="1646.5" cy="1854.8" r="5.9" fill="#dc1e00" stroke="#000" stroke-width="1.3"/><circle cx="1656.3" cy="1855.5" r="5.9" fill="#964f00" stroke="#000" stroke-width="1.3"/><circle cx="1644" cy="1869.7" r="5.9" fill="#964f00" stroke="#000" stroke-width="1.3"/><circle cx="1660.7" cy="1869.7" r="5.9" fill="#ff9500" stroke="#000" stroke-width="1.3"/><circle cx="1648.4" cy="1874.2" r="5.9" fill="#964f00" stroke="#000" stroke-width="1.3"/><circle cx="1655.1" cy="1875.3" r="5.9" fill="#dc1e00" stroke="#000" stroke-width="1.3"/><circle cx="1721.7" cy="1878" r="5.9" fill="#fdd47c" stroke="#000" stroke-width="1.3"/><circle cx="1694.4" cy="1891.4" r="5.9" fill="#dc1e00" stroke="#000" stroke-width="1.3"/><circle cx="1699" cy="1891.4" r="5.9" fill="#964f00" stroke="#000" stroke-width="1.3"/><circle cx="1705" cy="1891.4" r="5.9" fill="#dc1e00" stroke="#000" stroke-width="1.3"/><circle cx="1711" cy="1891.4" r="5.9" fill="#964f00" stroke="#000" stroke-width="1.3"/><circle cx="1716" cy="1891.4" r="5.9" fill="#ff9500" stroke="#000" stroke-width="1.3"/><circle cx="1722" cy="1891.4" r="5.9" fill="#dc1e00" stroke="#000" stroke-width="1.3"/><circle cx="1727" cy="1891.4" r="5.9" fill="#964f00" stroke="#000" stroke-width="1.3"/><circle cx="1701" cy="1891.4" r="5.9" fill="#964f00" stroke="#000" stroke-width="1.3"/><circle cx="1714" cy="1891.4" r="5.9" fill="#964f00" stroke="#000" stroke-width="1.3"/><line x1="1589.7" y1="1584" x2="1700.7" y2="1584" stroke="#000" stroke-width="1.5"/><text x="1584.9" y="1571.7" font-size="26"><tspan font-style="italic">P</tspan> < 0.0001</text><line x1="1649.5" y1="1652" x2="1709.3" y2="1652" stroke="#000" stroke-width="1.5"/><text x="1620.7" y="1639" font-size="26"><tspan font-style="italic">P</tspan> = 0.0001</text><text x="1469.5" y="1857" font-size="26" transform="rotate(-90 1469.5 1857)">Percentage IFN-γ<tspan dy="-10" font-size="17">+</tspan><tspan dy="10"> CD8</tspan><tspan dy="-10" font-size="17">+</tspan></text><text x="1603" y="1917" font-size="26" text-anchor="end" transform="rotate(-45 1603 1917)">CD69<tspan dy="-10" font-size="17">+</tspan><tspan dy="10">CD103</tspan><tspan dy="-10" font-size="17">+</tspan></text><text x="1661.5" y="1917" font-size="26" text-anchor="end" transform="rotate(-45 1661.5 1917)">CD69<tspan dy="-10" font-size="17">+</tspan><tspan dy="10">CD103</tspan><tspan dy="-10" font-size="17">−</tspan></text><text x="1720" y="1917" font-size="26" text-anchor="end" transform="rotate(-45 1720 1917)">CD69<tspan dy="-10" font-size="17">−</tspan></text>
</svg></body></html>
